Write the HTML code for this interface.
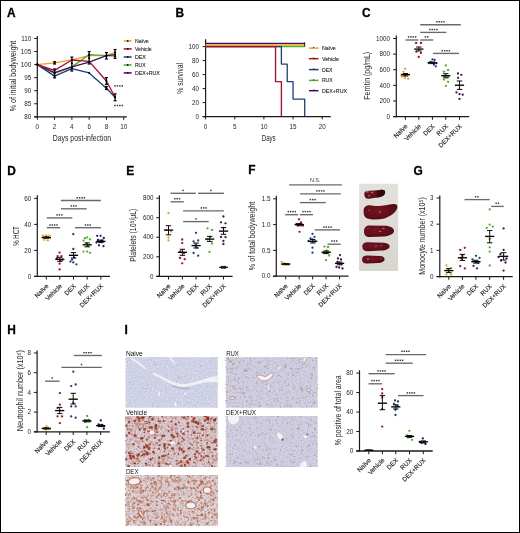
<!DOCTYPE html>
<html><head><meta charset="utf-8"><style>
html,body{margin:0;padding:0;background:#fff;}
body{width:520px;height:533px;overflow:hidden;}
.frame{position:absolute;left:0;top:0;width:518px;height:531px;border:1px solid #000;}
svg{position:absolute;left:0;top:0;will-change:transform;font-family:"Liberation Sans",sans-serif;}
</style></head><body>
<svg width="520" height="533" viewBox="0 0 520 533" font-family="Liberation Sans, sans-serif"><text x="7.00" y="17.20" font-size="11.9" fill="#000" text-anchor="start" font-weight="bold" stroke="#000" stroke-width="0.3">A</text>
<line x1="37.30" y1="36.00" x2="37.30" y2="117.40" stroke="#1a1a1a" stroke-width="1.2" />
<line x1="34.20" y1="116.90" x2="126.80" y2="116.90" stroke="#1a1a1a" stroke-width="1.3" />
<line x1="34.20" y1="116.80" x2="37.30" y2="116.80" stroke="#1a1a1a" stroke-width="1.0" />
<text x="31.20" y="119.00" font-size="6.3" fill="#262626" text-anchor="end" >80</text>
<line x1="34.20" y1="103.75" x2="37.30" y2="103.75" stroke="#1a1a1a" stroke-width="1.0" />
<text x="31.20" y="105.95" font-size="6.3" fill="#262626" text-anchor="end" >85</text>
<line x1="34.20" y1="90.70" x2="37.30" y2="90.70" stroke="#1a1a1a" stroke-width="1.0" />
<text x="31.20" y="92.90" font-size="6.3" fill="#262626" text-anchor="end" >90</text>
<line x1="34.20" y1="77.65" x2="37.30" y2="77.65" stroke="#1a1a1a" stroke-width="1.0" />
<text x="31.20" y="79.85" font-size="6.3" fill="#262626" text-anchor="end" >95</text>
<line x1="34.20" y1="64.60" x2="37.30" y2="64.60" stroke="#1a1a1a" stroke-width="1.0" />
<text x="31.20" y="66.80" font-size="6.3" fill="#262626" text-anchor="end" >100</text>
<line x1="34.20" y1="51.55" x2="37.30" y2="51.55" stroke="#1a1a1a" stroke-width="1.0" />
<text x="31.20" y="53.75" font-size="6.3" fill="#262626" text-anchor="end" >105</text>
<line x1="34.20" y1="38.50" x2="37.30" y2="38.50" stroke="#1a1a1a" stroke-width="1.0" />
<text x="31.20" y="40.70" font-size="6.3" fill="#262626" text-anchor="end" >110</text>
<line x1="37.30" y1="116.90" x2="37.30" y2="119.80" stroke="#1a1a1a" stroke-width="1.0" />
<text x="37.30" y="128.80" font-size="6.3" fill="#262626" text-anchor="middle" >0</text>
<line x1="54.58" y1="116.90" x2="54.58" y2="119.80" stroke="#1a1a1a" stroke-width="1.0" />
<text x="54.58" y="128.80" font-size="6.3" fill="#262626" text-anchor="middle" >2</text>
<line x1="71.86" y1="116.90" x2="71.86" y2="119.80" stroke="#1a1a1a" stroke-width="1.0" />
<text x="71.86" y="128.80" font-size="6.3" fill="#262626" text-anchor="middle" >4</text>
<line x1="89.14" y1="116.90" x2="89.14" y2="119.80" stroke="#1a1a1a" stroke-width="1.0" />
<text x="89.14" y="128.80" font-size="6.3" fill="#262626" text-anchor="middle" >6</text>
<line x1="106.42" y1="116.90" x2="106.42" y2="119.80" stroke="#1a1a1a" stroke-width="1.0" />
<text x="106.42" y="128.80" font-size="6.3" fill="#262626" text-anchor="middle" >8</text>
<line x1="123.70" y1="116.90" x2="123.70" y2="119.80" stroke="#1a1a1a" stroke-width="1.0" />
<text x="123.70" y="128.80" font-size="6.3" fill="#262626" text-anchor="middle" >10</text>
<text x="52.80" y="141.10" font-size="9.8" fill="#262626" text-anchor="start" textLength="58.3" lengthAdjust="spacingAndGlyphs" >Days post-infection</text>
<text x="0" y="0" font-size="9.6" fill="#262626" text-anchor="start" transform="translate(15.60,111.20) rotate(-90)" textLength="70.5" lengthAdjust="spacingAndGlyphs" >% of initial bodyweight</text>
<polyline points="37.30,64.60 54.58,62.90 71.86,59.80 89.14,55.60 106.42,55.70 115.06,52.30" fill="none" stroke="#eea02a" stroke-width="1.3" stroke-linejoin="round"/>
<polyline points="37.30,64.60 54.58,73.50 71.86,66.90 89.14,54.60 106.42,55.70 115.06,56.20" fill="none" stroke="#4fb324" stroke-width="1.3" stroke-linejoin="round"/>
<polyline points="37.30,64.60 54.58,72.70 71.86,66.90 89.14,62.10 106.42,55.70 115.06,54.60" fill="none" stroke="#42105e" stroke-width="1.3" stroke-linejoin="round"/>
<polyline points="37.30,64.60 54.58,76.10 71.86,68.60 89.14,72.90 106.42,88.30 115.06,97.30" fill="none" stroke="#1d3c82" stroke-width="1.3" stroke-linejoin="round"/>
<polyline points="37.30,64.60 54.58,70.40 71.86,60.00 89.14,61.40 106.42,81.00 115.06,97.30" fill="none" stroke="#b50a28" stroke-width="1.3" stroke-linejoin="round"/>
<line x1="54.58" y1="61.70" x2="54.58" y2="64.00" stroke="#000" stroke-width="1.25" />
<line x1="53.08" y1="61.70" x2="56.08" y2="61.70" stroke="#000" stroke-width="1.2" />
<line x1="53.08" y1="64.00" x2="56.08" y2="64.00" stroke="#000" stroke-width="1.2" />
<line x1="54.58" y1="69.00" x2="54.58" y2="77.90" stroke="#000" stroke-width="1.25" />
<line x1="53.08" y1="69.00" x2="56.08" y2="69.00" stroke="#000" stroke-width="1.2" />
<line x1="53.08" y1="77.90" x2="56.08" y2="77.90" stroke="#000" stroke-width="1.2" />
<line x1="71.86" y1="57.10" x2="71.86" y2="71.00" stroke="#000" stroke-width="1.25" />
<line x1="70.36" y1="57.10" x2="73.36" y2="57.10" stroke="#000" stroke-width="1.2" />
<line x1="70.36" y1="71.00" x2="73.36" y2="71.00" stroke="#000" stroke-width="1.2" />
<line x1="89.14" y1="51.60" x2="89.14" y2="64.00" stroke="#000" stroke-width="1.25" />
<line x1="87.64" y1="51.60" x2="90.64" y2="51.60" stroke="#000" stroke-width="1.2" />
<line x1="87.64" y1="64.00" x2="90.64" y2="64.00" stroke="#000" stroke-width="1.2" />
<line x1="106.42" y1="52.60" x2="106.42" y2="59.00" stroke="#000" stroke-width="1.25" />
<line x1="104.92" y1="52.60" x2="107.92" y2="52.60" stroke="#000" stroke-width="1.2" />
<line x1="104.92" y1="59.00" x2="107.92" y2="59.00" stroke="#000" stroke-width="1.2" />
<line x1="106.42" y1="77.60" x2="106.42" y2="84.40" stroke="#000" stroke-width="1.25" />
<line x1="104.92" y1="77.60" x2="107.92" y2="77.60" stroke="#000" stroke-width="1.2" />
<line x1="104.92" y1="84.40" x2="107.92" y2="84.40" stroke="#000" stroke-width="1.2" />
<line x1="106.42" y1="86.50" x2="106.42" y2="89.50" stroke="#000" stroke-width="1.25" />
<line x1="104.92" y1="86.50" x2="107.92" y2="86.50" stroke="#000" stroke-width="1.2" />
<line x1="104.92" y1="89.50" x2="107.92" y2="89.50" stroke="#000" stroke-width="1.2" />
<line x1="115.06" y1="49.50" x2="115.06" y2="58.30" stroke="#000" stroke-width="1.25" />
<line x1="113.56" y1="49.50" x2="116.56" y2="49.50" stroke="#000" stroke-width="1.2" />
<line x1="113.56" y1="58.30" x2="116.56" y2="58.30" stroke="#000" stroke-width="1.2" />
<line x1="115.06" y1="93.90" x2="115.06" y2="100.70" stroke="#000" stroke-width="1.25" />
<line x1="113.56" y1="93.90" x2="116.56" y2="93.90" stroke="#000" stroke-width="1.2" />
<line x1="113.56" y1="100.70" x2="116.56" y2="100.70" stroke="#000" stroke-width="1.2" />
<circle cx="37.30" cy="64.60" r="1.0" fill="#000"/>
<circle cx="54.58" cy="62.90" r="1.0" fill="#000"/>
<circle cx="71.86" cy="59.80" r="1.0" fill="#000"/>
<circle cx="89.14" cy="55.60" r="1.0" fill="#000"/>
<circle cx="106.42" cy="55.70" r="1.0" fill="#000"/>
<circle cx="115.06" cy="52.30" r="1.0" fill="#000"/>
<circle cx="37.30" cy="64.60" r="1.0" fill="#000"/>
<circle cx="54.58" cy="73.50" r="1.0" fill="#000"/>
<circle cx="71.86" cy="66.90" r="1.0" fill="#000"/>
<circle cx="89.14" cy="54.60" r="1.0" fill="#000"/>
<circle cx="106.42" cy="55.70" r="1.0" fill="#000"/>
<circle cx="115.06" cy="56.20" r="1.0" fill="#000"/>
<circle cx="37.30" cy="64.60" r="1.0" fill="#000"/>
<circle cx="54.58" cy="72.70" r="1.0" fill="#000"/>
<circle cx="71.86" cy="66.90" r="1.0" fill="#000"/>
<circle cx="89.14" cy="62.10" r="1.0" fill="#000"/>
<circle cx="106.42" cy="55.70" r="1.0" fill="#000"/>
<circle cx="115.06" cy="54.60" r="1.0" fill="#000"/>
<circle cx="37.30" cy="64.60" r="1.0" fill="#000"/>
<circle cx="54.58" cy="76.10" r="1.0" fill="#000"/>
<circle cx="71.86" cy="68.60" r="1.0" fill="#000"/>
<circle cx="89.14" cy="72.90" r="1.0" fill="#000"/>
<circle cx="106.42" cy="88.30" r="1.0" fill="#000"/>
<circle cx="115.06" cy="97.30" r="1.0" fill="#000"/>
<circle cx="37.30" cy="64.60" r="1.0" fill="#000"/>
<circle cx="54.58" cy="70.40" r="1.0" fill="#000"/>
<circle cx="71.86" cy="60.00" r="1.0" fill="#000"/>
<circle cx="89.14" cy="61.40" r="1.0" fill="#000"/>
<circle cx="106.42" cy="81.00" r="1.0" fill="#000"/>
<circle cx="115.06" cy="97.30" r="1.0" fill="#000"/>
<circle cx="71.86" cy="63.40" r="1.1" fill="#000"/>
<circle cx="89.14" cy="58.20" r="1.1" fill="#000"/>
<rect x="114.20" y="85.18" width="1.44" height="1.44" fill="#333"/>
<rect x="116.66" y="85.18" width="1.44" height="1.44" fill="#333"/>
<rect x="119.11" y="85.18" width="1.44" height="1.44" fill="#333"/>
<rect x="121.55" y="85.18" width="1.44" height="1.44" fill="#333"/>
<rect x="114.20" y="104.78" width="1.44" height="1.44" fill="#333"/>
<rect x="116.66" y="104.78" width="1.44" height="1.44" fill="#333"/>
<rect x="119.11" y="104.78" width="1.44" height="1.44" fill="#333"/>
<rect x="121.55" y="104.78" width="1.44" height="1.44" fill="#333"/>
<line x1="123.70" y1="40.90" x2="131.70" y2="40.90" stroke="#eea02a" stroke-width="1.5" />
<circle cx="127.70" cy="40.90" r="0.9" fill="#111"/>
<text x="134.90" y="42.70" font-size="5.0" fill="#2a2a2a" text-anchor="start" textLength="13.9" lengthAdjust="spacingAndGlyphs" stroke="#2a2a2a" stroke-width="0.12">Naïve</text>
<line x1="123.70" y1="48.90" x2="131.70" y2="48.90" stroke="#b50a28" stroke-width="1.5" />
<circle cx="127.70" cy="48.90" r="0.9" fill="#111"/>
<text x="134.90" y="50.70" font-size="5.0" fill="#2a2a2a" text-anchor="start" textLength="16.8" lengthAdjust="spacingAndGlyphs" stroke="#2a2a2a" stroke-width="0.12">Vehicle</text>
<line x1="123.70" y1="57.00" x2="131.70" y2="57.00" stroke="#1d3c82" stroke-width="1.5" />
<circle cx="127.70" cy="57.00" r="0.9" fill="#111"/>
<text x="134.90" y="58.80" font-size="5.0" fill="#2a2a2a" text-anchor="start" textLength="10.9" lengthAdjust="spacingAndGlyphs" stroke="#2a2a2a" stroke-width="0.12">DEX</text>
<line x1="123.70" y1="65.00" x2="131.70" y2="65.00" stroke="#4fb324" stroke-width="1.5" />
<circle cx="127.70" cy="65.00" r="0.9" fill="#111"/>
<text x="134.90" y="66.80" font-size="5.0" fill="#2a2a2a" text-anchor="start" textLength="10.6" lengthAdjust="spacingAndGlyphs" stroke="#2a2a2a" stroke-width="0.12">RUX</text>
<line x1="123.70" y1="72.90" x2="131.70" y2="72.90" stroke="#42105e" stroke-width="1.5" />
<circle cx="127.70" cy="72.90" r="0.9" fill="#111"/>
<text x="134.90" y="74.70" font-size="5.0" fill="#2a2a2a" text-anchor="start" textLength="25.0" lengthAdjust="spacingAndGlyphs" stroke="#2a2a2a" stroke-width="0.12">DEX+RUX</text>
<text x="175.60" y="17.30" font-size="11.9" fill="#000" text-anchor="start" font-weight="bold" stroke="#000" stroke-width="0.3">B</text>
<line x1="205.60" y1="39.20" x2="205.60" y2="117.10" stroke="#1a1a1a" stroke-width="1.2" />
<line x1="202.60" y1="116.60" x2="330.80" y2="116.60" stroke="#1a1a1a" stroke-width="1.3" />
<line x1="202.60" y1="116.60" x2="205.60" y2="116.60" stroke="#1a1a1a" stroke-width="1.0" />
<text x="199.00" y="118.80" font-size="6.3" fill="#262626" text-anchor="end" >0</text>
<line x1="202.60" y1="102.60" x2="205.60" y2="102.60" stroke="#1a1a1a" stroke-width="1.0" />
<text x="199.00" y="104.80" font-size="6.3" fill="#262626" text-anchor="end" >20</text>
<line x1="202.60" y1="88.60" x2="205.60" y2="88.60" stroke="#1a1a1a" stroke-width="1.0" />
<text x="199.00" y="90.80" font-size="6.3" fill="#262626" text-anchor="end" >40</text>
<line x1="202.60" y1="74.60" x2="205.60" y2="74.60" stroke="#1a1a1a" stroke-width="1.0" />
<text x="199.00" y="76.80" font-size="6.3" fill="#262626" text-anchor="end" >60</text>
<line x1="202.60" y1="60.60" x2="205.60" y2="60.60" stroke="#1a1a1a" stroke-width="1.0" />
<text x="199.00" y="62.80" font-size="6.3" fill="#262626" text-anchor="end" >80</text>
<line x1="202.60" y1="46.60" x2="205.60" y2="46.60" stroke="#1a1a1a" stroke-width="1.0" />
<text x="199.00" y="48.80" font-size="6.3" fill="#262626" text-anchor="end" >100</text>
<line x1="205.60" y1="116.60" x2="205.60" y2="119.40" stroke="#1a1a1a" stroke-width="1.0" />
<text x="205.60" y="128.60" font-size="6.3" fill="#262626" text-anchor="middle" >0</text>
<line x1="234.75" y1="116.60" x2="234.75" y2="119.40" stroke="#1a1a1a" stroke-width="1.0" />
<text x="234.75" y="128.60" font-size="6.3" fill="#262626" text-anchor="middle" >5</text>
<line x1="263.90" y1="116.60" x2="263.90" y2="119.40" stroke="#1a1a1a" stroke-width="1.0" />
<text x="263.90" y="128.60" font-size="6.3" fill="#262626" text-anchor="middle" >10</text>
<line x1="293.05" y1="116.60" x2="293.05" y2="119.40" stroke="#1a1a1a" stroke-width="1.0" />
<text x="293.05" y="128.60" font-size="6.3" fill="#262626" text-anchor="middle" >15</text>
<line x1="322.20" y1="116.60" x2="322.20" y2="119.40" stroke="#1a1a1a" stroke-width="1.0" />
<text x="322.20" y="128.60" font-size="6.3" fill="#262626" text-anchor="middle" >20</text>
<text x="268.70" y="140.50" font-size="9.6" fill="#262626" text-anchor="middle" textLength="14" lengthAdjust="spacingAndGlyphs" >Days</text>
<text x="0" y="0" font-size="9.4" fill="#262626" text-anchor="middle" transform="translate(183.40,78.30) rotate(-90)" textLength="30.8" lengthAdjust="spacingAndGlyphs" >% survival</text>
<polyline points="205.60,46.50 304.71,46.50" fill="none" stroke="#4fb324" stroke-width="1.3" stroke-linejoin="round"/>
<polyline points="205.60,46.50 281.39,46.50 281.39,64.10 287.22,64.10 287.22,81.60 293.05,81.60 293.05,99.10 304.71,99.10 304.71,116.60" fill="none" stroke="#1d3c82" stroke-width="1.3" stroke-linejoin="round"/>
<polyline points="205.60,46.50 275.56,46.50 275.56,81.60 281.39,81.60 281.39,116.60" fill="none" stroke="#b50a28" stroke-width="1.3" stroke-linejoin="round"/>
<polyline points="205.60,45.00 304.71,45.00" fill="none" stroke="#eea02a" stroke-width="1.5" stroke-linejoin="round"/>
<polyline points="205.60,43.40 304.71,43.40" fill="none" stroke="#42105e" stroke-width="1.3" stroke-linejoin="round"/>
<line x1="304.71" y1="42.40" x2="304.71" y2="46.60" stroke="#111" stroke-width="1.0" />
<line x1="309.00" y1="48.10" x2="318.50" y2="48.10" stroke="#eea02a" stroke-width="1.5" />
<line x1="313.70" y1="46.80" x2="313.70" y2="48.10" stroke="#111" stroke-width="0.8" />
<text x="321.90" y="50.00" font-size="5.2" fill="#2a2a2a" text-anchor="start" textLength="13.9" lengthAdjust="spacingAndGlyphs" stroke="#2a2a2a" stroke-width="0.12">Naïve</text>
<line x1="309.00" y1="58.70" x2="318.50" y2="58.70" stroke="#b50a28" stroke-width="1.5" />
<line x1="313.70" y1="57.40" x2="313.70" y2="58.70" stroke="#111" stroke-width="0.8" />
<text x="321.90" y="60.60" font-size="5.2" fill="#2a2a2a" text-anchor="start" textLength="17.1" lengthAdjust="spacingAndGlyphs" stroke="#2a2a2a" stroke-width="0.12">Vehicle</text>
<line x1="309.00" y1="69.60" x2="318.50" y2="69.60" stroke="#1d3c82" stroke-width="1.5" />
<line x1="313.70" y1="68.30" x2="313.70" y2="69.60" stroke="#111" stroke-width="0.8" />
<text x="321.90" y="71.50" font-size="5.2" fill="#2a2a2a" text-anchor="start" textLength="10.7" lengthAdjust="spacingAndGlyphs" stroke="#2a2a2a" stroke-width="0.12">DEX</text>
<line x1="309.00" y1="80.40" x2="318.50" y2="80.40" stroke="#4fb324" stroke-width="1.5" />
<line x1="313.70" y1="79.10" x2="313.70" y2="80.40" stroke="#111" stroke-width="0.8" />
<text x="321.90" y="82.30" font-size="5.2" fill="#2a2a2a" text-anchor="start" textLength="10.6" lengthAdjust="spacingAndGlyphs" stroke="#2a2a2a" stroke-width="0.12">RUX</text>
<line x1="309.00" y1="90.70" x2="318.50" y2="90.70" stroke="#42105e" stroke-width="1.5" />
<line x1="313.70" y1="89.40" x2="313.70" y2="90.70" stroke="#111" stroke-width="0.8" />
<text x="321.90" y="92.60" font-size="5.2" fill="#2a2a2a" text-anchor="start" textLength="25.1" lengthAdjust="spacingAndGlyphs" stroke="#2a2a2a" stroke-width="0.12">DEX+RUX</text>
<text x="362.00" y="17.40" font-size="11.9" fill="#000" text-anchor="start" font-weight="bold" stroke="#000" stroke-width="0.3">C</text>
<line x1="396.30" y1="35.60" x2="396.30" y2="117.20" stroke="#1a1a1a" stroke-width="1.2" />
<line x1="393.10" y1="116.60" x2="469.20" y2="116.60" stroke="#1a1a1a" stroke-width="1.3" />
<line x1="393.10" y1="116.60" x2="396.30" y2="116.60" stroke="#1a1a1a" stroke-width="1.0" />
<text x="390.00" y="118.80" font-size="6.3" fill="#262626" text-anchor="end" >0</text>
<line x1="393.10" y1="100.98" x2="396.30" y2="100.98" stroke="#1a1a1a" stroke-width="1.0" />
<text x="390.00" y="103.18" font-size="6.3" fill="#262626" text-anchor="end" >200</text>
<line x1="393.10" y1="85.36" x2="396.30" y2="85.36" stroke="#1a1a1a" stroke-width="1.0" />
<text x="390.00" y="87.56" font-size="6.3" fill="#262626" text-anchor="end" >400</text>
<line x1="393.10" y1="69.74" x2="396.30" y2="69.74" stroke="#1a1a1a" stroke-width="1.0" />
<text x="390.00" y="71.94" font-size="6.3" fill="#262626" text-anchor="end" >600</text>
<line x1="393.10" y1="54.12" x2="396.30" y2="54.12" stroke="#1a1a1a" stroke-width="1.0" />
<text x="390.00" y="56.32" font-size="6.3" fill="#262626" text-anchor="end" >800</text>
<line x1="393.10" y1="38.50" x2="396.30" y2="38.50" stroke="#1a1a1a" stroke-width="1.0" />
<text x="390.00" y="40.70" font-size="6.3" fill="#262626" text-anchor="end" >1000</text>
<line x1="405.40" y1="116.60" x2="405.40" y2="119.80" stroke="#1a1a1a" stroke-width="1.0" />
<text x="0" y="0" font-size="6.3" fill="#262626" text-anchor="end" transform="translate(408.00,126.80) rotate(-45)" stroke="#262626" stroke-width="0.15">Naïve</text>
<line x1="418.80" y1="116.60" x2="418.80" y2="119.80" stroke="#1a1a1a" stroke-width="1.0" />
<text x="0" y="0" font-size="6.3" fill="#262626" text-anchor="end" transform="translate(421.40,126.80) rotate(-45)" stroke="#262626" stroke-width="0.15">Vehicle</text>
<line x1="432.40" y1="116.60" x2="432.40" y2="119.80" stroke="#1a1a1a" stroke-width="1.0" />
<text x="0" y="0" font-size="6.3" fill="#262626" text-anchor="end" transform="translate(435.00,126.80) rotate(-45)" stroke="#262626" stroke-width="0.15">DEX</text>
<line x1="445.80" y1="116.60" x2="445.80" y2="119.80" stroke="#1a1a1a" stroke-width="1.0" />
<text x="0" y="0" font-size="6.3" fill="#262626" text-anchor="end" transform="translate(448.40,126.80) rotate(-45)" stroke="#262626" stroke-width="0.15">RUX</text>
<line x1="459.50" y1="116.60" x2="459.50" y2="119.80" stroke="#1a1a1a" stroke-width="1.0" />
<text x="0" y="0" font-size="6.3" fill="#262626" text-anchor="end" transform="translate(462.10,126.80) rotate(-45)" stroke="#262626" stroke-width="0.15">DEX+RUX</text>
<text x="0" y="0" font-size="9.6" fill="#262626" text-anchor="middle" transform="translate(370.40,75.80) rotate(-90)" textLength="48.0" lengthAdjust="spacingAndGlyphs" >Ferritin (pg/mL)</text>
<circle cx="405.20" cy="68.80" r="1.15" fill="#eea02a"/>
<circle cx="403.40" cy="71.70" r="1.15" fill="#eea02a"/>
<circle cx="401.70" cy="76.50" r="1.15" fill="#eea02a"/>
<circle cx="404.90" cy="77.90" r="1.15" fill="#eea02a"/>
<circle cx="408.20" cy="78.70" r="1.15" fill="#eea02a"/>
<circle cx="407.00" cy="74.20" r="1.15" fill="#eea02a"/>
<circle cx="403.60" cy="74.50" r="1.15" fill="#eea02a"/>
<circle cx="405.50" cy="75.60" r="1.15" fill="#eea02a"/>
<circle cx="416.10" cy="43.00" r="1.15" fill="#b50a28"/>
<circle cx="421.00" cy="43.00" r="1.15" fill="#b50a28"/>
<circle cx="416.30" cy="51.70" r="1.15" fill="#b50a28"/>
<circle cx="421.00" cy="52.90" r="1.15" fill="#b50a28"/>
<circle cx="418.70" cy="56.90" r="1.15" fill="#b50a28"/>
<circle cx="432.50" cy="59.40" r="1.15" fill="#1d3c82"/>
<circle cx="434.60" cy="60.00" r="1.15" fill="#1d3c82"/>
<circle cx="428.80" cy="63.00" r="1.15" fill="#1d3c82"/>
<circle cx="434.00" cy="64.50" r="1.15" fill="#1d3c82"/>
<circle cx="435.80" cy="66.30" r="1.15" fill="#1d3c82"/>
<circle cx="430.50" cy="62.00" r="1.15" fill="#1d3c82"/>
<circle cx="436.50" cy="63.20" r="1.15" fill="#1d3c82"/>
<circle cx="445.90" cy="65.50" r="1.15" fill="#4fb324"/>
<circle cx="448.10" cy="70.00" r="1.15" fill="#4fb324"/>
<circle cx="443.80" cy="71.70" r="1.15" fill="#4fb324"/>
<circle cx="448.10" cy="76.90" r="1.15" fill="#4fb324"/>
<circle cx="443.80" cy="79.60" r="1.15" fill="#4fb324"/>
<circle cx="448.10" cy="81.80" r="1.15" fill="#4fb324"/>
<circle cx="445.90" cy="85.80" r="1.15" fill="#4fb324"/>
<circle cx="444.00" cy="76.00" r="1.15" fill="#4fb324"/>
<circle cx="458.00" cy="73.50" r="1.15" fill="#42105e"/>
<circle cx="461.30" cy="74.80" r="1.15" fill="#42105e"/>
<circle cx="458.10" cy="77.80" r="1.15" fill="#42105e"/>
<circle cx="456.50" cy="92.40" r="1.15" fill="#42105e"/>
<circle cx="459.50" cy="94.10" r="1.15" fill="#42105e"/>
<circle cx="462.70" cy="94.70" r="1.15" fill="#42105e"/>
<circle cx="459.50" cy="98.90" r="1.15" fill="#42105e"/>
<line x1="400.80" y1="74.70" x2="410.00" y2="74.70" stroke="#000" stroke-width="1.35" />
<line x1="405.40" y1="73.50" x2="405.40" y2="76.00" stroke="#111" stroke-width="1.0" />
<line x1="402.70" y1="73.50" x2="408.10" y2="73.50" stroke="#111" stroke-width="1.05" />
<line x1="402.70" y1="76.00" x2="408.10" y2="76.00" stroke="#111" stroke-width="1.05" />
<line x1="414.20" y1="49.10" x2="423.40" y2="49.10" stroke="#000" stroke-width="1.35" />
<line x1="418.80" y1="47.00" x2="418.80" y2="51.00" stroke="#111" stroke-width="1.0" />
<line x1="416.10" y1="47.00" x2="421.50" y2="47.00" stroke="#111" stroke-width="1.05" />
<line x1="416.10" y1="51.00" x2="421.50" y2="51.00" stroke="#111" stroke-width="1.05" />
<line x1="427.80" y1="62.80" x2="437.00" y2="62.80" stroke="#000" stroke-width="1.35" />
<line x1="432.40" y1="62.00" x2="432.40" y2="63.60" stroke="#111" stroke-width="1.0" />
<line x1="429.70" y1="62.00" x2="435.10" y2="62.00" stroke="#111" stroke-width="1.05" />
<line x1="429.70" y1="63.60" x2="435.10" y2="63.60" stroke="#111" stroke-width="1.05" />
<line x1="441.20" y1="75.70" x2="450.40" y2="75.70" stroke="#000" stroke-width="1.35" />
<line x1="445.80" y1="73.70" x2="445.80" y2="77.80" stroke="#111" stroke-width="1.0" />
<line x1="443.10" y1="73.70" x2="448.50" y2="73.70" stroke="#111" stroke-width="1.05" />
<line x1="443.10" y1="77.80" x2="448.50" y2="77.80" stroke="#111" stroke-width="1.05" />
<line x1="454.90" y1="85.20" x2="464.10" y2="85.20" stroke="#000" stroke-width="1.35" />
<line x1="459.50" y1="81.00" x2="459.50" y2="89.40" stroke="#111" stroke-width="1.0" />
<line x1="456.80" y1="81.00" x2="462.20" y2="81.00" stroke="#111" stroke-width="1.05" />
<line x1="456.80" y1="89.40" x2="462.20" y2="89.40" stroke="#111" stroke-width="1.05" />
<line x1="420.20" y1="24.70" x2="460.80" y2="24.70" stroke="#6a6a6a" stroke-width="1.35" />
<rect x="436.15" y="21.08" width="1.44" height="1.44" fill="#333"/>
<rect x="438.50" y="21.08" width="1.44" height="1.44" fill="#333"/>
<rect x="440.85" y="21.08" width="1.44" height="1.44" fill="#333"/>
<rect x="443.20" y="21.08" width="1.44" height="1.44" fill="#333"/>
<line x1="420.20" y1="32.40" x2="446.40" y2="32.40" stroke="#6a6a6a" stroke-width="1.35" />
<rect x="429.15" y="28.78" width="1.44" height="1.44" fill="#333"/>
<rect x="431.50" y="28.78" width="1.44" height="1.44" fill="#333"/>
<rect x="433.85" y="28.78" width="1.44" height="1.44" fill="#333"/>
<rect x="436.20" y="28.78" width="1.44" height="1.44" fill="#333"/>
<line x1="405.40" y1="40.00" x2="418.40" y2="40.00" stroke="#6a6a6a" stroke-width="1.35" />
<rect x="407.86" y="36.18" width="1.44" height="1.44" fill="#333"/>
<rect x="410.21" y="36.18" width="1.44" height="1.44" fill="#333"/>
<rect x="412.56" y="36.18" width="1.44" height="1.44" fill="#333"/>
<rect x="414.91" y="36.18" width="1.44" height="1.44" fill="#333"/>
<line x1="420.20" y1="40.00" x2="433.20" y2="40.00" stroke="#6a6a6a" stroke-width="1.35" />
<rect x="424.70" y="36.18" width="1.44" height="1.44" fill="#333"/>
<rect x="427.06" y="36.18" width="1.44" height="1.44" fill="#333"/>
<line x1="433.00" y1="53.40" x2="459.00" y2="53.40" stroke="#6a6a6a" stroke-width="1.35" />
<rect x="441.56" y="49.98" width="1.44" height="1.44" fill="#333"/>
<rect x="443.91" y="49.98" width="1.44" height="1.44" fill="#333"/>
<rect x="446.25" y="49.98" width="1.44" height="1.44" fill="#333"/>
<rect x="448.61" y="49.98" width="1.44" height="1.44" fill="#333"/>
<text x="7.20" y="174.50" font-size="11.9" fill="#000" text-anchor="start" font-weight="bold" stroke="#000" stroke-width="0.3">D</text>
<line x1="37.30" y1="195.20" x2="37.30" y2="277.00" stroke="#1a1a1a" stroke-width="1.2" />
<line x1="34.10" y1="276.40" x2="109.90" y2="276.40" stroke="#1a1a1a" stroke-width="1.3" />
<line x1="34.10" y1="276.40" x2="37.30" y2="276.40" stroke="#1a1a1a" stroke-width="1.0" />
<text x="31.20" y="278.60" font-size="6.3" fill="#262626" text-anchor="end" >0</text>
<line x1="34.10" y1="250.40" x2="37.30" y2="250.40" stroke="#1a1a1a" stroke-width="1.0" />
<text x="31.20" y="252.60" font-size="6.3" fill="#262626" text-anchor="end" >20</text>
<line x1="34.10" y1="224.40" x2="37.30" y2="224.40" stroke="#1a1a1a" stroke-width="1.0" />
<text x="31.20" y="226.60" font-size="6.3" fill="#262626" text-anchor="end" >40</text>
<line x1="34.10" y1="198.40" x2="37.30" y2="198.40" stroke="#1a1a1a" stroke-width="1.0" />
<text x="31.20" y="200.60" font-size="6.3" fill="#262626" text-anchor="end" >60</text>
<line x1="46.30" y1="276.40" x2="46.30" y2="279.60" stroke="#1a1a1a" stroke-width="1.0" />
<text x="0" y="0" font-size="6.3" fill="#262626" text-anchor="end" transform="translate(48.90,286.60) rotate(-45)" stroke="#262626" stroke-width="0.15">Naïve</text>
<line x1="59.80" y1="276.40" x2="59.80" y2="279.60" stroke="#1a1a1a" stroke-width="1.0" />
<text x="0" y="0" font-size="6.3" fill="#262626" text-anchor="end" transform="translate(62.40,286.60) rotate(-45)" stroke="#262626" stroke-width="0.15">Vehicle</text>
<line x1="73.50" y1="276.40" x2="73.50" y2="279.60" stroke="#1a1a1a" stroke-width="1.0" />
<text x="0" y="0" font-size="6.3" fill="#262626" text-anchor="end" transform="translate(76.10,286.60) rotate(-45)" stroke="#262626" stroke-width="0.15">DEX</text>
<line x1="87.20" y1="276.40" x2="87.20" y2="279.60" stroke="#1a1a1a" stroke-width="1.0" />
<text x="0" y="0" font-size="6.3" fill="#262626" text-anchor="end" transform="translate(89.80,286.60) rotate(-45)" stroke="#262626" stroke-width="0.15">RUX</text>
<line x1="100.90" y1="276.40" x2="100.90" y2="279.60" stroke="#1a1a1a" stroke-width="1.0" />
<text x="0" y="0" font-size="6.3" fill="#262626" text-anchor="end" transform="translate(103.50,286.60) rotate(-45)" stroke="#262626" stroke-width="0.15">DEX+RUX</text>
<text x="0" y="0" font-size="9.6" fill="#262626" text-anchor="middle" transform="translate(18.50,236.00) rotate(-90)" textLength="19.5" lengthAdjust="spacingAndGlyphs" >% HCT</text>
<circle cx="43.00" cy="235.60" r="1.15" fill="#eea02a"/>
<circle cx="46.30" cy="235.30" r="1.15" fill="#eea02a"/>
<circle cx="49.60" cy="235.60" r="1.15" fill="#eea02a"/>
<circle cx="44.20" cy="239.80" r="1.15" fill="#eea02a"/>
<circle cx="47.80" cy="240.40" r="1.15" fill="#eea02a"/>
<circle cx="46.30" cy="237.50" r="1.15" fill="#eea02a"/>
<circle cx="42.80" cy="237.80" r="1.15" fill="#eea02a"/>
<circle cx="49.80" cy="238.00" r="1.15" fill="#eea02a"/>
<circle cx="59.60" cy="252.60" r="1.15" fill="#b50a28"/>
<circle cx="57.60" cy="256.10" r="1.15" fill="#b50a28"/>
<circle cx="61.50" cy="256.10" r="1.15" fill="#b50a28"/>
<circle cx="56.90" cy="258.20" r="1.15" fill="#b50a28"/>
<circle cx="62.40" cy="259.80" r="1.15" fill="#b50a28"/>
<circle cx="59.60" cy="263.70" r="1.15" fill="#b50a28"/>
<circle cx="59.60" cy="269.40" r="1.15" fill="#b50a28"/>
<circle cx="60.30" cy="261.00" r="1.15" fill="#b50a28"/>
<circle cx="73.30" cy="234.20" r="1.15" fill="#1d3c82"/>
<circle cx="73.30" cy="249.00" r="1.15" fill="#1d3c82"/>
<circle cx="72.00" cy="259.70" r="1.15" fill="#1d3c82"/>
<circle cx="70.40" cy="261.60" r="1.15" fill="#1d3c82"/>
<circle cx="73.30" cy="262.40" r="1.15" fill="#1d3c82"/>
<circle cx="76.40" cy="264.30" r="1.15" fill="#1d3c82"/>
<circle cx="74.20" cy="257.50" r="1.15" fill="#1d3c82"/>
<circle cx="85.00" cy="238.20" r="1.15" fill="#4fb324"/>
<circle cx="87.20" cy="237.40" r="1.15" fill="#4fb324"/>
<circle cx="90.00" cy="239.30" r="1.15" fill="#4fb324"/>
<circle cx="83.50" cy="240.60" r="1.15" fill="#4fb324"/>
<circle cx="86.60" cy="243.20" r="1.15" fill="#4fb324"/>
<circle cx="83.50" cy="251.60" r="1.15" fill="#4fb324"/>
<circle cx="87.20" cy="251.60" r="1.15" fill="#4fb324"/>
<circle cx="90.00" cy="252.80" r="1.15" fill="#4fb324"/>
<circle cx="88.40" cy="246.00" r="1.15" fill="#4fb324"/>
<circle cx="97.20" cy="235.80" r="1.15" fill="#42105e"/>
<circle cx="100.60" cy="235.80" r="1.15" fill="#42105e"/>
<circle cx="103.80" cy="238.00" r="1.15" fill="#42105e"/>
<circle cx="96.50" cy="242.50" r="1.15" fill="#42105e"/>
<circle cx="99.00" cy="245.30" r="1.15" fill="#42105e"/>
<circle cx="103.50" cy="246.20" r="1.15" fill="#42105e"/>
<circle cx="102.00" cy="240.40" r="1.15" fill="#42105e"/>
<circle cx="98.00" cy="240.00" r="1.15" fill="#42105e"/>
<line x1="41.70" y1="237.50" x2="50.90" y2="237.50" stroke="#000" stroke-width="1.35" />
<line x1="46.30" y1="236.80" x2="46.30" y2="238.20" stroke="#111" stroke-width="1.0" />
<line x1="43.60" y1="236.80" x2="49.00" y2="236.80" stroke="#111" stroke-width="1.05" />
<line x1="43.60" y1="238.20" x2="49.00" y2="238.20" stroke="#111" stroke-width="1.05" />
<line x1="55.20" y1="259.30" x2="64.40" y2="259.30" stroke="#000" stroke-width="1.35" />
<line x1="59.80" y1="257.30" x2="59.80" y2="261.30" stroke="#111" stroke-width="1.0" />
<line x1="57.10" y1="257.30" x2="62.50" y2="257.30" stroke="#111" stroke-width="1.05" />
<line x1="57.10" y1="261.30" x2="62.50" y2="261.30" stroke="#111" stroke-width="1.05" />
<line x1="68.90" y1="255.30" x2="78.10" y2="255.30" stroke="#000" stroke-width="1.35" />
<line x1="73.50" y1="252.60" x2="73.50" y2="258.00" stroke="#111" stroke-width="1.0" />
<line x1="70.80" y1="252.60" x2="76.20" y2="252.60" stroke="#111" stroke-width="1.05" />
<line x1="70.80" y1="258.00" x2="76.20" y2="258.00" stroke="#111" stroke-width="1.05" />
<line x1="82.60" y1="244.80" x2="91.80" y2="244.80" stroke="#000" stroke-width="1.35" />
<line x1="87.20" y1="242.90" x2="87.20" y2="246.80" stroke="#111" stroke-width="1.0" />
<line x1="84.50" y1="242.90" x2="89.90" y2="242.90" stroke="#111" stroke-width="1.05" />
<line x1="84.50" y1="246.80" x2="89.90" y2="246.80" stroke="#111" stroke-width="1.05" />
<line x1="96.30" y1="241.40" x2="105.50" y2="241.40" stroke="#000" stroke-width="1.35" />
<line x1="100.90" y1="240.20" x2="100.90" y2="242.60" stroke="#111" stroke-width="1.0" />
<line x1="98.20" y1="240.20" x2="103.60" y2="240.20" stroke="#111" stroke-width="1.05" />
<line x1="98.20" y1="242.60" x2="103.60" y2="242.60" stroke="#111" stroke-width="1.05" />
<line x1="60.90" y1="200.50" x2="100.90" y2="200.50" stroke="#6a6a6a" stroke-width="1.35" />
<rect x="76.55" y="197.08" width="1.44" height="1.44" fill="#333"/>
<rect x="78.90" y="197.08" width="1.44" height="1.44" fill="#333"/>
<rect x="81.25" y="197.08" width="1.44" height="1.44" fill="#333"/>
<rect x="83.60" y="197.08" width="1.44" height="1.44" fill="#333"/>
<line x1="60.90" y1="208.80" x2="86.70" y2="208.80" stroke="#6a6a6a" stroke-width="1.35" />
<rect x="70.63" y="205.18" width="1.44" height="1.44" fill="#333"/>
<rect x="72.98" y="205.18" width="1.44" height="1.44" fill="#333"/>
<rect x="75.33" y="205.18" width="1.44" height="1.44" fill="#333"/>
<line x1="46.70" y1="217.90" x2="72.30" y2="217.90" stroke="#6a6a6a" stroke-width="1.35" />
<rect x="56.43" y="214.18" width="1.44" height="1.44" fill="#333"/>
<rect x="58.78" y="214.18" width="1.44" height="1.44" fill="#333"/>
<rect x="61.13" y="214.18" width="1.44" height="1.44" fill="#333"/>
<line x1="46.70" y1="227.70" x2="60.20" y2="227.70" stroke="#6a6a6a" stroke-width="1.35" />
<rect x="49.26" y="224.28" width="1.44" height="1.44" fill="#333"/>
<rect x="51.61" y="224.28" width="1.44" height="1.44" fill="#333"/>
<rect x="53.96" y="224.28" width="1.44" height="1.44" fill="#333"/>
<rect x="56.31" y="224.28" width="1.44" height="1.44" fill="#333"/>
<line x1="75.00" y1="227.70" x2="100.90" y2="227.70" stroke="#6a6a6a" stroke-width="1.35" />
<rect x="84.73" y="224.28" width="1.44" height="1.44" fill="#333"/>
<rect x="87.08" y="224.28" width="1.44" height="1.44" fill="#333"/>
<rect x="89.43" y="224.28" width="1.44" height="1.44" fill="#333"/>
<text x="126.30" y="174.50" font-size="11.9" fill="#000" text-anchor="start" font-weight="bold" stroke="#000" stroke-width="0.3">E</text>
<line x1="159.40" y1="195.20" x2="159.40" y2="276.90" stroke="#1a1a1a" stroke-width="1.2" />
<line x1="156.20" y1="276.30" x2="232.60" y2="276.30" stroke="#1a1a1a" stroke-width="1.3" />
<line x1="156.20" y1="276.30" x2="159.40" y2="276.30" stroke="#1a1a1a" stroke-width="1.0" />
<text x="153.60" y="278.50" font-size="6.3" fill="#262626" text-anchor="end" >0</text>
<line x1="156.20" y1="256.78" x2="159.40" y2="256.78" stroke="#1a1a1a" stroke-width="1.0" />
<text x="153.60" y="258.98" font-size="6.3" fill="#262626" text-anchor="end" >200</text>
<line x1="156.20" y1="237.26" x2="159.40" y2="237.26" stroke="#1a1a1a" stroke-width="1.0" />
<text x="153.60" y="239.46" font-size="6.3" fill="#262626" text-anchor="end" >400</text>
<line x1="156.20" y1="217.74" x2="159.40" y2="217.74" stroke="#1a1a1a" stroke-width="1.0" />
<text x="153.60" y="219.94" font-size="6.3" fill="#262626" text-anchor="end" >600</text>
<line x1="156.20" y1="198.22" x2="159.40" y2="198.22" stroke="#1a1a1a" stroke-width="1.0" />
<text x="153.60" y="200.42" font-size="6.3" fill="#262626" text-anchor="end" >800</text>
<line x1="168.50" y1="276.30" x2="168.50" y2="279.50" stroke="#1a1a1a" stroke-width="1.0" />
<text x="0" y="0" font-size="6.3" fill="#262626" text-anchor="end" transform="translate(171.10,286.50) rotate(-45)" stroke="#262626" stroke-width="0.15">Naïve</text>
<line x1="182.40" y1="276.30" x2="182.40" y2="279.50" stroke="#1a1a1a" stroke-width="1.0" />
<text x="0" y="0" font-size="6.3" fill="#262626" text-anchor="end" transform="translate(185.00,286.50) rotate(-45)" stroke="#262626" stroke-width="0.15">Vehicle</text>
<line x1="196.10" y1="276.30" x2="196.10" y2="279.50" stroke="#1a1a1a" stroke-width="1.0" />
<text x="0" y="0" font-size="6.3" fill="#262626" text-anchor="end" transform="translate(198.70,286.50) rotate(-45)" stroke="#262626" stroke-width="0.15">DEX</text>
<line x1="209.70" y1="276.30" x2="209.70" y2="279.50" stroke="#1a1a1a" stroke-width="1.0" />
<text x="0" y="0" font-size="6.3" fill="#262626" text-anchor="end" transform="translate(212.30,286.50) rotate(-45)" stroke="#262626" stroke-width="0.15">RUX</text>
<line x1="223.50" y1="276.30" x2="223.50" y2="279.50" stroke="#1a1a1a" stroke-width="1.0" />
<text x="0" y="0" font-size="6.3" fill="#262626" text-anchor="end" transform="translate(226.10,286.50) rotate(-45)" stroke="#262626" stroke-width="0.15">DEX+RUX</text>
<text x="0" y="0" font-size="9.6" fill="#262626" text-anchor="middle" transform="translate(136.30,235.20) rotate(-90)" textLength="53.2" lengthAdjust="spacingAndGlyphs" >Platelets (10⁵/μL)</text>
<circle cx="168.50" cy="213.00" r="1.15" fill="#eea02a"/>
<circle cx="166.40" cy="230.00" r="1.15" fill="#eea02a"/>
<circle cx="171.00" cy="231.50" r="1.15" fill="#eea02a"/>
<circle cx="168.50" cy="237.50" r="1.15" fill="#eea02a"/>
<circle cx="168.50" cy="240.50" r="1.15" fill="#eea02a"/>
<circle cx="182.20" cy="239.50" r="1.15" fill="#b50a28"/>
<circle cx="182.20" cy="243.10" r="1.15" fill="#b50a28"/>
<circle cx="180.40" cy="251.50" r="1.15" fill="#b50a28"/>
<circle cx="184.00" cy="253.00" r="1.15" fill="#b50a28"/>
<circle cx="180.00" cy="258.00" r="1.15" fill="#b50a28"/>
<circle cx="184.70" cy="259.20" r="1.15" fill="#b50a28"/>
<circle cx="182.20" cy="263.30" r="1.15" fill="#b50a28"/>
<circle cx="196.00" cy="232.80" r="1.15" fill="#1d3c82"/>
<circle cx="193.60" cy="241.50" r="1.15" fill="#1d3c82"/>
<circle cx="198.20" cy="240.50" r="1.15" fill="#1d3c82"/>
<circle cx="195.20" cy="245.50" r="1.15" fill="#1d3c82"/>
<circle cx="193.60" cy="253.00" r="1.15" fill="#1d3c82"/>
<circle cx="198.20" cy="255.70" r="1.15" fill="#1d3c82"/>
<circle cx="196.60" cy="247.60" r="1.15" fill="#1d3c82"/>
<circle cx="207.50" cy="228.30" r="1.15" fill="#4fb324"/>
<circle cx="212.00" cy="230.00" r="1.15" fill="#4fb324"/>
<circle cx="207.50" cy="239.50" r="1.15" fill="#4fb324"/>
<circle cx="212.00" cy="243.50" r="1.15" fill="#4fb324"/>
<circle cx="209.50" cy="251.90" r="1.15" fill="#4fb324"/>
<circle cx="210.20" cy="237.00" r="1.15" fill="#4fb324"/>
<circle cx="223.40" cy="216.50" r="1.15" fill="#42105e"/>
<circle cx="221.00" cy="222.30" r="1.15" fill="#42105e"/>
<circle cx="225.50" cy="223.30" r="1.15" fill="#42105e"/>
<circle cx="223.40" cy="227.80" r="1.15" fill="#42105e"/>
<circle cx="221.00" cy="237.00" r="1.15" fill="#42105e"/>
<circle cx="225.50" cy="237.20" r="1.15" fill="#42105e"/>
<circle cx="223.40" cy="240.90" r="1.15" fill="#42105e"/>
<circle cx="223.40" cy="244.00" r="1.15" fill="#42105e"/>
<line x1="163.90" y1="230.10" x2="173.10" y2="230.10" stroke="#000" stroke-width="1.35" />
<line x1="168.50" y1="225.70" x2="168.50" y2="234.80" stroke="#111" stroke-width="1.0" />
<line x1="165.80" y1="225.70" x2="171.20" y2="225.70" stroke="#111" stroke-width="1.05" />
<line x1="165.80" y1="234.80" x2="171.20" y2="234.80" stroke="#111" stroke-width="1.05" />
<line x1="177.80" y1="252.30" x2="187.00" y2="252.30" stroke="#000" stroke-width="1.35" />
<line x1="182.40" y1="249.30" x2="182.40" y2="255.30" stroke="#111" stroke-width="1.0" />
<line x1="179.70" y1="249.30" x2="185.10" y2="249.30" stroke="#111" stroke-width="1.05" />
<line x1="179.70" y1="255.30" x2="185.10" y2="255.30" stroke="#111" stroke-width="1.05" />
<line x1="191.50" y1="245.60" x2="200.70" y2="245.60" stroke="#000" stroke-width="1.35" />
<line x1="196.10" y1="243.10" x2="196.10" y2="248.00" stroke="#111" stroke-width="1.0" />
<line x1="193.40" y1="243.10" x2="198.80" y2="243.10" stroke="#111" stroke-width="1.05" />
<line x1="193.40" y1="248.00" x2="198.80" y2="248.00" stroke="#111" stroke-width="1.05" />
<line x1="205.10" y1="239.10" x2="214.30" y2="239.10" stroke="#000" stroke-width="1.35" />
<line x1="209.70" y1="236.40" x2="209.70" y2="241.50" stroke="#111" stroke-width="1.0" />
<line x1="207.00" y1="236.40" x2="212.40" y2="236.40" stroke="#111" stroke-width="1.05" />
<line x1="207.00" y1="241.50" x2="212.40" y2="241.50" stroke="#111" stroke-width="1.05" />
<line x1="218.90" y1="231.10" x2="228.10" y2="231.10" stroke="#000" stroke-width="1.35" />
<line x1="223.50" y1="227.60" x2="223.50" y2="234.30" stroke="#111" stroke-width="1.0" />
<line x1="220.80" y1="227.60" x2="226.20" y2="227.60" stroke="#111" stroke-width="1.05" />
<line x1="220.80" y1="234.30" x2="226.20" y2="234.30" stroke="#111" stroke-width="1.05" />
<line x1="170.50" y1="193.30" x2="195.90" y2="193.30" stroke="#6a6a6a" stroke-width="1.35" />
<rect x="182.38" y="189.68" width="1.44" height="1.44" fill="#333"/>
<line x1="198.10" y1="193.30" x2="223.90" y2="193.30" stroke="#6a6a6a" stroke-width="1.35" />
<rect x="210.18" y="189.68" width="1.44" height="1.44" fill="#333"/>
<line x1="170.50" y1="201.80" x2="183.80" y2="201.80" stroke="#6a6a6a" stroke-width="1.35" />
<rect x="174.13" y="197.98" width="1.44" height="1.44" fill="#333"/>
<rect x="176.48" y="197.98" width="1.44" height="1.44" fill="#333"/>
<rect x="178.83" y="197.98" width="1.44" height="1.44" fill="#333"/>
<line x1="183.10" y1="210.80" x2="223.90" y2="210.80" stroke="#6a6a6a" stroke-width="1.35" />
<rect x="200.63" y="207.18" width="1.44" height="1.44" fill="#333"/>
<rect x="202.98" y="207.18" width="1.44" height="1.44" fill="#333"/>
<rect x="205.33" y="207.18" width="1.44" height="1.44" fill="#333"/>
<line x1="183.10" y1="221.60" x2="208.70" y2="221.60" stroke="#6a6a6a" stroke-width="1.35" />
<rect x="195.38" y="218.18" width="1.44" height="1.44" fill="#333"/>
<line x1="219.10" y1="267.30" x2="228.00" y2="267.30" stroke="#111" stroke-width="1.2" />
<line x1="220.80" y1="266.40" x2="226.20" y2="266.40" stroke="#111" stroke-width="0.9" />
<line x1="220.80" y1="268.20" x2="226.20" y2="268.20" stroke="#111" stroke-width="0.9" />
<circle cx="221.80" cy="267.30" r="1.0" fill="#111"/>
<circle cx="224.80" cy="267.30" r="1.0" fill="#111"/>
<text x="248.30" y="174.30" font-size="11.9" fill="#000" text-anchor="start" font-weight="bold" stroke="#000" stroke-width="0.3">F</text>
<line x1="276.30" y1="195.80" x2="276.30" y2="276.80" stroke="#1a1a1a" stroke-width="1.2" />
<line x1="273.10" y1="276.20" x2="348.50" y2="276.20" stroke="#1a1a1a" stroke-width="1.3" />
<line x1="273.10" y1="276.20" x2="276.30" y2="276.20" stroke="#1a1a1a" stroke-width="1.0" />
<text x="270.40" y="278.40" font-size="6.3" fill="#262626" text-anchor="end" >0.0</text>
<line x1="273.10" y1="250.40" x2="276.30" y2="250.40" stroke="#1a1a1a" stroke-width="1.0" />
<text x="270.40" y="252.60" font-size="6.3" fill="#262626" text-anchor="end" >0.5</text>
<line x1="273.10" y1="224.60" x2="276.30" y2="224.60" stroke="#1a1a1a" stroke-width="1.0" />
<text x="270.40" y="226.80" font-size="6.3" fill="#262626" text-anchor="end" >1.0</text>
<line x1="273.10" y1="198.80" x2="276.30" y2="198.80" stroke="#1a1a1a" stroke-width="1.0" />
<text x="270.40" y="201.00" font-size="6.3" fill="#262626" text-anchor="end" >1.5</text>
<line x1="285.70" y1="276.20" x2="285.70" y2="279.40" stroke="#1a1a1a" stroke-width="1.0" />
<text x="0" y="0" font-size="6.3" fill="#262626" text-anchor="end" transform="translate(288.30,286.40) rotate(-45)" stroke="#262626" stroke-width="0.15">Naïve</text>
<line x1="299.20" y1="276.20" x2="299.20" y2="279.40" stroke="#1a1a1a" stroke-width="1.0" />
<text x="0" y="0" font-size="6.3" fill="#262626" text-anchor="end" transform="translate(301.80,286.40) rotate(-45)" stroke="#262626" stroke-width="0.15">Vehicle</text>
<line x1="312.70" y1="276.20" x2="312.70" y2="279.40" stroke="#1a1a1a" stroke-width="1.0" />
<text x="0" y="0" font-size="6.3" fill="#262626" text-anchor="end" transform="translate(315.30,286.40) rotate(-45)" stroke="#262626" stroke-width="0.15">DEX</text>
<line x1="326.10" y1="276.20" x2="326.10" y2="279.40" stroke="#1a1a1a" stroke-width="1.0" />
<text x="0" y="0" font-size="6.3" fill="#262626" text-anchor="end" transform="translate(328.70,286.40) rotate(-45)" stroke="#262626" stroke-width="0.15">RUX</text>
<line x1="339.60" y1="276.20" x2="339.60" y2="279.40" stroke="#1a1a1a" stroke-width="1.0" />
<text x="0" y="0" font-size="6.3" fill="#262626" text-anchor="end" transform="translate(342.20,286.40) rotate(-45)" stroke="#262626" stroke-width="0.15">DEX+RUX</text>
<text x="0" y="0" font-size="9.6" fill="#262626" text-anchor="middle" transform="translate(255.30,236.00) rotate(-90)" textLength="68.3" lengthAdjust="spacingAndGlyphs" >% of total bodyweight</text>
<circle cx="281.70" cy="262.00" r="1.15" fill="#eea02a"/>
<circle cx="283.00" cy="264.00" r="1.15" fill="#eea02a"/>
<circle cx="286.00" cy="264.20" r="1.15" fill="#eea02a"/>
<circle cx="288.50" cy="264.50" r="1.15" fill="#eea02a"/>
<circle cx="284.50" cy="263.50" r="1.15" fill="#eea02a"/>
<circle cx="289.00" cy="263.80" r="1.15" fill="#eea02a"/>
<circle cx="299.00" cy="219.30" r="1.15" fill="#b50a28"/>
<circle cx="299.50" cy="231.80" r="1.15" fill="#b50a28"/>
<circle cx="296.50" cy="224.00" r="1.15" fill="#b50a28"/>
<circle cx="301.50" cy="224.00" r="1.15" fill="#b50a28"/>
<circle cx="303.00" cy="225.50" r="1.15" fill="#b50a28"/>
<circle cx="298.00" cy="225.20" r="1.15" fill="#b50a28"/>
<circle cx="301.00" cy="222.50" r="1.15" fill="#b50a28"/>
<circle cx="312.50" cy="233.80" r="1.15" fill="#1d3c82"/>
<circle cx="314.50" cy="236.80" r="1.15" fill="#1d3c82"/>
<circle cx="310.50" cy="238.50" r="1.15" fill="#1d3c82"/>
<circle cx="312.50" cy="239.50" r="1.15" fill="#1d3c82"/>
<circle cx="315.00" cy="241.50" r="1.15" fill="#1d3c82"/>
<circle cx="308.50" cy="241.00" r="1.15" fill="#1d3c82"/>
<circle cx="312.50" cy="247.70" r="1.15" fill="#1d3c82"/>
<circle cx="312.50" cy="252.70" r="1.15" fill="#1d3c82"/>
<circle cx="324.50" cy="246.60" r="1.15" fill="#4fb324"/>
<circle cx="328.00" cy="247.00" r="1.15" fill="#4fb324"/>
<circle cx="326.50" cy="250.50" r="1.15" fill="#4fb324"/>
<circle cx="324.00" cy="252.50" r="1.15" fill="#4fb324"/>
<circle cx="328.50" cy="252.00" r="1.15" fill="#4fb324"/>
<circle cx="329.20" cy="255.50" r="1.15" fill="#4fb324"/>
<circle cx="326.00" cy="260.20" r="1.15" fill="#4fb324"/>
<circle cx="323.50" cy="253.00" r="1.15" fill="#4fb324"/>
<circle cx="340.00" cy="255.10" r="1.15" fill="#42105e"/>
<circle cx="338.00" cy="258.50" r="1.15" fill="#42105e"/>
<circle cx="341.00" cy="259.50" r="1.15" fill="#42105e"/>
<circle cx="337.50" cy="262.00" r="1.15" fill="#42105e"/>
<circle cx="341.50" cy="264.00" r="1.15" fill="#42105e"/>
<circle cx="336.50" cy="266.90" r="1.15" fill="#42105e"/>
<circle cx="339.20" cy="267.50" r="1.15" fill="#42105e"/>
<circle cx="342.50" cy="268.50" r="1.15" fill="#42105e"/>
<line x1="281.10" y1="264.10" x2="290.30" y2="264.10" stroke="#000" stroke-width="1.35" />
<line x1="285.70" y1="263.50" x2="285.70" y2="264.70" stroke="#111" stroke-width="1.0" />
<line x1="283.00" y1="263.50" x2="288.40" y2="263.50" stroke="#111" stroke-width="1.05" />
<line x1="283.00" y1="264.70" x2="288.40" y2="264.70" stroke="#111" stroke-width="1.05" />
<line x1="294.60" y1="224.70" x2="303.80" y2="224.70" stroke="#000" stroke-width="1.35" />
<line x1="299.20" y1="223.60" x2="299.20" y2="225.80" stroke="#111" stroke-width="1.0" />
<line x1="296.50" y1="223.60" x2="301.90" y2="223.60" stroke="#111" stroke-width="1.05" />
<line x1="296.50" y1="225.80" x2="301.90" y2="225.80" stroke="#111" stroke-width="1.05" />
<line x1="308.10" y1="241.30" x2="317.30" y2="241.30" stroke="#000" stroke-width="1.35" />
<line x1="312.70" y1="239.50" x2="312.70" y2="243.00" stroke="#111" stroke-width="1.0" />
<line x1="310.00" y1="239.50" x2="315.40" y2="239.50" stroke="#111" stroke-width="1.05" />
<line x1="310.00" y1="243.00" x2="315.40" y2="243.00" stroke="#111" stroke-width="1.05" />
<line x1="321.50" y1="252.30" x2="330.70" y2="252.30" stroke="#000" stroke-width="1.35" />
<line x1="326.10" y1="251.00" x2="326.10" y2="253.60" stroke="#111" stroke-width="1.0" />
<line x1="323.40" y1="251.00" x2="328.80" y2="251.00" stroke="#111" stroke-width="1.05" />
<line x1="323.40" y1="253.60" x2="328.80" y2="253.60" stroke="#111" stroke-width="1.05" />
<line x1="335.00" y1="263.40" x2="344.20" y2="263.40" stroke="#000" stroke-width="1.35" />
<line x1="339.60" y1="262.00" x2="339.60" y2="264.80" stroke="#111" stroke-width="1.0" />
<line x1="336.90" y1="262.00" x2="342.30" y2="262.00" stroke="#111" stroke-width="1.05" />
<line x1="336.90" y1="264.80" x2="342.30" y2="264.80" stroke="#111" stroke-width="1.05" />
<line x1="289.20" y1="184.90" x2="341.90" y2="184.90" stroke="#6a6a6a" stroke-width="1.35" />
<line x1="299.90" y1="193.80" x2="340.80" y2="193.80" stroke="#6a6a6a" stroke-width="1.35" />
<rect x="316.15" y="190.18" width="1.44" height="1.44" fill="#333"/>
<rect x="318.50" y="190.18" width="1.44" height="1.44" fill="#333"/>
<rect x="320.85" y="190.18" width="1.44" height="1.44" fill="#333"/>
<rect x="323.20" y="190.18" width="1.44" height="1.44" fill="#333"/>
<line x1="299.90" y1="202.60" x2="325.80" y2="202.60" stroke="#6a6a6a" stroke-width="1.35" />
<rect x="309.63" y="198.88" width="1.44" height="1.44" fill="#333"/>
<rect x="311.98" y="198.88" width="1.44" height="1.44" fill="#333"/>
<rect x="314.33" y="198.88" width="1.44" height="1.44" fill="#333"/>
<line x1="285.10" y1="214.70" x2="298.20" y2="214.70" stroke="#6a6a6a" stroke-width="1.35" />
<rect x="287.56" y="210.88" width="1.44" height="1.44" fill="#333"/>
<rect x="289.91" y="210.88" width="1.44" height="1.44" fill="#333"/>
<rect x="292.25" y="210.88" width="1.44" height="1.44" fill="#333"/>
<rect x="294.61" y="210.88" width="1.44" height="1.44" fill="#333"/>
<line x1="299.90" y1="214.70" x2="313.00" y2="214.70" stroke="#6a6a6a" stroke-width="1.35" />
<rect x="302.25" y="210.88" width="1.44" height="1.44" fill="#333"/>
<rect x="304.61" y="210.88" width="1.44" height="1.44" fill="#333"/>
<rect x="306.95" y="210.88" width="1.44" height="1.44" fill="#333"/>
<rect x="309.31" y="210.88" width="1.44" height="1.44" fill="#333"/>
<line x1="314.70" y1="229.90" x2="340.00" y2="229.90" stroke="#6a6a6a" stroke-width="1.35" />
<rect x="323.25" y="226.38" width="1.44" height="1.44" fill="#333"/>
<rect x="325.61" y="226.38" width="1.44" height="1.44" fill="#333"/>
<rect x="327.95" y="226.38" width="1.44" height="1.44" fill="#333"/>
<rect x="330.31" y="226.38" width="1.44" height="1.44" fill="#333"/>
<line x1="327.50" y1="244.20" x2="340.70" y2="244.20" stroke="#6a6a6a" stroke-width="1.35" />
<rect x="331.23" y="240.28" width="1.44" height="1.44" fill="#333"/>
<rect x="333.58" y="240.28" width="1.44" height="1.44" fill="#333"/>
<rect x="335.93" y="240.28" width="1.44" height="1.44" fill="#333"/>
<text x="315.20" y="182.40" font-size="6.0" fill="#333" text-anchor="middle" textLength="10.5" lengthAdjust="spacingAndGlyphs" >N.S.</text>
<text x="413.60" y="174.60" font-size="11.9" fill="#000" text-anchor="start" font-weight="bold" stroke="#000" stroke-width="0.3">G</text>
<line x1="439.80" y1="195.60" x2="439.80" y2="277.20" stroke="#1a1a1a" stroke-width="1.2" />
<line x1="436.60" y1="276.60" x2="512.70" y2="276.60" stroke="#1a1a1a" stroke-width="1.3" />
<line x1="436.60" y1="276.60" x2="439.80" y2="276.60" stroke="#1a1a1a" stroke-width="1.0" />
<text x="433.40" y="278.80" font-size="6.3" fill="#262626" text-anchor="end" >0</text>
<line x1="436.60" y1="250.40" x2="439.80" y2="250.40" stroke="#1a1a1a" stroke-width="1.0" />
<text x="433.40" y="252.60" font-size="6.3" fill="#262626" text-anchor="end" >1</text>
<line x1="436.60" y1="224.20" x2="439.80" y2="224.20" stroke="#1a1a1a" stroke-width="1.0" />
<text x="433.40" y="226.40" font-size="6.3" fill="#262626" text-anchor="end" >2</text>
<line x1="436.60" y1="198.00" x2="439.80" y2="198.00" stroke="#1a1a1a" stroke-width="1.0" />
<text x="433.40" y="200.20" font-size="6.3" fill="#262626" text-anchor="end" >3</text>
<line x1="448.80" y1="276.60" x2="448.80" y2="279.80" stroke="#1a1a1a" stroke-width="1.0" />
<text x="0" y="0" font-size="6.3" fill="#262626" text-anchor="end" transform="translate(451.40,286.80) rotate(-45)" stroke="#262626" stroke-width="0.15">Naïve</text>
<line x1="462.40" y1="276.60" x2="462.40" y2="279.80" stroke="#1a1a1a" stroke-width="1.0" />
<text x="0" y="0" font-size="6.3" fill="#262626" text-anchor="end" transform="translate(465.00,286.80) rotate(-45)" stroke="#262626" stroke-width="0.15">Vehicle</text>
<line x1="475.90" y1="276.60" x2="475.90" y2="279.80" stroke="#1a1a1a" stroke-width="1.0" />
<text x="0" y="0" font-size="6.3" fill="#262626" text-anchor="end" transform="translate(478.50,286.80) rotate(-45)" stroke="#262626" stroke-width="0.15">DEX</text>
<line x1="489.70" y1="276.60" x2="489.70" y2="279.80" stroke="#1a1a1a" stroke-width="1.0" />
<text x="0" y="0" font-size="6.3" fill="#262626" text-anchor="end" transform="translate(492.30,286.80) rotate(-45)" stroke="#262626" stroke-width="0.15">RUX</text>
<line x1="503.60" y1="276.60" x2="503.60" y2="279.80" stroke="#1a1a1a" stroke-width="1.0" />
<text x="0" y="0" font-size="6.3" fill="#262626" text-anchor="end" transform="translate(506.20,286.80) rotate(-45)" stroke="#262626" stroke-width="0.15">DEX+RUX</text>
<text x="0" y="0" font-size="9.6" fill="#262626" text-anchor="middle" transform="translate(425.20,236.00) rotate(-90)" textLength="77.5" lengthAdjust="spacingAndGlyphs" >Monocyte number (x10⁵)</text>
<circle cx="446.50" cy="265.50" r="1.15" fill="#eea02a"/>
<circle cx="451.00" cy="267.90" r="1.15" fill="#eea02a"/>
<circle cx="446.30" cy="274.30" r="1.15" fill="#eea02a"/>
<circle cx="451.20" cy="274.50" r="1.15" fill="#eea02a"/>
<circle cx="448.80" cy="271.00" r="1.15" fill="#eea02a"/>
<circle cx="447.50" cy="269.00" r="1.15" fill="#eea02a"/>
<circle cx="460.20" cy="249.90" r="1.15" fill="#b50a28"/>
<circle cx="464.80" cy="247.80" r="1.15" fill="#b50a28"/>
<circle cx="462.40" cy="256.00" r="1.15" fill="#b50a28"/>
<circle cx="460.20" cy="266.20" r="1.15" fill="#b50a28"/>
<circle cx="464.80" cy="268.40" r="1.15" fill="#b50a28"/>
<circle cx="461.50" cy="258.50" r="1.15" fill="#b50a28"/>
<circle cx="476.00" cy="255.80" r="1.15" fill="#1d3c82"/>
<circle cx="479.50" cy="257.80" r="1.15" fill="#1d3c82"/>
<circle cx="472.50" cy="259.50" r="1.15" fill="#1d3c82"/>
<circle cx="476.00" cy="262.00" r="1.15" fill="#1d3c82"/>
<circle cx="478.50" cy="263.00" r="1.15" fill="#1d3c82"/>
<circle cx="473.50" cy="265.90" r="1.15" fill="#1d3c82"/>
<circle cx="477.00" cy="268.40" r="1.15" fill="#1d3c82"/>
<circle cx="489.70" cy="209.40" r="1.15" fill="#4fb324"/>
<circle cx="489.70" cy="224.60" r="1.15" fill="#4fb324"/>
<circle cx="492.80" cy="226.60" r="1.15" fill="#4fb324"/>
<circle cx="486.70" cy="227.90" r="1.15" fill="#4fb324"/>
<circle cx="489.70" cy="238.90" r="1.15" fill="#4fb324"/>
<circle cx="489.70" cy="247.30" r="1.15" fill="#4fb324"/>
<circle cx="489.70" cy="251.60" r="1.15" fill="#4fb324"/>
<circle cx="489.70" cy="265.50" r="1.15" fill="#4fb324"/>
<circle cx="503.60" cy="228.40" r="1.15" fill="#42105e"/>
<circle cx="503.60" cy="249.90" r="1.15" fill="#42105e"/>
<circle cx="500.50" cy="254.00" r="1.15" fill="#42105e"/>
<circle cx="506.50" cy="258.50" r="1.15" fill="#42105e"/>
<circle cx="505.50" cy="262.50" r="1.15" fill="#42105e"/>
<circle cx="501.00" cy="260.50" r="1.15" fill="#42105e"/>
<circle cx="503.60" cy="270.60" r="1.15" fill="#42105e"/>
<circle cx="498.50" cy="257.00" r="1.15" fill="#42105e"/>
<line x1="444.20" y1="270.60" x2="453.40" y2="270.60" stroke="#000" stroke-width="1.35" />
<line x1="448.80" y1="268.60" x2="448.80" y2="272.60" stroke="#111" stroke-width="1.0" />
<line x1="446.10" y1="268.60" x2="451.50" y2="268.60" stroke="#111" stroke-width="1.05" />
<line x1="446.10" y1="272.60" x2="451.50" y2="272.60" stroke="#111" stroke-width="1.05" />
<line x1="457.80" y1="257.80" x2="467.00" y2="257.80" stroke="#000" stroke-width="1.35" />
<line x1="462.40" y1="254.40" x2="462.40" y2="260.50" stroke="#111" stroke-width="1.0" />
<line x1="459.70" y1="254.40" x2="465.10" y2="254.40" stroke="#111" stroke-width="1.05" />
<line x1="459.70" y1="260.50" x2="465.10" y2="260.50" stroke="#111" stroke-width="1.05" />
<line x1="471.30" y1="261.70" x2="480.50" y2="261.70" stroke="#000" stroke-width="1.35" />
<line x1="475.90" y1="260.30" x2="475.90" y2="263.10" stroke="#111" stroke-width="1.0" />
<line x1="473.20" y1="260.30" x2="478.60" y2="260.30" stroke="#111" stroke-width="1.05" />
<line x1="473.20" y1="263.10" x2="478.60" y2="263.10" stroke="#111" stroke-width="1.05" />
<line x1="485.10" y1="236.40" x2="494.30" y2="236.40" stroke="#000" stroke-width="1.35" />
<line x1="489.70" y1="230.50" x2="489.70" y2="242.80" stroke="#111" stroke-width="1.0" />
<line x1="487.00" y1="230.50" x2="492.40" y2="230.50" stroke="#111" stroke-width="1.05" />
<line x1="487.00" y1="242.80" x2="492.40" y2="242.80" stroke="#111" stroke-width="1.05" />
<line x1="499.00" y1="256.30" x2="508.20" y2="256.30" stroke="#000" stroke-width="1.35" />
<line x1="503.60" y1="252.70" x2="503.60" y2="260.00" stroke="#111" stroke-width="1.0" />
<line x1="500.90" y1="252.70" x2="506.30" y2="252.70" stroke="#111" stroke-width="1.05" />
<line x1="500.90" y1="260.00" x2="506.30" y2="260.00" stroke="#111" stroke-width="1.05" />
<line x1="464.50" y1="199.60" x2="489.70" y2="199.60" stroke="#6a6a6a" stroke-width="1.35" />
<rect x="474.90" y="195.98" width="1.44" height="1.44" fill="#333"/>
<rect x="477.25" y="195.98" width="1.44" height="1.44" fill="#333"/>
<line x1="491.10" y1="206.40" x2="503.70" y2="206.40" stroke="#6a6a6a" stroke-width="1.35" />
<rect x="495.40" y="202.48" width="1.44" height="1.44" fill="#333"/>
<rect x="497.75" y="202.48" width="1.44" height="1.44" fill="#333"/>
<text x="7.20" y="334.20" font-size="11.9" fill="#000" text-anchor="start" font-weight="bold" stroke="#000" stroke-width="0.3">H</text>
<line x1="37.10" y1="350.60" x2="37.10" y2="432.40" stroke="#1a1a1a" stroke-width="1.2" />
<line x1="33.90" y1="431.80" x2="109.90" y2="431.80" stroke="#1a1a1a" stroke-width="1.3" />
<line x1="33.90" y1="431.80" x2="37.10" y2="431.80" stroke="#1a1a1a" stroke-width="1.0" />
<text x="31.00" y="434.00" font-size="6.3" fill="#262626" text-anchor="end" >0</text>
<line x1="33.90" y1="412.10" x2="37.10" y2="412.10" stroke="#1a1a1a" stroke-width="1.0" />
<text x="31.00" y="414.30" font-size="6.3" fill="#262626" text-anchor="end" >2</text>
<line x1="33.90" y1="392.40" x2="37.10" y2="392.40" stroke="#1a1a1a" stroke-width="1.0" />
<text x="31.00" y="394.60" font-size="6.3" fill="#262626" text-anchor="end" >4</text>
<line x1="33.90" y1="372.70" x2="37.10" y2="372.70" stroke="#1a1a1a" stroke-width="1.0" />
<text x="31.00" y="374.90" font-size="6.3" fill="#262626" text-anchor="end" >6</text>
<line x1="33.90" y1="353.00" x2="37.10" y2="353.00" stroke="#1a1a1a" stroke-width="1.0" />
<text x="31.00" y="355.20" font-size="6.3" fill="#262626" text-anchor="end" >8</text>
<line x1="46.20" y1="431.80" x2="46.20" y2="435.00" stroke="#1a1a1a" stroke-width="1.0" />
<text x="0" y="0" font-size="6.3" fill="#262626" text-anchor="end" transform="translate(48.80,442.00) rotate(-45)" stroke="#262626" stroke-width="0.15">Naïve</text>
<line x1="59.70" y1="431.80" x2="59.70" y2="435.00" stroke="#1a1a1a" stroke-width="1.0" />
<text x="0" y="0" font-size="6.3" fill="#262626" text-anchor="end" transform="translate(62.30,442.00) rotate(-45)" stroke="#262626" stroke-width="0.15">Vehicle</text>
<line x1="73.20" y1="431.80" x2="73.20" y2="435.00" stroke="#1a1a1a" stroke-width="1.0" />
<text x="0" y="0" font-size="6.3" fill="#262626" text-anchor="end" transform="translate(75.80,442.00) rotate(-45)" stroke="#262626" stroke-width="0.15">DEX</text>
<line x1="86.90" y1="431.80" x2="86.90" y2="435.00" stroke="#1a1a1a" stroke-width="1.0" />
<text x="0" y="0" font-size="6.3" fill="#262626" text-anchor="end" transform="translate(89.50,442.00) rotate(-45)" stroke="#262626" stroke-width="0.15">RUX</text>
<line x1="100.70" y1="431.80" x2="100.70" y2="435.00" stroke="#1a1a1a" stroke-width="1.0" />
<text x="0" y="0" font-size="6.3" fill="#262626" text-anchor="end" transform="translate(103.30,442.00) rotate(-45)" stroke="#262626" stroke-width="0.15">DEX+RUX</text>
<text x="0" y="0" font-size="9.6" fill="#262626" text-anchor="middle" transform="translate(22.50,390.60) rotate(-90)" textLength="81.1" lengthAdjust="spacingAndGlyphs" >Neutrophil number (x10⁶)</text>
<circle cx="46.50" cy="426.10" r="1.15" fill="#eea02a"/>
<circle cx="44.50" cy="428.50" r="1.15" fill="#eea02a"/>
<circle cx="48.50" cy="428.80" r="1.15" fill="#eea02a"/>
<circle cx="46.00" cy="429.50" r="1.15" fill="#eea02a"/>
<circle cx="50.00" cy="429.00" r="1.15" fill="#eea02a"/>
<circle cx="59.90" cy="393.10" r="1.15" fill="#b50a28"/>
<circle cx="59.90" cy="404.70" r="1.15" fill="#b50a28"/>
<circle cx="57.50" cy="416.30" r="1.15" fill="#b50a28"/>
<circle cx="62.00" cy="416.30" r="1.15" fill="#b50a28"/>
<circle cx="59.90" cy="423.10" r="1.15" fill="#b50a28"/>
<circle cx="57.60" cy="408.00" r="1.15" fill="#b50a28"/>
<circle cx="73.30" cy="371.70" r="1.15" fill="#1d3c82"/>
<circle cx="71.20" cy="386.10" r="1.15" fill="#1d3c82"/>
<circle cx="75.70" cy="384.50" r="1.15" fill="#1d3c82"/>
<circle cx="71.20" cy="406.40" r="1.15" fill="#1d3c82"/>
<circle cx="75.70" cy="406.40" r="1.15" fill="#1d3c82"/>
<circle cx="73.30" cy="403.00" r="1.15" fill="#1d3c82"/>
<circle cx="71.20" cy="416.40" r="1.15" fill="#1d3c82"/>
<circle cx="75.70" cy="417.70" r="1.15" fill="#1d3c82"/>
<circle cx="87.20" cy="415.90" r="1.15" fill="#4fb324"/>
<circle cx="87.20" cy="427.20" r="1.15" fill="#4fb324"/>
<circle cx="84.50" cy="420.50" r="1.15" fill="#4fb324"/>
<circle cx="90.00" cy="421.50" r="1.15" fill="#4fb324"/>
<circle cx="86.00" cy="421.00" r="1.15" fill="#4fb324"/>
<circle cx="89.00" cy="420.00" r="1.15" fill="#4fb324"/>
<circle cx="85.00" cy="422.00" r="1.15" fill="#4fb324"/>
<circle cx="100.80" cy="420.40" r="1.15" fill="#42105e"/>
<circle cx="103.80" cy="428.80" r="1.15" fill="#42105e"/>
<circle cx="98.50" cy="424.50" r="1.15" fill="#42105e"/>
<circle cx="102.00" cy="425.00" r="1.15" fill="#42105e"/>
<circle cx="104.00" cy="426.50" r="1.15" fill="#42105e"/>
<circle cx="99.50" cy="426.00" r="1.15" fill="#42105e"/>
<line x1="41.60" y1="428.40" x2="50.80" y2="428.40" stroke="#000" stroke-width="1.35" />
<line x1="46.20" y1="427.80" x2="46.20" y2="429.00" stroke="#111" stroke-width="1.0" />
<line x1="43.50" y1="427.80" x2="48.90" y2="427.80" stroke="#111" stroke-width="1.05" />
<line x1="43.50" y1="429.00" x2="48.90" y2="429.00" stroke="#111" stroke-width="1.05" />
<line x1="55.10" y1="410.60" x2="64.30" y2="410.60" stroke="#000" stroke-width="1.35" />
<line x1="59.70" y1="407.40" x2="59.70" y2="413.60" stroke="#111" stroke-width="1.0" />
<line x1="57.00" y1="407.40" x2="62.40" y2="407.40" stroke="#111" stroke-width="1.05" />
<line x1="57.00" y1="413.60" x2="62.40" y2="413.60" stroke="#111" stroke-width="1.05" />
<line x1="68.60" y1="399.20" x2="77.80" y2="399.20" stroke="#000" stroke-width="1.35" />
<line x1="73.20" y1="393.30" x2="73.20" y2="404.00" stroke="#111" stroke-width="1.0" />
<line x1="70.50" y1="393.30" x2="75.90" y2="393.30" stroke="#111" stroke-width="1.05" />
<line x1="70.50" y1="404.00" x2="75.90" y2="404.00" stroke="#111" stroke-width="1.05" />
<line x1="82.30" y1="420.90" x2="91.50" y2="420.90" stroke="#000" stroke-width="1.35" />
<line x1="86.90" y1="420.00" x2="86.90" y2="421.80" stroke="#111" stroke-width="1.0" />
<line x1="84.20" y1="420.00" x2="89.60" y2="420.00" stroke="#111" stroke-width="1.05" />
<line x1="84.20" y1="421.80" x2="89.60" y2="421.80" stroke="#111" stroke-width="1.05" />
<line x1="96.10" y1="425.70" x2="105.30" y2="425.70" stroke="#000" stroke-width="1.35" />
<line x1="100.70" y1="424.80" x2="100.70" y2="426.60" stroke="#111" stroke-width="1.0" />
<line x1="98.00" y1="424.80" x2="103.40" y2="424.80" stroke="#111" stroke-width="1.05" />
<line x1="98.00" y1="426.60" x2="103.40" y2="426.60" stroke="#111" stroke-width="1.05" />
<line x1="73.80" y1="355.50" x2="101.90" y2="355.50" stroke="#6a6a6a" stroke-width="1.35" />
<rect x="83.25" y="351.98" width="1.44" height="1.44" fill="#333"/>
<rect x="85.60" y="351.98" width="1.44" height="1.44" fill="#333"/>
<rect x="87.95" y="351.98" width="1.44" height="1.44" fill="#333"/>
<rect x="90.30" y="351.98" width="1.44" height="1.44" fill="#333"/>
<line x1="61.40" y1="367.30" x2="101.90" y2="367.30" stroke="#6a6a6a" stroke-width="1.35" />
<rect x="80.78" y="363.78" width="1.44" height="1.44" fill="#333"/>
<line x1="45.10" y1="381.20" x2="59.60" y2="381.20" stroke="#6a6a6a" stroke-width="1.35" />
<rect x="51.48" y="377.28" width="1.44" height="1.44" fill="#333"/>
<line x1="359.50" y1="370.20" x2="359.50" y2="451.60" stroke="#1a1a1a" stroke-width="1.2" />
<line x1="356.30" y1="451.00" x2="432.70" y2="451.00" stroke="#1a1a1a" stroke-width="1.3" />
<line x1="356.30" y1="451.00" x2="359.50" y2="451.00" stroke="#1a1a1a" stroke-width="1.0" />
<text x="353.30" y="453.20" font-size="6.4" fill="#262626" text-anchor="end" >0</text>
<line x1="356.30" y1="431.52" x2="359.50" y2="431.52" stroke="#1a1a1a" stroke-width="1.0" />
<text x="353.30" y="433.72" font-size="6.4" fill="#262626" text-anchor="end" >20</text>
<line x1="356.30" y1="412.04" x2="359.50" y2="412.04" stroke="#1a1a1a" stroke-width="1.0" />
<text x="353.30" y="414.24" font-size="6.4" fill="#262626" text-anchor="end" >40</text>
<line x1="356.30" y1="392.56" x2="359.50" y2="392.56" stroke="#1a1a1a" stroke-width="1.0" />
<text x="353.30" y="394.76" font-size="6.4" fill="#262626" text-anchor="end" >60</text>
<line x1="356.30" y1="373.08" x2="359.50" y2="373.08" stroke="#1a1a1a" stroke-width="1.0" />
<text x="353.30" y="375.28" font-size="6.4" fill="#262626" text-anchor="end" >80</text>
<line x1="368.80" y1="451.00" x2="368.80" y2="454.20" stroke="#1a1a1a" stroke-width="1.0" />
<text x="0" y="0" font-size="6.3" fill="#262626" text-anchor="end" transform="translate(371.40,460.80) rotate(-45)" stroke="#262626" stroke-width="0.15">Naïve</text>
<line x1="382.40" y1="451.00" x2="382.40" y2="454.20" stroke="#1a1a1a" stroke-width="1.0" />
<text x="0" y="0" font-size="6.3" fill="#262626" text-anchor="end" transform="translate(385.00,460.80) rotate(-45)" stroke="#262626" stroke-width="0.15">Vehicle</text>
<line x1="395.80" y1="451.00" x2="395.80" y2="454.20" stroke="#1a1a1a" stroke-width="1.0" />
<text x="0" y="0" font-size="6.3" fill="#262626" text-anchor="end" transform="translate(398.40,460.80) rotate(-45)" stroke="#262626" stroke-width="0.15">DEX</text>
<line x1="409.50" y1="451.00" x2="409.50" y2="454.20" stroke="#1a1a1a" stroke-width="1.0" />
<text x="0" y="0" font-size="6.3" fill="#262626" text-anchor="end" transform="translate(412.10,460.80) rotate(-45)" stroke="#262626" stroke-width="0.15">RUX</text>
<line x1="423.30" y1="451.00" x2="423.30" y2="454.20" stroke="#1a1a1a" stroke-width="1.0" />
<text x="0" y="0" font-size="6.3" fill="#262626" text-anchor="end" transform="translate(425.90,460.80) rotate(-45)" stroke="#262626" stroke-width="0.15">DEX+RUX</text>
<text x="0" y="0" font-size="9.6" fill="#262626" text-anchor="middle" transform="translate(341.20,410.30) rotate(-90)" textLength="70.0" lengthAdjust="spacingAndGlyphs" >% positive of total area</text>
<circle cx="368.00" cy="450.20" r="1.15" fill="#eea02a"/>
<circle cx="370.00" cy="450.30" r="1.15" fill="#eea02a"/>
<circle cx="367.00" cy="450.50" r="1.15" fill="#eea02a"/>
<circle cx="382.20" cy="389.10" r="1.15" fill="#b50a28"/>
<circle cx="382.20" cy="393.40" r="1.15" fill="#b50a28"/>
<circle cx="382.20" cy="409.20" r="1.15" fill="#b50a28"/>
<circle cx="382.20" cy="426.60" r="1.15" fill="#b50a28"/>
<circle cx="382.20" cy="397.50" r="1.15" fill="#b50a28"/>
<circle cx="395.00" cy="400.40" r="1.15" fill="#1d3c82"/>
<circle cx="398.00" cy="401.50" r="1.15" fill="#1d3c82"/>
<circle cx="394.00" cy="404.00" r="1.15" fill="#1d3c82"/>
<circle cx="397.50" cy="406.00" r="1.15" fill="#1d3c82"/>
<circle cx="395.50" cy="409.80" r="1.15" fill="#1d3c82"/>
<circle cx="395.50" cy="415.00" r="1.15" fill="#1d3c82"/>
<circle cx="409.30" cy="430.80" r="1.15" fill="#4fb324"/>
<circle cx="412.00" cy="439.80" r="1.15" fill="#4fb324"/>
<circle cx="407.00" cy="435.50" r="1.15" fill="#4fb324"/>
<circle cx="410.50" cy="436.80" r="1.15" fill="#4fb324"/>
<circle cx="408.00" cy="437.50" r="1.15" fill="#4fb324"/>
<circle cx="422.80" cy="438.40" r="1.15" fill="#42105e"/>
<circle cx="425.50" cy="444.00" r="1.15" fill="#42105e"/>
<circle cx="420.00" cy="442.00" r="1.15" fill="#42105e"/>
<circle cx="424.00" cy="442.50" r="1.15" fill="#42105e"/>
<circle cx="421.50" cy="443.00" r="1.15" fill="#42105e"/>
<line x1="364.20" y1="450.30" x2="373.40" y2="450.30" stroke="#000" stroke-width="1.35" />
<line x1="368.80" y1="450.00" x2="368.80" y2="450.60" stroke="#111" stroke-width="1.0" />
<line x1="366.10" y1="450.00" x2="371.50" y2="450.00" stroke="#111" stroke-width="1.05" />
<line x1="366.10" y1="450.60" x2="371.50" y2="450.60" stroke="#111" stroke-width="1.05" />
<line x1="377.80" y1="403.20" x2="387.00" y2="403.20" stroke="#000" stroke-width="1.35" />
<line x1="382.40" y1="395.60" x2="382.40" y2="409.70" stroke="#111" stroke-width="1.0" />
<line x1="379.70" y1="395.60" x2="385.10" y2="395.60" stroke="#111" stroke-width="1.05" />
<line x1="379.70" y1="409.70" x2="385.10" y2="409.70" stroke="#111" stroke-width="1.05" />
<line x1="391.20" y1="406.90" x2="400.40" y2="406.90" stroke="#000" stroke-width="1.35" />
<line x1="395.80" y1="404.80" x2="395.80" y2="409.00" stroke="#111" stroke-width="1.0" />
<line x1="393.10" y1="404.80" x2="398.50" y2="404.80" stroke="#111" stroke-width="1.05" />
<line x1="393.10" y1="409.00" x2="398.50" y2="409.00" stroke="#111" stroke-width="1.05" />
<line x1="404.90" y1="436.40" x2="414.10" y2="436.40" stroke="#000" stroke-width="1.35" />
<line x1="409.50" y1="435.50" x2="409.50" y2="437.30" stroke="#111" stroke-width="1.0" />
<line x1="406.80" y1="435.50" x2="412.20" y2="435.50" stroke="#111" stroke-width="1.05" />
<line x1="406.80" y1="437.30" x2="412.20" y2="437.30" stroke="#111" stroke-width="1.05" />
<line x1="418.70" y1="441.80" x2="427.90" y2="441.80" stroke="#000" stroke-width="1.35" />
<line x1="423.30" y1="440.90" x2="423.30" y2="442.70" stroke="#111" stroke-width="1.0" />
<line x1="420.60" y1="440.90" x2="426.00" y2="440.90" stroke="#111" stroke-width="1.05" />
<line x1="420.60" y1="442.70" x2="426.00" y2="442.70" stroke="#111" stroke-width="1.05" />
<line x1="385.60" y1="354.60" x2="426.20" y2="354.60" stroke="#6a6a6a" stroke-width="1.35" />
<rect x="401.25" y="350.58" width="1.44" height="1.44" fill="#333"/>
<rect x="403.61" y="350.58" width="1.44" height="1.44" fill="#333"/>
<rect x="405.95" y="350.58" width="1.44" height="1.44" fill="#333"/>
<rect x="408.31" y="350.58" width="1.44" height="1.44" fill="#333"/>
<line x1="385.60" y1="363.20" x2="412.70" y2="363.20" stroke="#6a6a6a" stroke-width="1.35" />
<rect x="394.86" y="359.58" width="1.44" height="1.44" fill="#333"/>
<rect x="397.21" y="359.58" width="1.44" height="1.44" fill="#333"/>
<rect x="399.56" y="359.58" width="1.44" height="1.44" fill="#333"/>
<rect x="401.91" y="359.58" width="1.44" height="1.44" fill="#333"/>
<line x1="368.50" y1="373.70" x2="394.60" y2="373.70" stroke="#6a6a6a" stroke-width="1.35" />
<rect x="377.36" y="370.18" width="1.44" height="1.44" fill="#333"/>
<rect x="379.71" y="370.18" width="1.44" height="1.44" fill="#333"/>
<rect x="382.06" y="370.18" width="1.44" height="1.44" fill="#333"/>
<rect x="384.41" y="370.18" width="1.44" height="1.44" fill="#333"/>
<line x1="368.50" y1="383.80" x2="382.20" y2="383.80" stroke="#6a6a6a" stroke-width="1.35" />
<rect x="371.15" y="379.88" width="1.44" height="1.44" fill="#333"/>
<rect x="373.50" y="379.88" width="1.44" height="1.44" fill="#333"/>
<rect x="375.85" y="379.88" width="1.44" height="1.44" fill="#333"/>
<rect x="378.20" y="379.88" width="1.44" height="1.44" fill="#333"/>
<line x1="398.00" y1="395.60" x2="423.50" y2="395.60" stroke="#6a6a6a" stroke-width="1.35" />
<rect x="406.65" y="392.18" width="1.44" height="1.44" fill="#333"/>
<rect x="409.00" y="392.18" width="1.44" height="1.44" fill="#333"/>
<rect x="411.35" y="392.18" width="1.44" height="1.44" fill="#333"/>
<rect x="413.70" y="392.18" width="1.44" height="1.44" fill="#333"/>
<text x="124.60" y="333.80" font-size="11.9" fill="#000" text-anchor="start" font-weight="bold" stroke="#000" stroke-width="0.3">I</text>
<text x="125.90" y="355.60" font-size="6.7" fill="#111" text-anchor="start" textLength="16.9" lengthAdjust="spacingAndGlyphs" >Naive</text>
<text x="125.90" y="414.60" font-size="6.7" fill="#111" text-anchor="start" textLength="21.2" lengthAdjust="spacingAndGlyphs" >Vehicle</text>
<text x="125.90" y="473.70" font-size="6.7" fill="#111" text-anchor="start" textLength="12.7" lengthAdjust="spacingAndGlyphs" >DEX</text>
<text x="226.20" y="355.60" font-size="6.7" fill="#111" text-anchor="start" textLength="12.7" lengthAdjust="spacingAndGlyphs" >RUX</text>
<text x="225.90" y="414.70" font-size="6.7" fill="#111" text-anchor="start" textLength="30.2" lengthAdjust="spacingAndGlyphs" >DEX+RUX</text>
<rect x="125.6" y="357.1" width="92.1" height="50.6" fill="#ced1e5"/>
<rect x="125.6" y="357.1" width="92.1" height="50.6" fill="#000" filter="url(#f_naive_0)"/>
<rect x="125.6" y="357.1" width="92.1" height="50.6" fill="#000" filter="url(#f_naive_1)"/>
<clipPath id="c_naive"><rect x="125.6" y="357.1" width="92.1" height="50.6"/></clipPath>
<g clip-path="url(#c_naive)"><g filter="url(#bb)"><circle cx="155.4" cy="364.7" r="0.61" fill="#b07060" fill-opacity="0.6"/><circle cx="132.3" cy="384.2" r="0.49" fill="#b07060" fill-opacity="0.6"/><circle cx="130.9" cy="382.8" r="0.40" fill="#b07060" fill-opacity="0.6"/><circle cx="165.5" cy="360.6" r="0.41" fill="#b07060" fill-opacity="0.6"/><circle cx="164.7" cy="398.9" r="0.42" fill="#b07060" fill-opacity="0.6"/><circle cx="146.2" cy="388.8" r="0.77" fill="#b07060" fill-opacity="0.6"/><circle cx="178.8" cy="377.2" r="0.79" fill="#b07060" fill-opacity="0.6"/><circle cx="129.9" cy="400.5" r="0.46" fill="#b07060" fill-opacity="0.6"/><circle cx="138.9" cy="363.1" r="0.47" fill="#b07060" fill-opacity="0.6"/><circle cx="200.8" cy="366.2" r="0.58" fill="#b07060" fill-opacity="0.6"/></g></g>
<rect x="125.6" y="416.0" width="92.1" height="51.0" fill="#d8ced8"/>
<rect x="125.6" y="416.0" width="92.1" height="51.0" fill="#000" filter="url(#f_veh_0)"/>
<rect x="125.6" y="416.0" width="92.1" height="51.0" fill="#000" filter="url(#f_veh_1)"/>
<clipPath id="c_veh"><rect x="125.6" y="416.0" width="92.1" height="51.0"/></clipPath>
<g clip-path="url(#c_veh)"><g filter="url(#bb)"><circle cx="184.4" cy="435.0" r="0.96" fill="#c07458" fill-opacity="0.5"/><circle cx="131.4" cy="419.0" r="0.68" fill="#c07458" fill-opacity="0.5"/><circle cx="188.3" cy="437.8" r="0.76" fill="#c07458" fill-opacity="0.5"/><circle cx="179.5" cy="439.1" r="0.75" fill="#c07458" fill-opacity="0.5"/><circle cx="198.8" cy="451.6" r="0.71" fill="#c07458" fill-opacity="0.5"/><circle cx="178.5" cy="442.8" r="1.34" fill="#c07458" fill-opacity="0.5"/><circle cx="192.8" cy="430.7" r="1.47" fill="#c07458" fill-opacity="0.5"/><circle cx="136.5" cy="437.3" r="1.19" fill="#c07458" fill-opacity="0.5"/><circle cx="139.6" cy="440.9" r="0.61" fill="#c07458" fill-opacity="0.5"/><circle cx="187.1" cy="455.0" r="0.99" fill="#c07458" fill-opacity="0.5"/><circle cx="206.2" cy="432.0" r="1.12" fill="#c07458" fill-opacity="0.5"/><circle cx="180.3" cy="445.6" r="0.88" fill="#c07458" fill-opacity="0.5"/><circle cx="203.0" cy="464.2" r="0.89" fill="#c07458" fill-opacity="0.5"/><circle cx="186.8" cy="419.1" r="1.13" fill="#c07458" fill-opacity="0.5"/><circle cx="185.2" cy="466.6" r="1.27" fill="#c07458" fill-opacity="0.5"/><circle cx="151.8" cy="435.7" r="1.09" fill="#c07458" fill-opacity="0.5"/><circle cx="127.7" cy="439.5" r="0.66" fill="#c07458" fill-opacity="0.5"/><circle cx="136.4" cy="419.0" r="1.21" fill="#c07458" fill-opacity="0.5"/><circle cx="137.5" cy="428.6" r="0.82" fill="#c07458" fill-opacity="0.5"/><circle cx="205.9" cy="420.1" r="0.87" fill="#c07458" fill-opacity="0.5"/><circle cx="176.2" cy="461.1" r="1.27" fill="#c07458" fill-opacity="0.5"/><circle cx="205.2" cy="430.2" r="0.84" fill="#c07458" fill-opacity="0.5"/><circle cx="158.6" cy="461.1" r="1.44" fill="#c07458" fill-opacity="0.5"/><circle cx="139.5" cy="425.0" r="0.70" fill="#c07458" fill-opacity="0.5"/><circle cx="147.1" cy="440.7" r="1.01" fill="#c07458" fill-opacity="0.5"/><circle cx="149.8" cy="416.2" r="0.84" fill="#c07458" fill-opacity="0.5"/><circle cx="159.6" cy="444.9" r="1.44" fill="#c07458" fill-opacity="0.5"/><circle cx="189.2" cy="442.3" r="1.04" fill="#c07458" fill-opacity="0.5"/><circle cx="187.9" cy="418.8" r="1.37" fill="#c07458" fill-opacity="0.5"/><circle cx="197.4" cy="460.6" r="1.24" fill="#c07458" fill-opacity="0.5"/><circle cx="161.7" cy="436.3" r="0.63" fill="#c07458" fill-opacity="0.5"/><circle cx="184.0" cy="419.2" r="0.62" fill="#c07458" fill-opacity="0.5"/><circle cx="144.8" cy="424.3" r="0.78" fill="#c07458" fill-opacity="0.5"/><circle cx="130.4" cy="416.0" r="0.65" fill="#c07458" fill-opacity="0.5"/><circle cx="134.9" cy="434.5" r="0.60" fill="#c07458" fill-opacity="0.5"/><circle cx="206.1" cy="447.3" r="0.65" fill="#c07458" fill-opacity="0.5"/><circle cx="148.8" cy="433.7" r="0.80" fill="#c07458" fill-opacity="0.5"/><circle cx="136.9" cy="459.3" r="1.49" fill="#c07458" fill-opacity="0.5"/><circle cx="168.5" cy="440.7" r="0.62" fill="#c07458" fill-opacity="0.5"/><circle cx="135.0" cy="433.5" r="0.72" fill="#c07458" fill-opacity="0.5"/><circle cx="201.9" cy="424.2" r="0.60" fill="#c07458" fill-opacity="0.5"/><circle cx="213.2" cy="442.9" r="0.65" fill="#c07458" fill-opacity="0.5"/><circle cx="175.6" cy="417.4" r="0.95" fill="#c07458" fill-opacity="0.5"/><circle cx="215.7" cy="460.0" r="1.12" fill="#c07458" fill-opacity="0.5"/><circle cx="149.6" cy="434.7" r="0.66" fill="#c07458" fill-opacity="0.5"/><circle cx="196.7" cy="443.2" r="1.22" fill="#c07458" fill-opacity="0.5"/><circle cx="156.0" cy="427.4" r="1.26" fill="#c07458" fill-opacity="0.5"/><circle cx="216.3" cy="459.5" r="1.25" fill="#c07458" fill-opacity="0.5"/><circle cx="201.0" cy="453.7" r="0.70" fill="#c07458" fill-opacity="0.5"/><circle cx="173.3" cy="434.1" r="0.60" fill="#c07458" fill-opacity="0.5"/><circle cx="128.2" cy="430.3" r="0.72" fill="#c07458" fill-opacity="0.5"/><circle cx="189.4" cy="464.8" r="0.87" fill="#c07458" fill-opacity="0.5"/><circle cx="211.9" cy="466.4" r="1.44" fill="#c07458" fill-opacity="0.5"/><circle cx="159.2" cy="427.2" r="0.70" fill="#c07458" fill-opacity="0.5"/><circle cx="143.7" cy="426.4" r="1.04" fill="#c07458" fill-opacity="0.5"/><circle cx="208.5" cy="458.9" r="0.90" fill="#c07458" fill-opacity="0.5"/><circle cx="185.7" cy="456.8" r="0.62" fill="#c07458" fill-opacity="0.5"/><circle cx="186.4" cy="462.4" r="1.22" fill="#c07458" fill-opacity="0.5"/><circle cx="194.7" cy="440.4" r="0.67" fill="#c07458" fill-opacity="0.5"/><circle cx="198.3" cy="433.0" r="1.24" fill="#c07458" fill-opacity="0.5"/><circle cx="215.1" cy="436.2" r="0.83" fill="#c07458" fill-opacity="0.5"/><circle cx="212.8" cy="453.0" r="0.66" fill="#c07458" fill-opacity="0.5"/><circle cx="137.3" cy="423.7" r="1.37" fill="#c07458" fill-opacity="0.5"/><circle cx="199.9" cy="423.5" r="1.28" fill="#c07458" fill-opacity="0.5"/><circle cx="215.9" cy="449.5" r="0.79" fill="#c07458" fill-opacity="0.5"/><circle cx="176.1" cy="422.7" r="0.60" fill="#c07458" fill-opacity="0.5"/><circle cx="215.0" cy="449.1" r="0.94" fill="#c07458" fill-opacity="0.5"/><circle cx="211.6" cy="438.1" r="1.33" fill="#c07458" fill-opacity="0.5"/><circle cx="201.7" cy="426.8" r="0.71" fill="#c07458" fill-opacity="0.5"/><circle cx="152.6" cy="428.3" r="1.00" fill="#c07458" fill-opacity="0.5"/><circle cx="149.5" cy="437.4" r="0.64" fill="#c07458" fill-opacity="0.5"/><circle cx="209.4" cy="434.0" r="0.88" fill="#c07458" fill-opacity="0.5"/><circle cx="179.3" cy="462.1" r="0.85" fill="#c07458" fill-opacity="0.5"/><circle cx="210.1" cy="441.6" r="0.95" fill="#c07458" fill-opacity="0.5"/><circle cx="173.8" cy="417.0" r="0.86" fill="#c07458" fill-opacity="0.5"/><circle cx="142.5" cy="416.2" r="1.24" fill="#c07458" fill-opacity="0.5"/><circle cx="141.5" cy="440.1" r="1.16" fill="#c07458" fill-opacity="0.5"/><circle cx="176.9" cy="432.6" r="0.94" fill="#c07458" fill-opacity="0.5"/><circle cx="176.8" cy="456.0" r="0.63" fill="#c07458" fill-opacity="0.5"/><circle cx="177.2" cy="428.7" r="0.73" fill="#c07458" fill-opacity="0.5"/><circle cx="196.7" cy="441.9" r="0.98" fill="#c07458" fill-opacity="0.5"/><circle cx="195.6" cy="462.5" r="0.87" fill="#c07458" fill-opacity="0.5"/><circle cx="182.0" cy="441.8" r="0.93" fill="#c07458" fill-opacity="0.5"/><circle cx="189.4" cy="439.1" r="0.95" fill="#c07458" fill-opacity="0.5"/><circle cx="169.6" cy="464.0" r="1.13" fill="#c07458" fill-opacity="0.5"/><circle cx="206.3" cy="464.1" r="0.72" fill="#c07458" fill-opacity="0.5"/><circle cx="177.1" cy="464.1" r="1.29" fill="#c07458" fill-opacity="0.5"/><circle cx="138.2" cy="422.2" r="0.86" fill="#c07458" fill-opacity="0.5"/><circle cx="132.3" cy="428.3" r="0.62" fill="#c07458" fill-opacity="0.5"/><circle cx="187.3" cy="456.0" r="1.36" fill="#c07458" fill-opacity="0.5"/><circle cx="139.8" cy="452.5" r="1.08" fill="#c07458" fill-opacity="0.5"/><circle cx="138.8" cy="461.0" r="1.46" fill="#c07458" fill-opacity="0.5"/><circle cx="145.8" cy="464.6" r="0.83" fill="#c07458" fill-opacity="0.5"/><circle cx="170.5" cy="466.5" r="1.28" fill="#c07458" fill-opacity="0.5"/><circle cx="140.5" cy="438.0" r="0.93" fill="#c07458" fill-opacity="0.5"/><circle cx="156.8" cy="426.0" r="0.76" fill="#c07458" fill-opacity="0.5"/><circle cx="192.1" cy="417.0" r="0.97" fill="#c07458" fill-opacity="0.5"/><circle cx="166.2" cy="416.9" r="0.77" fill="#c07458" fill-opacity="0.5"/><circle cx="183.1" cy="442.1" r="0.61" fill="#c07458" fill-opacity="0.5"/><circle cx="216.3" cy="456.2" r="1.46" fill="#c07458" fill-opacity="0.5"/><circle cx="135.3" cy="429.5" r="0.61" fill="#c07458" fill-opacity="0.5"/><circle cx="197.3" cy="429.8" r="0.64" fill="#c07458" fill-opacity="0.5"/><circle cx="164.5" cy="462.5" r="1.27" fill="#c07458" fill-opacity="0.5"/><circle cx="149.4" cy="423.6" r="1.39" fill="#c07458" fill-opacity="0.5"/><circle cx="178.2" cy="451.7" r="0.62" fill="#c07458" fill-opacity="0.5"/><circle cx="130.9" cy="451.1" r="0.85" fill="#c07458" fill-opacity="0.5"/><circle cx="132.3" cy="463.9" r="1.05" fill="#c07458" fill-opacity="0.5"/><circle cx="199.4" cy="420.3" r="1.31" fill="#c07458" fill-opacity="0.5"/><circle cx="131.7" cy="460.0" r="0.88" fill="#c07458" fill-opacity="0.5"/><circle cx="156.8" cy="444.2" r="1.40" fill="#c07458" fill-opacity="0.5"/><circle cx="150.3" cy="422.6" r="0.94" fill="#c07458" fill-opacity="0.5"/><circle cx="147.6" cy="421.6" r="0.66" fill="#c07458" fill-opacity="0.5"/><circle cx="130.2" cy="426.3" r="0.76" fill="#c07458" fill-opacity="0.5"/><circle cx="153.7" cy="454.7" r="0.74" fill="#c07458" fill-opacity="0.5"/><circle cx="171.7" cy="425.1" r="0.78" fill="#c07458" fill-opacity="0.5"/><circle cx="127.3" cy="428.8" r="0.60" fill="#c07458" fill-opacity="0.5"/><circle cx="193.1" cy="444.1" r="0.67" fill="#c07458" fill-opacity="0.5"/><circle cx="169.3" cy="463.7" r="0.63" fill="#c07458" fill-opacity="0.5"/><circle cx="201.0" cy="438.0" r="0.91" fill="#c07458" fill-opacity="0.5"/><circle cx="202.5" cy="436.0" r="0.92" fill="#c07458" fill-opacity="0.5"/><circle cx="188.9" cy="466.1" r="0.78" fill="#c07458" fill-opacity="0.5"/><circle cx="202.3" cy="452.0" r="1.06" fill="#c07458" fill-opacity="0.5"/><circle cx="162.9" cy="433.7" r="0.61" fill="#c07458" fill-opacity="0.5"/><circle cx="137.6" cy="419.6" r="1.17" fill="#c07458" fill-opacity="0.5"/><circle cx="149.1" cy="424.3" r="0.62" fill="#c07458" fill-opacity="0.5"/><circle cx="203.1" cy="460.4" r="1.09" fill="#c07458" fill-opacity="0.5"/><circle cx="151.6" cy="428.4" r="0.74" fill="#c07458" fill-opacity="0.5"/><circle cx="167.9" cy="424.0" r="0.87" fill="#c07458" fill-opacity="0.5"/><circle cx="149.8" cy="465.1" r="1.46" fill="#c07458" fill-opacity="0.5"/><circle cx="176.0" cy="428.5" r="1.45" fill="#c07458" fill-opacity="0.5"/><circle cx="154.1" cy="434.2" r="0.60" fill="#c07458" fill-opacity="0.5"/><circle cx="160.7" cy="440.2" r="0.92" fill="#c07458" fill-opacity="0.5"/><circle cx="144.1" cy="441.7" r="0.60" fill="#c07458" fill-opacity="0.5"/><circle cx="149.9" cy="420.6" r="0.83" fill="#c07458" fill-opacity="0.5"/><circle cx="129.4" cy="417.1" r="0.75" fill="#c07458" fill-opacity="0.5"/><circle cx="147.0" cy="445.9" r="0.95" fill="#c07458" fill-opacity="0.5"/><circle cx="194.7" cy="449.5" r="1.15" fill="#c07458" fill-opacity="0.5"/><circle cx="206.6" cy="435.9" r="0.77" fill="#c07458" fill-opacity="0.5"/><circle cx="216.3" cy="423.6" r="1.15" fill="#c07458" fill-opacity="0.5"/><circle cx="184.8" cy="418.2" r="1.29" fill="#c07458" fill-opacity="0.5"/><circle cx="207.7" cy="448.0" r="1.17" fill="#c07458" fill-opacity="0.5"/><circle cx="200.4" cy="423.1" r="0.94" fill="#c07458" fill-opacity="0.5"/><circle cx="172.1" cy="458.6" r="1.25" fill="#c07458" fill-opacity="0.5"/><circle cx="201.7" cy="445.8" r="1.36" fill="#c07458" fill-opacity="0.5"/><circle cx="188.5" cy="451.4" r="0.70" fill="#c07458" fill-opacity="0.5"/><circle cx="128.5" cy="422.8" r="0.79" fill="#c07458" fill-opacity="0.5"/><circle cx="135.3" cy="458.6" r="0.98" fill="#c07458" fill-opacity="0.5"/><circle cx="183.4" cy="447.9" r="1.11" fill="#c07458" fill-opacity="0.5"/><circle cx="170.7" cy="416.2" r="1.24" fill="#c07458" fill-opacity="0.5"/><circle cx="194.5" cy="441.7" r="0.95" fill="#c07458" fill-opacity="0.5"/><circle cx="186.3" cy="419.4" r="1.17" fill="#c07458" fill-opacity="0.5"/><circle cx="148.8" cy="419.8" r="0.72" fill="#c07458" fill-opacity="0.5"/><circle cx="192.8" cy="426.5" r="1.17" fill="#c07458" fill-opacity="0.5"/><circle cx="215.5" cy="441.2" r="0.81" fill="#c07458" fill-opacity="0.5"/><circle cx="169.7" cy="450.9" r="1.20" fill="#c07458" fill-opacity="0.5"/><circle cx="182.4" cy="448.8" r="0.62" fill="#c07458" fill-opacity="0.5"/><circle cx="139.2" cy="429.0" r="1.18" fill="#c07458" fill-opacity="0.5"/><circle cx="153.6" cy="445.0" r="0.60" fill="#c07458" fill-opacity="0.5"/><circle cx="131.2" cy="429.7" r="1.10" fill="#c07458" fill-opacity="0.5"/><circle cx="189.4" cy="450.5" r="0.74" fill="#c07458" fill-opacity="0.5"/><circle cx="173.2" cy="439.7" r="0.89" fill="#c07458" fill-opacity="0.5"/><circle cx="136.5" cy="461.6" r="0.68" fill="#c07458" fill-opacity="0.5"/><circle cx="215.7" cy="463.7" r="0.60" fill="#c07458" fill-opacity="0.5"/><circle cx="167.9" cy="457.8" r="1.46" fill="#c07458" fill-opacity="0.5"/><circle cx="167.0" cy="429.7" r="0.69" fill="#c07458" fill-opacity="0.5"/><circle cx="212.7" cy="426.7" r="1.00" fill="#c07458" fill-opacity="0.5"/><circle cx="138.7" cy="442.7" r="1.44" fill="#c07458" fill-opacity="0.5"/><circle cx="137.8" cy="457.8" r="0.93" fill="#c07458" fill-opacity="0.5"/><circle cx="207.3" cy="451.9" r="0.70" fill="#c07458" fill-opacity="0.5"/><circle cx="208.3" cy="440.8" r="0.60" fill="#c07458" fill-opacity="0.5"/><circle cx="125.9" cy="441.1" r="0.87" fill="#c07458" fill-opacity="0.5"/><circle cx="153.4" cy="423.2" r="0.78" fill="#c07458" fill-opacity="0.5"/><circle cx="154.7" cy="458.9" r="0.60" fill="#c07458" fill-opacity="0.5"/><circle cx="194.7" cy="458.8" r="0.64" fill="#c07458" fill-opacity="0.5"/><circle cx="210.9" cy="452.4" r="1.37" fill="#c07458" fill-opacity="0.5"/><circle cx="152.3" cy="435.0" r="0.82" fill="#c07458" fill-opacity="0.5"/><circle cx="217.6" cy="446.0" r="0.79" fill="#c07458" fill-opacity="0.5"/><circle cx="165.0" cy="430.0" r="0.61" fill="#c07458" fill-opacity="0.5"/><circle cx="135.0" cy="458.6" r="0.74" fill="#c07458" fill-opacity="0.5"/><circle cx="211.8" cy="428.7" r="0.72" fill="#c07458" fill-opacity="0.5"/><circle cx="172.7" cy="425.7" r="0.81" fill="#c07458" fill-opacity="0.5"/><circle cx="213.7" cy="461.1" r="1.26" fill="#c07458" fill-opacity="0.5"/><circle cx="183.7" cy="462.6" r="1.42" fill="#c07458" fill-opacity="0.5"/><circle cx="176.2" cy="452.7" r="0.61" fill="#c07458" fill-opacity="0.5"/><circle cx="193.0" cy="439.0" r="1.19" fill="#c07458" fill-opacity="0.5"/><circle cx="185.0" cy="430.6" r="0.61" fill="#c07458" fill-opacity="0.5"/><circle cx="211.0" cy="422.5" r="0.89" fill="#c07458" fill-opacity="0.5"/><circle cx="157.3" cy="431.2" r="1.17" fill="#c07458" fill-opacity="0.5"/><circle cx="215.5" cy="429.3" r="1.08" fill="#c07458" fill-opacity="0.5"/><circle cx="153.3" cy="444.4" r="0.82" fill="#c07458" fill-opacity="0.5"/><circle cx="141.0" cy="424.2" r="0.69" fill="#c07458" fill-opacity="0.5"/><circle cx="209.0" cy="441.4" r="0.69" fill="#c07458" fill-opacity="0.5"/><circle cx="209.1" cy="466.8" r="0.87" fill="#c07458" fill-opacity="0.5"/><circle cx="138.5" cy="425.8" r="0.62" fill="#c07458" fill-opacity="0.5"/><circle cx="157.1" cy="420.6" r="0.71" fill="#c07458" fill-opacity="0.5"/><circle cx="149.4" cy="445.1" r="1.35" fill="#c07458" fill-opacity="0.5"/><circle cx="194.6" cy="437.1" r="0.84" fill="#c07458" fill-opacity="0.5"/><circle cx="173.9" cy="435.2" r="0.78" fill="#c07458" fill-opacity="0.5"/><circle cx="131.3" cy="430.2" r="1.46" fill="#c07458" fill-opacity="0.5"/><circle cx="137.2" cy="441.7" r="1.05" fill="#c07458" fill-opacity="0.5"/><circle cx="205.1" cy="427.0" r="0.73" fill="#c07458" fill-opacity="0.5"/><circle cx="148.5" cy="436.4" r="0.87" fill="#c07458" fill-opacity="0.5"/><circle cx="213.5" cy="459.3" r="1.33" fill="#c07458" fill-opacity="0.5"/><circle cx="127.6" cy="417.6" r="1.14" fill="#c07458" fill-opacity="0.5"/><circle cx="208.1" cy="440.1" r="1.00" fill="#c07458" fill-opacity="0.5"/><circle cx="125.6" cy="436.0" r="1.40" fill="#c07458" fill-opacity="0.5"/><circle cx="201.6" cy="459.6" r="1.46" fill="#c07458" fill-opacity="0.5"/><circle cx="148.5" cy="421.6" r="0.65" fill="#c07458" fill-opacity="0.5"/><circle cx="173.7" cy="450.8" r="1.42" fill="#c07458" fill-opacity="0.5"/><circle cx="192.1" cy="449.0" r="1.20" fill="#c07458" fill-opacity="0.5"/><circle cx="167.7" cy="444.1" r="0.61" fill="#c07458" fill-opacity="0.5"/><circle cx="197.6" cy="427.9" r="1.39" fill="#c07458" fill-opacity="0.5"/><circle cx="185.1" cy="431.5" r="0.64" fill="#c07458" fill-opacity="0.5"/><circle cx="148.8" cy="448.5" r="1.13" fill="#c07458" fill-opacity="0.5"/><circle cx="135.9" cy="419.6" r="0.94" fill="#c07458" fill-opacity="0.5"/><circle cx="179.3" cy="435.8" r="0.70" fill="#c07458" fill-opacity="0.5"/><circle cx="181.0" cy="416.5" r="0.75" fill="#c07458" fill-opacity="0.5"/><circle cx="168.0" cy="464.9" r="1.07" fill="#c07458" fill-opacity="0.5"/><circle cx="207.0" cy="440.2" r="0.70" fill="#c07458" fill-opacity="0.5"/><circle cx="148.4" cy="465.0" r="1.13" fill="#c07458" fill-opacity="0.5"/><circle cx="153.9" cy="417.1" r="0.92" fill="#c07458" fill-opacity="0.5"/><circle cx="187.7" cy="437.4" r="0.72" fill="#c07458" fill-opacity="0.5"/><circle cx="187.1" cy="463.2" r="0.70" fill="#c07458" fill-opacity="0.5"/><circle cx="128.7" cy="433.2" r="0.85" fill="#c07458" fill-opacity="0.5"/><circle cx="188.5" cy="426.1" r="1.24" fill="#c07458" fill-opacity="0.5"/><circle cx="193.7" cy="441.7" r="0.68" fill="#c07458" fill-opacity="0.5"/><circle cx="214.9" cy="431.9" r="1.27" fill="#c07458" fill-opacity="0.5"/><circle cx="146.9" cy="427.3" r="1.20" fill="#c07458" fill-opacity="0.5"/><circle cx="152.8" cy="464.5" r="0.91" fill="#c07458" fill-opacity="0.5"/><circle cx="142.9" cy="427.4" r="0.84" fill="#c07458" fill-opacity="0.5"/><circle cx="186.9" cy="464.4" r="0.65" fill="#c07458" fill-opacity="0.5"/><circle cx="161.8" cy="426.9" r="1.47" fill="#c07458" fill-opacity="0.5"/><circle cx="138.7" cy="418.6" r="0.61" fill="#c07458" fill-opacity="0.5"/><circle cx="161.8" cy="461.8" r="1.35" fill="#c07458" fill-opacity="0.5"/><circle cx="193.1" cy="466.9" r="1.41" fill="#c07458" fill-opacity="0.5"/><circle cx="155.9" cy="425.5" r="1.41" fill="#c07458" fill-opacity="0.5"/><circle cx="194.3" cy="417.6" r="1.09" fill="#c07458" fill-opacity="0.5"/><circle cx="160.5" cy="435.1" r="0.77" fill="#c07458" fill-opacity="0.5"/><circle cx="141.2" cy="416.1" r="0.73" fill="#c07458" fill-opacity="0.5"/><circle cx="158.0" cy="464.7" r="0.64" fill="#c07458" fill-opacity="0.5"/><circle cx="214.4" cy="426.6" r="0.79" fill="#c07458" fill-opacity="0.5"/><circle cx="201.3" cy="457.9" r="0.86" fill="#c07458" fill-opacity="0.5"/><circle cx="130.1" cy="440.1" r="0.80" fill="#c07458" fill-opacity="0.5"/><circle cx="210.3" cy="425.8" r="0.80" fill="#c07458" fill-opacity="0.5"/><circle cx="208.2" cy="417.5" r="0.84" fill="#c07458" fill-opacity="0.5"/><circle cx="200.4" cy="455.1" r="0.61" fill="#c07458" fill-opacity="0.5"/><circle cx="128.8" cy="419.2" r="1.39" fill="#c07458" fill-opacity="0.5"/><circle cx="149.3" cy="454.1" r="1.37" fill="#c07458" fill-opacity="0.5"/><circle cx="156.8" cy="429.9" r="1.44" fill="#c07458" fill-opacity="0.5"/><circle cx="182.4" cy="429.4" r="1.15" fill="#c07458" fill-opacity="0.5"/><circle cx="154.7" cy="430.1" r="0.60" fill="#c07458" fill-opacity="0.5"/><circle cx="195.2" cy="462.7" r="1.05" fill="#c07458" fill-opacity="0.5"/><circle cx="212.5" cy="417.2" r="0.70" fill="#c07458" fill-opacity="0.5"/><circle cx="169.4" cy="464.8" r="1.44" fill="#c07458" fill-opacity="0.5"/><circle cx="161.2" cy="428.8" r="0.85" fill="#c07458" fill-opacity="0.5"/><circle cx="171.0" cy="463.3" r="0.67" fill="#c07458" fill-opacity="0.5"/><circle cx="199.5" cy="453.7" r="1.27" fill="#c07458" fill-opacity="0.5"/><circle cx="196.8" cy="447.0" r="0.77" fill="#c07458" fill-opacity="0.5"/><circle cx="155.0" cy="434.5" r="1.22" fill="#c07458" fill-opacity="0.5"/><circle cx="132.9" cy="426.1" r="1.19" fill="#c07458" fill-opacity="0.5"/><circle cx="148.4" cy="419.3" r="0.61" fill="#c07458" fill-opacity="0.5"/><circle cx="176.5" cy="432.6" r="1.47" fill="#c07458" fill-opacity="0.5"/><circle cx="207.0" cy="466.4" r="0.72" fill="#c07458" fill-opacity="0.5"/><circle cx="133.3" cy="420.9" r="0.92" fill="#c07458" fill-opacity="0.5"/><circle cx="191.0" cy="438.8" r="0.70" fill="#c07458" fill-opacity="0.5"/><circle cx="164.0" cy="447.6" r="1.10" fill="#c07458" fill-opacity="0.5"/><circle cx="194.5" cy="459.2" r="1.09" fill="#c07458" fill-opacity="0.5"/><circle cx="136.8" cy="458.9" r="0.74" fill="#c07458" fill-opacity="0.5"/><circle cx="177.8" cy="435.0" r="1.17" fill="#c07458" fill-opacity="0.5"/><circle cx="143.9" cy="428.6" r="0.71" fill="#c07458" fill-opacity="0.5"/><circle cx="139.7" cy="461.1" r="1.00" fill="#c07458" fill-opacity="0.5"/><circle cx="155.7" cy="436.2" r="1.49" fill="#c07458" fill-opacity="0.5"/><circle cx="172.3" cy="427.8" r="1.25" fill="#c07458" fill-opacity="0.5"/><circle cx="185.8" cy="466.5" r="0.63" fill="#c07458" fill-opacity="0.5"/><circle cx="169.3" cy="457.8" r="1.29" fill="#c07458" fill-opacity="0.5"/><circle cx="209.8" cy="418.1" r="0.74" fill="#c07458" fill-opacity="0.5"/><circle cx="136.6" cy="425.7" r="1.46" fill="#c07458" fill-opacity="0.5"/><circle cx="179.3" cy="463.4" r="0.80" fill="#c07458" fill-opacity="0.5"/><circle cx="205.4" cy="438.9" r="0.72" fill="#c07458" fill-opacity="0.5"/><circle cx="197.2" cy="464.2" r="0.63" fill="#c07458" fill-opacity="0.5"/><circle cx="180.5" cy="447.6" r="0.69" fill="#c07458" fill-opacity="0.5"/><circle cx="159.6" cy="423.2" r="0.68" fill="#c07458" fill-opacity="0.5"/><circle cx="149.1" cy="446.6" r="1.07" fill="#c07458" fill-opacity="0.5"/><circle cx="144.3" cy="416.6" r="0.77" fill="#c07458" fill-opacity="0.5"/><circle cx="188.1" cy="425.4" r="0.76" fill="#c07458" fill-opacity="0.5"/><circle cx="144.3" cy="456.6" r="0.97" fill="#c07458" fill-opacity="0.5"/><circle cx="131.4" cy="421.2" r="0.82" fill="#c07458" fill-opacity="0.5"/><circle cx="176.3" cy="448.6" r="0.62" fill="#c07458" fill-opacity="0.5"/><circle cx="140.7" cy="451.5" r="0.84" fill="#c07458" fill-opacity="0.5"/><circle cx="151.7" cy="431.7" r="1.44" fill="#c07458" fill-opacity="0.5"/><circle cx="154.4" cy="444.9" r="0.79" fill="#c07458" fill-opacity="0.5"/><circle cx="164.0" cy="460.1" r="1.50" fill="#c07458" fill-opacity="0.5"/><circle cx="159.1" cy="426.1" r="1.16" fill="#c07458" fill-opacity="0.5"/><circle cx="144.4" cy="416.3" r="1.37" fill="#c07458" fill-opacity="0.5"/><circle cx="164.6" cy="457.8" r="0.83" fill="#c07458" fill-opacity="0.5"/><circle cx="206.9" cy="439.5" r="0.66" fill="#c07458" fill-opacity="0.5"/><circle cx="127.0" cy="444.1" r="1.06" fill="#c07458" fill-opacity="0.5"/><circle cx="209.4" cy="420.5" r="1.04" fill="#c07458" fill-opacity="0.5"/><circle cx="159.8" cy="441.7" r="0.65" fill="#c07458" fill-opacity="0.5"/><circle cx="151.7" cy="442.6" r="1.40" fill="#c07458" fill-opacity="0.5"/><circle cx="135.6" cy="441.0" r="1.25" fill="#c07458" fill-opacity="0.5"/><circle cx="214.6" cy="426.1" r="0.64" fill="#c07458" fill-opacity="0.5"/><circle cx="212.5" cy="465.8" r="0.90" fill="#c07458" fill-opacity="0.5"/><circle cx="130.5" cy="463.2" r="0.82" fill="#c07458" fill-opacity="0.5"/><circle cx="208.9" cy="447.6" r="1.27" fill="#c07458" fill-opacity="0.5"/><circle cx="140.4" cy="456.1" r="0.69" fill="#c07458" fill-opacity="0.5"/><circle cx="162.9" cy="459.2" r="1.28" fill="#c07458" fill-opacity="0.5"/><circle cx="142.5" cy="427.1" r="0.83" fill="#c07458" fill-opacity="0.5"/><circle cx="173.3" cy="435.6" r="0.64" fill="#c07458" fill-opacity="0.5"/><circle cx="148.4" cy="453.0" r="1.36" fill="#c07458" fill-opacity="0.5"/><circle cx="129.4" cy="444.7" r="1.19" fill="#c07458" fill-opacity="0.5"/><circle cx="129.1" cy="458.7" r="0.64" fill="#c07458" fill-opacity="0.5"/><circle cx="180.8" cy="444.1" r="1.05" fill="#c07458" fill-opacity="0.5"/><circle cx="153.8" cy="437.4" r="1.00" fill="#c07458" fill-opacity="0.5"/><circle cx="164.8" cy="449.6" r="0.87" fill="#c07458" fill-opacity="0.5"/><circle cx="166.0" cy="417.2" r="1.04" fill="#c07458" fill-opacity="0.5"/><circle cx="170.7" cy="428.0" r="1.20" fill="#c07458" fill-opacity="0.5"/><circle cx="197.4" cy="439.4" r="0.67" fill="#c07458" fill-opacity="0.5"/><circle cx="169.2" cy="421.5" r="0.64" fill="#c07458" fill-opacity="0.5"/><circle cx="165.3" cy="420.7" r="0.86" fill="#c07458" fill-opacity="0.5"/><circle cx="172.6" cy="418.1" r="1.06" fill="#c07458" fill-opacity="0.5"/><circle cx="133.2" cy="453.4" r="1.22" fill="#c07458" fill-opacity="0.5"/><circle cx="172.7" cy="418.8" r="0.92" fill="#c07458" fill-opacity="0.5"/><circle cx="160.4" cy="464.5" r="0.65" fill="#c07458" fill-opacity="0.5"/><circle cx="204.5" cy="466.8" r="1.16" fill="#c07458" fill-opacity="0.5"/><circle cx="200.7" cy="425.9" r="1.48" fill="#c07458" fill-opacity="0.5"/><circle cx="170.9" cy="464.8" r="1.39" fill="#c07458" fill-opacity="0.5"/><circle cx="140.8" cy="456.2" r="1.41" fill="#c07458" fill-opacity="0.5"/><circle cx="131.6" cy="433.9" r="1.19" fill="#c07458" fill-opacity="0.5"/><circle cx="140.2" cy="461.7" r="0.73" fill="#c07458" fill-opacity="0.5"/><circle cx="200.7" cy="423.3" r="0.92" fill="#c07458" fill-opacity="0.5"/><circle cx="210.3" cy="426.6" r="0.72" fill="#c07458" fill-opacity="0.5"/><circle cx="172.2" cy="432.3" r="0.61" fill="#c07458" fill-opacity="0.5"/><circle cx="142.4" cy="424.2" r="1.42" fill="#c07458" fill-opacity="0.5"/><circle cx="188.2" cy="461.7" r="0.66" fill="#c07458" fill-opacity="0.5"/><circle cx="197.9" cy="421.9" r="0.95" fill="#c07458" fill-opacity="0.5"/><circle cx="184.2" cy="434.3" r="1.33" fill="#c07458" fill-opacity="0.5"/><circle cx="176.7" cy="445.6" r="1.35" fill="#c07458" fill-opacity="0.5"/><circle cx="135.2" cy="466.6" r="1.05" fill="#c07458" fill-opacity="0.5"/><circle cx="161.9" cy="456.7" r="0.72" fill="#c07458" fill-opacity="0.5"/><circle cx="216.8" cy="445.4" r="0.82" fill="#9a361c" fill-opacity="0.85"/><circle cx="196.0" cy="438.6" r="0.67" fill="#9a361c" fill-opacity="0.85"/><circle cx="194.1" cy="418.5" r="1.34" fill="#9a361c" fill-opacity="0.85"/><circle cx="149.0" cy="448.6" r="1.58" fill="#9a361c" fill-opacity="0.85"/><circle cx="179.6" cy="449.8" r="0.77" fill="#9a361c" fill-opacity="0.85"/><circle cx="125.8" cy="417.7" r="0.66" fill="#9a361c" fill-opacity="0.85"/><circle cx="182.3" cy="438.0" r="0.97" fill="#9a361c" fill-opacity="0.85"/><circle cx="208.1" cy="422.7" r="0.71" fill="#9a361c" fill-opacity="0.85"/><circle cx="185.8" cy="417.1" r="0.60" fill="#9a361c" fill-opacity="0.85"/><circle cx="158.3" cy="421.4" r="0.81" fill="#9a361c" fill-opacity="0.85"/><circle cx="146.3" cy="445.8" r="1.05" fill="#9a361c" fill-opacity="0.85"/><circle cx="144.4" cy="447.8" r="0.93" fill="#9a361c" fill-opacity="0.85"/><circle cx="138.0" cy="463.8" r="0.72" fill="#9a361c" fill-opacity="0.85"/><circle cx="139.4" cy="420.9" r="1.11" fill="#9a361c" fill-opacity="0.85"/><circle cx="205.8" cy="455.9" r="0.85" fill="#9a361c" fill-opacity="0.85"/><circle cx="149.9" cy="416.6" r="1.12" fill="#9a361c" fill-opacity="0.85"/><circle cx="177.4" cy="433.9" r="1.12" fill="#9a361c" fill-opacity="0.85"/><circle cx="166.5" cy="463.8" r="1.23" fill="#9a361c" fill-opacity="0.85"/><circle cx="148.5" cy="462.1" r="0.61" fill="#9a361c" fill-opacity="0.85"/><circle cx="174.6" cy="436.7" r="0.72" fill="#9a361c" fill-opacity="0.85"/><circle cx="131.0" cy="455.7" r="0.60" fill="#9a361c" fill-opacity="0.85"/><circle cx="176.3" cy="464.0" r="0.65" fill="#9a361c" fill-opacity="0.85"/><circle cx="144.0" cy="447.0" r="0.96" fill="#9a361c" fill-opacity="0.85"/><circle cx="184.7" cy="457.5" r="0.67" fill="#9a361c" fill-opacity="0.85"/><circle cx="154.1" cy="431.3" r="0.61" fill="#9a361c" fill-opacity="0.85"/><circle cx="207.5" cy="455.9" r="1.21" fill="#9a361c" fill-opacity="0.85"/><circle cx="126.2" cy="459.1" r="1.24" fill="#9a361c" fill-opacity="0.85"/><circle cx="168.5" cy="453.8" r="0.90" fill="#9a361c" fill-opacity="0.85"/><circle cx="146.4" cy="421.4" r="0.71" fill="#9a361c" fill-opacity="0.85"/><circle cx="129.2" cy="433.1" r="1.25" fill="#9a361c" fill-opacity="0.85"/><circle cx="189.6" cy="459.1" r="1.20" fill="#9a361c" fill-opacity="0.85"/><circle cx="150.1" cy="444.2" r="0.89" fill="#9a361c" fill-opacity="0.85"/><circle cx="198.2" cy="442.7" r="0.74" fill="#9a361c" fill-opacity="0.85"/><circle cx="184.7" cy="465.2" r="0.70" fill="#9a361c" fill-opacity="0.85"/><circle cx="206.7" cy="416.8" r="0.73" fill="#9a361c" fill-opacity="0.85"/><circle cx="147.3" cy="453.9" r="1.52" fill="#9a361c" fill-opacity="0.85"/><circle cx="194.3" cy="432.7" r="1.43" fill="#9a361c" fill-opacity="0.85"/><circle cx="155.9" cy="428.2" r="1.46" fill="#9a361c" fill-opacity="0.85"/><circle cx="183.7" cy="451.3" r="1.14" fill="#9a361c" fill-opacity="0.85"/><circle cx="215.8" cy="439.9" r="1.37" fill="#9a361c" fill-opacity="0.85"/><circle cx="189.9" cy="459.7" r="0.89" fill="#9a361c" fill-opacity="0.85"/><circle cx="192.3" cy="445.1" r="0.77" fill="#9a361c" fill-opacity="0.85"/><circle cx="145.1" cy="447.8" r="0.62" fill="#9a361c" fill-opacity="0.85"/><circle cx="209.5" cy="423.4" r="0.60" fill="#9a361c" fill-opacity="0.85"/><circle cx="135.4" cy="463.4" r="0.80" fill="#9a361c" fill-opacity="0.85"/><circle cx="138.7" cy="417.5" r="0.61" fill="#9a361c" fill-opacity="0.85"/><circle cx="189.4" cy="448.3" r="1.18" fill="#9a361c" fill-opacity="0.85"/><circle cx="193.5" cy="419.4" r="1.05" fill="#9a361c" fill-opacity="0.85"/><circle cx="159.1" cy="457.7" r="1.34" fill="#9a361c" fill-opacity="0.85"/><circle cx="207.7" cy="419.4" r="1.41" fill="#9a361c" fill-opacity="0.85"/><circle cx="209.8" cy="464.2" r="0.64" fill="#9a361c" fill-opacity="0.85"/><circle cx="144.5" cy="421.7" r="0.61" fill="#9a361c" fill-opacity="0.85"/><circle cx="203.7" cy="457.4" r="1.11" fill="#9a361c" fill-opacity="0.85"/><circle cx="201.6" cy="448.2" r="0.75" fill="#9a361c" fill-opacity="0.85"/><circle cx="134.8" cy="421.0" r="1.26" fill="#9a361c" fill-opacity="0.85"/><circle cx="144.5" cy="432.3" r="0.88" fill="#9a361c" fill-opacity="0.85"/><circle cx="127.5" cy="429.1" r="0.75" fill="#9a361c" fill-opacity="0.85"/><circle cx="191.5" cy="434.8" r="0.78" fill="#9a361c" fill-opacity="0.85"/><circle cx="214.4" cy="441.7" r="1.39" fill="#9a361c" fill-opacity="0.85"/><circle cx="182.5" cy="417.6" r="0.87" fill="#9a361c" fill-opacity="0.85"/><circle cx="165.8" cy="455.4" r="0.80" fill="#9a361c" fill-opacity="0.85"/><circle cx="190.5" cy="443.4" r="0.70" fill="#9a361c" fill-opacity="0.85"/><circle cx="205.0" cy="420.6" r="1.34" fill="#9a361c" fill-opacity="0.85"/><circle cx="141.3" cy="416.1" r="0.69" fill="#9a361c" fill-opacity="0.85"/><circle cx="195.8" cy="465.9" r="0.60" fill="#9a361c" fill-opacity="0.85"/><circle cx="170.8" cy="441.1" r="1.31" fill="#9a361c" fill-opacity="0.85"/><circle cx="142.6" cy="441.2" r="0.80" fill="#9a361c" fill-opacity="0.85"/><circle cx="202.2" cy="429.3" r="1.52" fill="#9a361c" fill-opacity="0.85"/><circle cx="151.7" cy="427.0" r="1.19" fill="#9a361c" fill-opacity="0.85"/><circle cx="171.5" cy="421.6" r="1.11" fill="#9a361c" fill-opacity="0.85"/><circle cx="133.0" cy="456.2" r="1.18" fill="#9a361c" fill-opacity="0.85"/><circle cx="198.1" cy="448.0" r="0.81" fill="#9a361c" fill-opacity="0.85"/><circle cx="162.6" cy="436.1" r="1.44" fill="#9a361c" fill-opacity="0.85"/><circle cx="133.5" cy="461.3" r="0.60" fill="#9a361c" fill-opacity="0.85"/><circle cx="144.6" cy="429.4" r="1.46" fill="#9a361c" fill-opacity="0.85"/><circle cx="171.8" cy="435.3" r="1.43" fill="#9a361c" fill-opacity="0.85"/><circle cx="147.1" cy="439.5" r="0.99" fill="#9a361c" fill-opacity="0.85"/><circle cx="195.1" cy="454.4" r="1.12" fill="#9a361c" fill-opacity="0.85"/><circle cx="157.7" cy="432.7" r="0.66" fill="#9a361c" fill-opacity="0.85"/><circle cx="203.3" cy="449.8" r="1.24" fill="#9a361c" fill-opacity="0.85"/><circle cx="141.2" cy="438.4" r="1.28" fill="#9a361c" fill-opacity="0.85"/><circle cx="178.9" cy="422.4" r="0.91" fill="#9a361c" fill-opacity="0.85"/><circle cx="207.1" cy="428.1" r="0.68" fill="#9a361c" fill-opacity="0.85"/><circle cx="153.4" cy="451.9" r="1.37" fill="#9a361c" fill-opacity="0.85"/><circle cx="139.8" cy="424.0" r="0.72" fill="#9a361c" fill-opacity="0.85"/><circle cx="155.7" cy="442.6" r="0.66" fill="#9a361c" fill-opacity="0.85"/><circle cx="155.8" cy="425.7" r="1.56" fill="#9a361c" fill-opacity="0.85"/><circle cx="192.7" cy="421.2" r="1.54" fill="#9a361c" fill-opacity="0.85"/><circle cx="135.0" cy="435.6" r="1.58" fill="#9a361c" fill-opacity="0.85"/><circle cx="198.8" cy="453.4" r="0.89" fill="#9a361c" fill-opacity="0.85"/><circle cx="143.7" cy="448.5" r="0.63" fill="#9a361c" fill-opacity="0.85"/><circle cx="144.6" cy="435.8" r="0.61" fill="#9a361c" fill-opacity="0.85"/><circle cx="162.3" cy="456.3" r="1.18" fill="#9a361c" fill-opacity="0.85"/><circle cx="171.7" cy="448.3" r="0.92" fill="#9a361c" fill-opacity="0.85"/><circle cx="138.7" cy="446.8" r="0.86" fill="#9a361c" fill-opacity="0.85"/><circle cx="193.8" cy="462.3" r="0.88" fill="#9a361c" fill-opacity="0.85"/><circle cx="178.5" cy="454.2" r="0.87" fill="#9a361c" fill-opacity="0.85"/><circle cx="146.7" cy="452.8" r="1.43" fill="#9a361c" fill-opacity="0.85"/><circle cx="196.9" cy="451.7" r="1.39" fill="#9a361c" fill-opacity="0.85"/><circle cx="188.2" cy="448.7" r="0.91" fill="#9a361c" fill-opacity="0.85"/><circle cx="154.4" cy="448.0" r="0.63" fill="#9a361c" fill-opacity="0.85"/><circle cx="164.2" cy="455.9" r="1.20" fill="#9a361c" fill-opacity="0.85"/><circle cx="183.6" cy="428.8" r="0.88" fill="#9a361c" fill-opacity="0.85"/><circle cx="167.5" cy="447.7" r="0.86" fill="#9a361c" fill-opacity="0.85"/><circle cx="187.8" cy="463.4" r="0.68" fill="#9a361c" fill-opacity="0.85"/><circle cx="185.9" cy="455.7" r="0.84" fill="#9a361c" fill-opacity="0.85"/><circle cx="170.7" cy="465.7" r="0.61" fill="#9a361c" fill-opacity="0.85"/><circle cx="175.6" cy="424.2" r="1.29" fill="#9a361c" fill-opacity="0.85"/><circle cx="212.2" cy="442.5" r="0.63" fill="#9a361c" fill-opacity="0.85"/><circle cx="178.5" cy="443.6" r="1.21" fill="#9a361c" fill-opacity="0.85"/><circle cx="172.8" cy="448.6" r="1.35" fill="#9a361c" fill-opacity="0.85"/><circle cx="173.6" cy="436.9" r="1.52" fill="#9a361c" fill-opacity="0.85"/><circle cx="144.9" cy="450.9" r="0.85" fill="#9a361c" fill-opacity="0.85"/><circle cx="195.8" cy="422.2" r="1.58" fill="#9a361c" fill-opacity="0.85"/><circle cx="158.3" cy="418.9" r="0.74" fill="#9a361c" fill-opacity="0.85"/><circle cx="162.4" cy="416.7" r="0.87" fill="#9a361c" fill-opacity="0.85"/><circle cx="164.3" cy="451.6" r="0.81" fill="#9a361c" fill-opacity="0.85"/><circle cx="150.0" cy="427.4" r="1.24" fill="#9a361c" fill-opacity="0.85"/><circle cx="212.2" cy="442.9" r="0.70" fill="#9a361c" fill-opacity="0.85"/><circle cx="199.4" cy="436.0" r="0.70" fill="#9a361c" fill-opacity="0.85"/><circle cx="137.5" cy="455.6" r="1.33" fill="#9a361c" fill-opacity="0.85"/><circle cx="184.0" cy="439.9" r="1.02" fill="#9a361c" fill-opacity="0.85"/><circle cx="146.4" cy="465.2" r="0.81" fill="#9a361c" fill-opacity="0.85"/><circle cx="184.4" cy="457.8" r="1.34" fill="#9a361c" fill-opacity="0.85"/><circle cx="168.7" cy="431.0" r="1.01" fill="#9a361c" fill-opacity="0.85"/><circle cx="137.1" cy="458.5" r="0.81" fill="#9a361c" fill-opacity="0.85"/><circle cx="203.9" cy="429.6" r="0.83" fill="#9a361c" fill-opacity="0.85"/><circle cx="149.0" cy="437.7" r="0.68" fill="#9a361c" fill-opacity="0.85"/><circle cx="125.8" cy="452.8" r="0.75" fill="#9a361c" fill-opacity="0.85"/><circle cx="148.2" cy="431.4" r="0.93" fill="#9a361c" fill-opacity="0.85"/><circle cx="165.1" cy="448.5" r="1.14" fill="#9a361c" fill-opacity="0.85"/><circle cx="159.0" cy="463.4" r="1.39" fill="#9a361c" fill-opacity="0.85"/><circle cx="130.9" cy="458.2" r="1.46" fill="#9a361c" fill-opacity="0.85"/><circle cx="197.8" cy="423.2" r="1.36" fill="#9a361c" fill-opacity="0.85"/><circle cx="183.9" cy="416.8" r="0.60" fill="#9a361c" fill-opacity="0.85"/><circle cx="213.3" cy="449.5" r="0.73" fill="#9a361c" fill-opacity="0.85"/><circle cx="134.9" cy="423.3" r="0.71" fill="#9a361c" fill-opacity="0.85"/><circle cx="197.1" cy="433.7" r="0.66" fill="#9a361c" fill-opacity="0.85"/><circle cx="208.9" cy="456.4" r="0.67" fill="#9a361c" fill-opacity="0.85"/><circle cx="207.7" cy="447.0" r="1.29" fill="#9a361c" fill-opacity="0.85"/><circle cx="187.2" cy="461.6" r="1.30" fill="#9a361c" fill-opacity="0.85"/><circle cx="202.9" cy="426.1" r="1.18" fill="#9a361c" fill-opacity="0.85"/><circle cx="174.5" cy="453.8" r="0.89" fill="#9a361c" fill-opacity="0.85"/><circle cx="206.9" cy="444.3" r="0.74" fill="#9a361c" fill-opacity="0.85"/><circle cx="147.2" cy="423.1" r="0.95" fill="#9a361c" fill-opacity="0.85"/><circle cx="131.0" cy="439.8" r="0.65" fill="#9a361c" fill-opacity="0.85"/><circle cx="170.9" cy="441.4" r="1.00" fill="#9a361c" fill-opacity="0.85"/><circle cx="205.1" cy="416.3" r="1.37" fill="#9a361c" fill-opacity="0.85"/><circle cx="168.7" cy="444.7" r="1.14" fill="#9a361c" fill-opacity="0.85"/><circle cx="203.0" cy="435.1" r="0.87" fill="#9a361c" fill-opacity="0.85"/><circle cx="214.1" cy="419.8" r="1.11" fill="#9a361c" fill-opacity="0.85"/><circle cx="184.2" cy="417.5" r="1.08" fill="#9a361c" fill-opacity="0.85"/><circle cx="188.5" cy="463.5" r="0.79" fill="#9a361c" fill-opacity="0.85"/><circle cx="216.0" cy="442.0" r="0.94" fill="#9a361c" fill-opacity="0.85"/><circle cx="208.3" cy="417.7" r="1.21" fill="#9a361c" fill-opacity="0.85"/><circle cx="183.2" cy="433.3" r="1.40" fill="#9a361c" fill-opacity="0.85"/><circle cx="159.3" cy="440.2" r="0.98" fill="#9a361c" fill-opacity="0.85"/><circle cx="196.6" cy="426.7" r="0.89" fill="#9a361c" fill-opacity="0.85"/><circle cx="164.5" cy="444.3" r="1.35" fill="#9a361c" fill-opacity="0.85"/><circle cx="152.6" cy="458.2" r="0.86" fill="#9a361c" fill-opacity="0.85"/><circle cx="172.0" cy="429.9" r="0.96" fill="#9a361c" fill-opacity="0.85"/><circle cx="215.4" cy="449.4" r="1.30" fill="#9a361c" fill-opacity="0.85"/><circle cx="156.1" cy="432.2" r="0.76" fill="#9a361c" fill-opacity="0.85"/><circle cx="179.6" cy="448.4" r="1.29" fill="#9a361c" fill-opacity="0.85"/><circle cx="129.3" cy="452.9" r="1.43" fill="#9a361c" fill-opacity="0.85"/><circle cx="175.8" cy="418.5" r="0.76" fill="#9a361c" fill-opacity="0.85"/><circle cx="126.2" cy="425.7" r="1.48" fill="#9a361c" fill-opacity="0.85"/><circle cx="181.7" cy="449.6" r="1.30" fill="#9a361c" fill-opacity="0.85"/><circle cx="209.4" cy="447.2" r="1.08" fill="#9a361c" fill-opacity="0.85"/><circle cx="183.3" cy="451.5" r="1.06" fill="#9a361c" fill-opacity="0.85"/><circle cx="188.3" cy="426.8" r="1.14" fill="#9a361c" fill-opacity="0.85"/><circle cx="167.8" cy="454.9" r="0.63" fill="#9a361c" fill-opacity="0.85"/><circle cx="142.3" cy="417.9" r="1.28" fill="#9a361c" fill-opacity="0.85"/><circle cx="209.8" cy="449.4" r="0.82" fill="#9a361c" fill-opacity="0.85"/><circle cx="201.4" cy="456.1" r="1.02" fill="#9a361c" fill-opacity="0.85"/><circle cx="149.4" cy="431.4" r="0.87" fill="#9a361c" fill-opacity="0.85"/><circle cx="154.9" cy="438.0" r="1.11" fill="#9a361c" fill-opacity="0.85"/><circle cx="211.6" cy="418.8" r="1.03" fill="#9a361c" fill-opacity="0.85"/><circle cx="129.2" cy="422.1" r="1.33" fill="#9a361c" fill-opacity="0.85"/><circle cx="178.6" cy="462.9" r="0.90" fill="#9a361c" fill-opacity="0.85"/><circle cx="126.9" cy="435.7" r="1.06" fill="#9a361c" fill-opacity="0.85"/><circle cx="212.0" cy="466.0" r="0.93" fill="#9a361c" fill-opacity="0.85"/><circle cx="163.6" cy="421.2" r="1.12" fill="#9a361c" fill-opacity="0.85"/><circle cx="145.2" cy="423.7" r="0.60" fill="#9a361c" fill-opacity="0.85"/><circle cx="126.0" cy="450.9" r="0.64" fill="#9a361c" fill-opacity="0.85"/><circle cx="214.6" cy="420.5" r="1.41" fill="#9a361c" fill-opacity="0.85"/><circle cx="137.5" cy="416.9" r="1.21" fill="#9a361c" fill-opacity="0.85"/><circle cx="147.9" cy="453.4" r="0.68" fill="#9a361c" fill-opacity="0.85"/><circle cx="130.2" cy="455.5" r="1.20" fill="#9a361c" fill-opacity="0.85"/><circle cx="204.4" cy="453.2" r="0.62" fill="#9a361c" fill-opacity="0.85"/><circle cx="183.5" cy="452.2" r="0.91" fill="#9a361c" fill-opacity="0.85"/><circle cx="211.5" cy="429.0" r="1.55" fill="#9a361c" fill-opacity="0.85"/><circle cx="191.7" cy="416.6" r="0.60" fill="#9a361c" fill-opacity="0.85"/><circle cx="185.5" cy="457.7" r="0.62" fill="#9a361c" fill-opacity="0.85"/><circle cx="154.2" cy="453.2" r="0.67" fill="#9a361c" fill-opacity="0.85"/><circle cx="204.9" cy="440.8" r="0.61" fill="#9a361c" fill-opacity="0.85"/><circle cx="159.5" cy="445.3" r="0.89" fill="#9a361c" fill-opacity="0.85"/><circle cx="187.9" cy="423.4" r="1.31" fill="#9a361c" fill-opacity="0.85"/><circle cx="159.1" cy="448.9" r="1.10" fill="#9a361c" fill-opacity="0.85"/><circle cx="164.1" cy="435.7" r="1.30" fill="#9a361c" fill-opacity="0.85"/><circle cx="212.6" cy="456.0" r="1.03" fill="#9a361c" fill-opacity="0.85"/><circle cx="152.5" cy="419.1" r="1.56" fill="#9a361c" fill-opacity="0.85"/><circle cx="190.4" cy="458.2" r="0.79" fill="#9a361c" fill-opacity="0.85"/><circle cx="181.4" cy="465.8" r="1.36" fill="#9a361c" fill-opacity="0.85"/><circle cx="181.0" cy="431.7" r="0.88" fill="#9a361c" fill-opacity="0.85"/><circle cx="207.4" cy="435.2" r="1.17" fill="#9a361c" fill-opacity="0.85"/><circle cx="181.0" cy="461.7" r="1.33" fill="#9a361c" fill-opacity="0.85"/><circle cx="151.7" cy="416.1" r="0.73" fill="#9a361c" fill-opacity="0.85"/><circle cx="164.5" cy="445.9" r="1.34" fill="#9a361c" fill-opacity="0.85"/><circle cx="207.3" cy="418.2" r="1.36" fill="#9a361c" fill-opacity="0.85"/><circle cx="200.4" cy="460.2" r="1.03" fill="#9a361c" fill-opacity="0.85"/><circle cx="150.8" cy="459.4" r="1.32" fill="#9a361c" fill-opacity="0.85"/><circle cx="188.7" cy="462.6" r="0.80" fill="#9a361c" fill-opacity="0.85"/><circle cx="133.4" cy="444.2" r="1.31" fill="#9a361c" fill-opacity="0.85"/><circle cx="144.1" cy="454.3" r="1.50" fill="#9a361c" fill-opacity="0.85"/><circle cx="147.2" cy="447.0" r="1.16" fill="#9a361c" fill-opacity="0.85"/><circle cx="168.5" cy="426.5" r="0.73" fill="#9a361c" fill-opacity="0.85"/><circle cx="194.8" cy="456.4" r="0.91" fill="#9a361c" fill-opacity="0.85"/><circle cx="133.7" cy="457.1" r="1.28" fill="#9a361c" fill-opacity="0.85"/><circle cx="147.0" cy="445.6" r="1.45" fill="#9a361c" fill-opacity="0.85"/><circle cx="207.1" cy="442.6" r="0.93" fill="#9a361c" fill-opacity="0.85"/><circle cx="179.9" cy="425.6" r="0.68" fill="#9a361c" fill-opacity="0.85"/><circle cx="142.2" cy="451.8" r="0.82" fill="#9a361c" fill-opacity="0.85"/><circle cx="177.6" cy="436.5" r="0.97" fill="#9a361c" fill-opacity="0.85"/><circle cx="139.3" cy="418.3" r="1.60" fill="#9a361c" fill-opacity="0.85"/><circle cx="160.0" cy="421.4" r="1.10" fill="#9a361c" fill-opacity="0.85"/><circle cx="198.1" cy="424.0" r="1.06" fill="#9a361c" fill-opacity="0.85"/><circle cx="157.4" cy="442.5" r="0.60" fill="#9a361c" fill-opacity="0.85"/><circle cx="128.7" cy="466.5" r="1.41" fill="#9a361c" fill-opacity="0.85"/><circle cx="170.4" cy="444.9" r="0.73" fill="#9a361c" fill-opacity="0.85"/><circle cx="197.4" cy="437.7" r="1.05" fill="#701e0c" fill-opacity="0.85"/><circle cx="196.3" cy="457.8" r="1.07" fill="#701e0c" fill-opacity="0.85"/><circle cx="149.0" cy="417.9" r="0.55" fill="#701e0c" fill-opacity="0.85"/><circle cx="142.2" cy="420.3" r="0.51" fill="#701e0c" fill-opacity="0.85"/><circle cx="176.9" cy="460.4" r="0.69" fill="#701e0c" fill-opacity="0.85"/><circle cx="212.8" cy="462.4" r="0.51" fill="#701e0c" fill-opacity="0.85"/><circle cx="180.7" cy="436.3" r="0.52" fill="#701e0c" fill-opacity="0.85"/><circle cx="214.0" cy="429.1" r="0.75" fill="#701e0c" fill-opacity="0.85"/><circle cx="184.6" cy="464.8" r="0.83" fill="#701e0c" fill-opacity="0.85"/><circle cx="161.8" cy="438.9" r="0.54" fill="#701e0c" fill-opacity="0.85"/><circle cx="214.5" cy="466.6" r="0.56" fill="#701e0c" fill-opacity="0.85"/><circle cx="129.2" cy="429.0" r="0.63" fill="#701e0c" fill-opacity="0.85"/><circle cx="208.7" cy="462.1" r="0.96" fill="#701e0c" fill-opacity="0.85"/><circle cx="129.9" cy="456.1" r="0.86" fill="#701e0c" fill-opacity="0.85"/><circle cx="185.2" cy="466.3" r="0.51" fill="#701e0c" fill-opacity="0.85"/><circle cx="138.9" cy="454.5" r="1.05" fill="#701e0c" fill-opacity="0.85"/><circle cx="187.9" cy="431.2" r="0.77" fill="#701e0c" fill-opacity="0.85"/><circle cx="195.4" cy="421.4" r="0.61" fill="#701e0c" fill-opacity="0.85"/><circle cx="149.3" cy="422.3" r="0.70" fill="#701e0c" fill-opacity="0.85"/><circle cx="141.1" cy="428.2" r="0.53" fill="#701e0c" fill-opacity="0.85"/><circle cx="188.0" cy="416.6" r="0.86" fill="#701e0c" fill-opacity="0.85"/><circle cx="143.6" cy="417.8" r="1.04" fill="#701e0c" fill-opacity="0.85"/><circle cx="145.9" cy="463.6" r="0.98" fill="#701e0c" fill-opacity="0.85"/><circle cx="207.4" cy="423.1" r="0.68" fill="#701e0c" fill-opacity="0.85"/><circle cx="134.5" cy="463.4" r="0.96" fill="#701e0c" fill-opacity="0.85"/><circle cx="183.5" cy="439.1" r="0.62" fill="#701e0c" fill-opacity="0.85"/><circle cx="201.4" cy="440.4" r="0.80" fill="#701e0c" fill-opacity="0.85"/><circle cx="138.7" cy="427.3" r="0.51" fill="#701e0c" fill-opacity="0.85"/><circle cx="191.3" cy="444.2" r="0.53" fill="#701e0c" fill-opacity="0.85"/><circle cx="205.8" cy="429.6" r="0.66" fill="#701e0c" fill-opacity="0.85"/><circle cx="139.9" cy="429.8" r="0.96" fill="#701e0c" fill-opacity="0.85"/><circle cx="156.4" cy="424.6" r="0.71" fill="#701e0c" fill-opacity="0.85"/><circle cx="154.9" cy="462.1" r="0.52" fill="#701e0c" fill-opacity="0.85"/><circle cx="215.7" cy="418.9" r="1.01" fill="#701e0c" fill-opacity="0.85"/><circle cx="187.1" cy="426.8" r="0.70" fill="#701e0c" fill-opacity="0.85"/><circle cx="152.0" cy="429.1" r="0.55" fill="#701e0c" fill-opacity="0.85"/><circle cx="159.2" cy="466.5" r="1.10" fill="#701e0c" fill-opacity="0.85"/><circle cx="210.8" cy="421.0" r="0.59" fill="#701e0c" fill-opacity="0.85"/><circle cx="208.1" cy="418.9" r="0.87" fill="#701e0c" fill-opacity="0.85"/><circle cx="152.6" cy="465.9" r="0.50" fill="#701e0c" fill-opacity="0.85"/><circle cx="199.9" cy="433.4" r="0.53" fill="#701e0c" fill-opacity="0.85"/><circle cx="125.8" cy="458.4" r="0.73" fill="#701e0c" fill-opacity="0.85"/><circle cx="142.7" cy="438.2" r="1.02" fill="#701e0c" fill-opacity="0.85"/><circle cx="145.7" cy="445.1" r="0.53" fill="#701e0c" fill-opacity="0.85"/><circle cx="142.2" cy="455.3" r="0.86" fill="#701e0c" fill-opacity="0.85"/><circle cx="143.7" cy="420.0" r="0.52" fill="#701e0c" fill-opacity="0.85"/><circle cx="181.6" cy="441.3" r="0.59" fill="#701e0c" fill-opacity="0.85"/><circle cx="144.6" cy="447.2" r="0.86" fill="#701e0c" fill-opacity="0.85"/><circle cx="200.3" cy="445.7" r="0.55" fill="#701e0c" fill-opacity="0.85"/><circle cx="131.7" cy="453.4" r="0.66" fill="#701e0c" fill-opacity="0.85"/></g></g>
<rect x="125.6" y="475.0" width="92.1" height="50.8" fill="#dad4dc"/>
<rect x="125.6" y="475.0" width="92.1" height="50.8" fill="#000" filter="url(#f_dex_0)"/>
<rect x="125.6" y="475.0" width="92.1" height="50.8" fill="#000" filter="url(#f_dex_1)"/>
<rect x="125.6" y="475.0" width="92.1" height="50.8" fill="#000" filter="url(#f_dex_2)"/>
<clipPath id="c_dex"><rect x="125.6" y="475.0" width="92.1" height="50.8"/></clipPath>
<g clip-path="url(#c_dex)"><g filter="url(#bb)"><circle cx="192.1" cy="477.8" r="0.95" fill="#c47050" fill-opacity="0.55"/><circle cx="156.5" cy="517.8" r="1.00" fill="#c47050" fill-opacity="0.55"/><circle cx="171.0" cy="475.8" r="1.05" fill="#c47050" fill-opacity="0.55"/><circle cx="169.5" cy="519.3" r="0.50" fill="#c47050" fill-opacity="0.55"/><circle cx="142.7" cy="517.2" r="0.57" fill="#c47050" fill-opacity="0.55"/><circle cx="140.7" cy="493.9" r="0.74" fill="#c47050" fill-opacity="0.55"/><circle cx="126.0" cy="501.4" r="0.62" fill="#c47050" fill-opacity="0.55"/><circle cx="173.1" cy="481.1" r="0.85" fill="#c47050" fill-opacity="0.55"/><circle cx="200.8" cy="519.0" r="0.54" fill="#c47050" fill-opacity="0.55"/><circle cx="191.1" cy="494.4" r="0.89" fill="#c47050" fill-opacity="0.55"/><circle cx="131.2" cy="519.3" r="1.10" fill="#c47050" fill-opacity="0.55"/><circle cx="171.2" cy="501.1" r="0.69" fill="#c47050" fill-opacity="0.55"/><circle cx="175.1" cy="476.1" r="1.11" fill="#c47050" fill-opacity="0.55"/><circle cx="146.2" cy="484.3" r="0.42" fill="#c47050" fill-opacity="0.55"/><circle cx="148.7" cy="516.5" r="0.40" fill="#c47050" fill-opacity="0.55"/><circle cx="134.5" cy="510.5" r="0.46" fill="#c47050" fill-opacity="0.55"/><circle cx="127.2" cy="505.4" r="0.73" fill="#c47050" fill-opacity="0.55"/><circle cx="173.8" cy="510.7" r="0.42" fill="#c47050" fill-opacity="0.55"/><circle cx="205.7" cy="511.4" r="0.41" fill="#c47050" fill-opacity="0.55"/><circle cx="136.9" cy="500.1" r="0.67" fill="#c47050" fill-opacity="0.55"/><circle cx="151.4" cy="481.2" r="0.59" fill="#c47050" fill-opacity="0.55"/><circle cx="138.2" cy="505.1" r="1.00" fill="#c47050" fill-opacity="0.55"/><circle cx="139.2" cy="504.1" r="0.88" fill="#c47050" fill-opacity="0.55"/><circle cx="140.7" cy="517.0" r="1.08" fill="#c47050" fill-opacity="0.55"/><circle cx="161.4" cy="496.4" r="0.98" fill="#c47050" fill-opacity="0.55"/><circle cx="174.0" cy="495.1" r="1.08" fill="#c47050" fill-opacity="0.55"/><circle cx="197.2" cy="492.2" r="0.49" fill="#c47050" fill-opacity="0.55"/><circle cx="156.5" cy="497.1" r="1.13" fill="#c47050" fill-opacity="0.55"/><circle cx="199.7" cy="521.4" r="0.95" fill="#c47050" fill-opacity="0.55"/><circle cx="203.7" cy="477.7" r="0.68" fill="#c47050" fill-opacity="0.55"/><circle cx="213.8" cy="522.5" r="0.49" fill="#c47050" fill-opacity="0.55"/><circle cx="164.5" cy="507.1" r="0.57" fill="#c47050" fill-opacity="0.55"/><circle cx="174.5" cy="478.5" r="0.61" fill="#c47050" fill-opacity="0.55"/><circle cx="172.1" cy="476.1" r="0.44" fill="#c47050" fill-opacity="0.55"/><circle cx="214.9" cy="514.5" r="1.08" fill="#c47050" fill-opacity="0.55"/><circle cx="183.9" cy="516.1" r="1.02" fill="#c47050" fill-opacity="0.55"/><circle cx="207.1" cy="476.7" r="0.79" fill="#c47050" fill-opacity="0.55"/><circle cx="150.1" cy="509.5" r="0.51" fill="#c47050" fill-opacity="0.55"/><circle cx="175.5" cy="522.0" r="0.77" fill="#c47050" fill-opacity="0.55"/><circle cx="148.7" cy="501.4" r="0.61" fill="#c47050" fill-opacity="0.55"/><circle cx="213.2" cy="489.6" r="0.53" fill="#c47050" fill-opacity="0.55"/><circle cx="185.2" cy="481.1" r="0.74" fill="#c47050" fill-opacity="0.55"/><circle cx="213.7" cy="501.1" r="0.50" fill="#c47050" fill-opacity="0.55"/><circle cx="168.6" cy="502.1" r="0.44" fill="#c47050" fill-opacity="0.55"/><circle cx="137.0" cy="481.7" r="0.52" fill="#c47050" fill-opacity="0.55"/><circle cx="163.0" cy="489.6" r="0.49" fill="#c47050" fill-opacity="0.55"/><circle cx="133.7" cy="502.8" r="0.98" fill="#c47050" fill-opacity="0.55"/><circle cx="181.8" cy="504.0" r="0.79" fill="#c47050" fill-opacity="0.55"/><circle cx="144.1" cy="511.1" r="0.63" fill="#c47050" fill-opacity="0.55"/><circle cx="176.1" cy="506.1" r="0.64" fill="#c47050" fill-opacity="0.55"/><circle cx="154.2" cy="487.3" r="0.48" fill="#c47050" fill-opacity="0.55"/><circle cx="172.8" cy="494.5" r="0.74" fill="#c47050" fill-opacity="0.55"/><circle cx="126.7" cy="492.9" r="1.00" fill="#c47050" fill-opacity="0.55"/><circle cx="147.6" cy="503.3" r="0.66" fill="#c47050" fill-opacity="0.55"/><circle cx="151.8" cy="525.2" r="0.52" fill="#c47050" fill-opacity="0.55"/><circle cx="196.7" cy="483.1" r="0.41" fill="#c47050" fill-opacity="0.55"/><circle cx="205.8" cy="497.4" r="0.41" fill="#c47050" fill-opacity="0.55"/><circle cx="161.3" cy="497.3" r="0.87" fill="#c47050" fill-opacity="0.55"/><circle cx="135.7" cy="486.4" r="1.10" fill="#c47050" fill-opacity="0.55"/><circle cx="193.6" cy="482.8" r="0.55" fill="#c47050" fill-opacity="0.55"/><circle cx="158.1" cy="509.3" r="0.76" fill="#c47050" fill-opacity="0.55"/><circle cx="203.9" cy="516.7" r="0.68" fill="#c47050" fill-opacity="0.55"/><circle cx="193.6" cy="512.8" r="0.90" fill="#c47050" fill-opacity="0.55"/><circle cx="169.4" cy="514.9" r="0.85" fill="#c47050" fill-opacity="0.55"/><circle cx="209.8" cy="481.5" r="1.01" fill="#c47050" fill-opacity="0.55"/><circle cx="126.0" cy="513.9" r="0.74" fill="#c47050" fill-opacity="0.55"/><circle cx="171.5" cy="523.9" r="0.72" fill="#c47050" fill-opacity="0.55"/><circle cx="164.1" cy="514.8" r="1.01" fill="#c47050" fill-opacity="0.55"/><circle cx="181.5" cy="494.3" r="0.63" fill="#c47050" fill-opacity="0.55"/><circle cx="167.8" cy="511.7" r="0.52" fill="#c47050" fill-opacity="0.55"/><circle cx="161.6" cy="503.2" r="0.58" fill="#c47050" fill-opacity="0.55"/><circle cx="155.3" cy="515.0" r="0.99" fill="#c47050" fill-opacity="0.55"/><circle cx="171.6" cy="497.6" r="0.46" fill="#c47050" fill-opacity="0.55"/><circle cx="153.6" cy="482.4" r="0.73" fill="#c47050" fill-opacity="0.55"/><circle cx="179.2" cy="479.5" r="1.06" fill="#c47050" fill-opacity="0.55"/><circle cx="155.4" cy="517.8" r="0.98" fill="#c47050" fill-opacity="0.55"/><circle cx="213.9" cy="485.4" r="0.61" fill="#c47050" fill-opacity="0.55"/><circle cx="209.5" cy="475.5" r="0.41" fill="#c47050" fill-opacity="0.55"/><circle cx="177.6" cy="500.3" r="1.06" fill="#c47050" fill-opacity="0.55"/><circle cx="196.8" cy="502.4" r="1.15" fill="#c47050" fill-opacity="0.55"/><circle cx="173.3" cy="501.3" r="0.83" fill="#c47050" fill-opacity="0.55"/><circle cx="161.5" cy="493.2" r="0.74" fill="#c47050" fill-opacity="0.55"/><circle cx="157.9" cy="523.2" r="0.82" fill="#c47050" fill-opacity="0.55"/><circle cx="174.0" cy="480.0" r="0.57" fill="#c47050" fill-opacity="0.55"/><circle cx="162.5" cy="503.5" r="0.73" fill="#c47050" fill-opacity="0.55"/><circle cx="206.6" cy="524.0" r="0.65" fill="#c47050" fill-opacity="0.55"/><circle cx="166.1" cy="506.7" r="1.15" fill="#c47050" fill-opacity="0.55"/><circle cx="157.2" cy="501.9" r="0.95" fill="#c47050" fill-opacity="0.55"/><circle cx="141.3" cy="491.2" r="1.13" fill="#c47050" fill-opacity="0.55"/><circle cx="201.7" cy="501.0" r="0.43" fill="#c47050" fill-opacity="0.55"/><circle cx="208.0" cy="510.0" r="0.96" fill="#c47050" fill-opacity="0.55"/><circle cx="216.8" cy="520.1" r="0.60" fill="#c47050" fill-opacity="0.55"/><circle cx="140.0" cy="489.7" r="0.67" fill="#c47050" fill-opacity="0.55"/><circle cx="172.1" cy="484.6" r="0.46" fill="#c47050" fill-opacity="0.55"/><circle cx="183.6" cy="505.6" r="0.56" fill="#c47050" fill-opacity="0.55"/><circle cx="217.1" cy="507.3" r="0.41" fill="#c47050" fill-opacity="0.55"/><circle cx="163.5" cy="515.0" r="0.53" fill="#c47050" fill-opacity="0.55"/><circle cx="189.2" cy="475.2" r="0.53" fill="#c47050" fill-opacity="0.55"/><circle cx="203.2" cy="504.8" r="0.81" fill="#c47050" fill-opacity="0.55"/><circle cx="143.7" cy="500.3" r="0.71" fill="#c47050" fill-opacity="0.55"/><circle cx="150.1" cy="507.9" r="0.69" fill="#c47050" fill-opacity="0.55"/><circle cx="217.4" cy="504.2" r="0.60" fill="#c47050" fill-opacity="0.55"/><circle cx="136.8" cy="483.0" r="0.90" fill="#c47050" fill-opacity="0.55"/><circle cx="135.4" cy="480.1" r="0.45" fill="#c47050" fill-opacity="0.55"/><circle cx="173.7" cy="516.8" r="0.76" fill="#c47050" fill-opacity="0.55"/><circle cx="199.9" cy="478.2" r="0.40" fill="#c47050" fill-opacity="0.55"/><circle cx="196.6" cy="491.4" r="0.85" fill="#c47050" fill-opacity="0.55"/><circle cx="158.2" cy="483.6" r="0.50" fill="#c47050" fill-opacity="0.55"/><circle cx="134.8" cy="520.9" r="0.73" fill="#c47050" fill-opacity="0.55"/><circle cx="157.7" cy="497.9" r="0.58" fill="#c47050" fill-opacity="0.55"/><circle cx="130.6" cy="520.2" r="0.73" fill="#c47050" fill-opacity="0.55"/><circle cx="214.0" cy="497.3" r="0.77" fill="#c47050" fill-opacity="0.55"/><circle cx="148.6" cy="477.2" r="1.07" fill="#c47050" fill-opacity="0.55"/><circle cx="204.3" cy="491.0" r="1.04" fill="#c47050" fill-opacity="0.55"/><circle cx="200.7" cy="490.4" r="0.75" fill="#c47050" fill-opacity="0.55"/><circle cx="214.0" cy="500.2" r="1.09" fill="#c47050" fill-opacity="0.55"/><circle cx="148.0" cy="494.8" r="0.86" fill="#c47050" fill-opacity="0.55"/><circle cx="146.0" cy="490.7" r="1.01" fill="#c47050" fill-opacity="0.55"/><circle cx="170.2" cy="515.3" r="0.49" fill="#c47050" fill-opacity="0.55"/><circle cx="141.6" cy="493.2" r="0.46" fill="#c47050" fill-opacity="0.55"/><circle cx="215.1" cy="489.8" r="0.72" fill="#c47050" fill-opacity="0.55"/><circle cx="136.2" cy="502.1" r="0.58" fill="#c47050" fill-opacity="0.55"/><circle cx="162.7" cy="478.3" r="0.43" fill="#c47050" fill-opacity="0.55"/><circle cx="201.7" cy="492.8" r="0.49" fill="#c47050" fill-opacity="0.55"/><circle cx="143.2" cy="489.4" r="0.49" fill="#c47050" fill-opacity="0.55"/><circle cx="128.8" cy="508.7" r="0.55" fill="#c47050" fill-opacity="0.55"/><circle cx="140.0" cy="510.9" r="0.42" fill="#c47050" fill-opacity="0.55"/><circle cx="150.4" cy="517.4" r="0.43" fill="#c47050" fill-opacity="0.55"/><circle cx="166.4" cy="517.5" r="0.94" fill="#c47050" fill-opacity="0.55"/><circle cx="140.3" cy="492.9" r="0.86" fill="#c47050" fill-opacity="0.55"/><circle cx="160.3" cy="523.7" r="0.47" fill="#c47050" fill-opacity="0.55"/><circle cx="213.2" cy="500.6" r="0.48" fill="#c47050" fill-opacity="0.55"/><circle cx="167.3" cy="481.7" r="0.85" fill="#c47050" fill-opacity="0.55"/><circle cx="149.6" cy="520.7" r="0.74" fill="#c47050" fill-opacity="0.55"/><circle cx="159.5" cy="487.5" r="0.76" fill="#c47050" fill-opacity="0.55"/><circle cx="145.2" cy="519.3" r="0.43" fill="#c47050" fill-opacity="0.55"/><circle cx="172.8" cy="502.6" r="0.51" fill="#c47050" fill-opacity="0.55"/><circle cx="196.7" cy="494.5" r="0.80" fill="#c47050" fill-opacity="0.55"/><circle cx="177.9" cy="490.8" r="0.58" fill="#c47050" fill-opacity="0.55"/><circle cx="133.5" cy="484.0" r="0.99" fill="#c47050" fill-opacity="0.55"/><circle cx="155.2" cy="508.7" r="0.43" fill="#c47050" fill-opacity="0.55"/><circle cx="177.4" cy="493.4" r="0.67" fill="#c47050" fill-opacity="0.55"/><circle cx="152.9" cy="478.3" r="0.53" fill="#c47050" fill-opacity="0.55"/><circle cx="146.5" cy="481.4" r="0.86" fill="#c47050" fill-opacity="0.55"/><circle cx="151.6" cy="495.5" r="1.05" fill="#c47050" fill-opacity="0.55"/><circle cx="197.0" cy="519.8" r="1.00" fill="#c47050" fill-opacity="0.55"/><circle cx="137.8" cy="489.0" r="0.40" fill="#c47050" fill-opacity="0.55"/><circle cx="188.2" cy="508.7" r="0.56" fill="#c47050" fill-opacity="0.55"/><circle cx="163.6" cy="508.5" r="0.84" fill="#c47050" fill-opacity="0.55"/><circle cx="148.5" cy="518.0" r="0.56" fill="#c47050" fill-opacity="0.55"/><circle cx="183.5" cy="484.2" r="0.43" fill="#c47050" fill-opacity="0.55"/><circle cx="209.7" cy="512.3" r="0.85" fill="#c47050" fill-opacity="0.55"/><circle cx="129.3" cy="477.0" r="0.45" fill="#c47050" fill-opacity="0.55"/><circle cx="143.8" cy="490.4" r="0.58" fill="#c47050" fill-opacity="0.55"/><circle cx="129.2" cy="490.8" r="0.78" fill="#c47050" fill-opacity="0.55"/><circle cx="142.1" cy="517.6" r="0.72" fill="#c47050" fill-opacity="0.55"/><circle cx="191.6" cy="487.9" r="0.62" fill="#c47050" fill-opacity="0.55"/><circle cx="188.6" cy="492.7" r="0.40" fill="#c47050" fill-opacity="0.55"/><circle cx="202.4" cy="514.4" r="0.51" fill="#c47050" fill-opacity="0.55"/><circle cx="129.6" cy="518.4" r="0.76" fill="#c47050" fill-opacity="0.55"/><circle cx="130.0" cy="487.4" r="0.43" fill="#c47050" fill-opacity="0.55"/><circle cx="198.5" cy="485.7" r="1.06" fill="#c47050" fill-opacity="0.55"/><circle cx="194.6" cy="479.4" r="0.83" fill="#c47050" fill-opacity="0.55"/><circle cx="161.9" cy="513.0" r="0.97" fill="#c47050" fill-opacity="0.55"/><circle cx="151.5" cy="479.6" r="1.09" fill="#c47050" fill-opacity="0.55"/><circle cx="164.6" cy="522.3" r="0.83" fill="#c47050" fill-opacity="0.55"/><circle cx="193.6" cy="517.2" r="0.77" fill="#c47050" fill-opacity="0.55"/><circle cx="167.3" cy="477.8" r="0.84" fill="#c47050" fill-opacity="0.55"/><circle cx="165.1" cy="501.0" r="1.07" fill="#c47050" fill-opacity="0.55"/><circle cx="137.4" cy="513.7" r="0.41" fill="#c47050" fill-opacity="0.55"/><circle cx="190.3" cy="515.9" r="0.50" fill="#c47050" fill-opacity="0.55"/><circle cx="175.9" cy="524.2" r="0.78" fill="#c47050" fill-opacity="0.55"/><circle cx="175.7" cy="487.7" r="0.41" fill="#c47050" fill-opacity="0.55"/><circle cx="158.6" cy="495.9" r="0.47" fill="#c47050" fill-opacity="0.55"/><circle cx="154.2" cy="481.9" r="0.85" fill="#c47050" fill-opacity="0.55"/><circle cx="187.3" cy="487.1" r="0.49" fill="#c47050" fill-opacity="0.55"/><circle cx="173.1" cy="497.6" r="1.08" fill="#c47050" fill-opacity="0.55"/><circle cx="158.0" cy="490.2" r="1.02" fill="#c47050" fill-opacity="0.55"/><circle cx="138.7" cy="503.6" r="0.54" fill="#c47050" fill-opacity="0.55"/><circle cx="200.7" cy="502.9" r="0.90" fill="#c47050" fill-opacity="0.55"/><circle cx="141.2" cy="508.9" r="0.75" fill="#c47050" fill-opacity="0.55"/><circle cx="168.1" cy="513.9" r="0.97" fill="#c47050" fill-opacity="0.55"/><circle cx="136.1" cy="489.7" r="0.56" fill="#c47050" fill-opacity="0.55"/><circle cx="144.6" cy="478.1" r="0.51" fill="#c47050" fill-opacity="0.55"/><circle cx="143.8" cy="510.6" r="0.62" fill="#c47050" fill-opacity="0.55"/><circle cx="136.0" cy="491.5" r="0.64" fill="#c47050" fill-opacity="0.55"/><circle cx="159.0" cy="483.5" r="0.41" fill="#c47050" fill-opacity="0.55"/><circle cx="126.6" cy="525.4" r="0.89" fill="#c47050" fill-opacity="0.55"/><circle cx="133.3" cy="511.4" r="1.13" fill="#c47050" fill-opacity="0.55"/><circle cx="177.5" cy="480.5" r="0.66" fill="#c47050" fill-opacity="0.55"/><circle cx="165.6" cy="484.6" r="0.70" fill="#c47050" fill-opacity="0.55"/><circle cx="126.4" cy="521.7" r="0.79" fill="#c47050" fill-opacity="0.55"/><circle cx="183.4" cy="522.5" r="0.80" fill="#c47050" fill-opacity="0.55"/><circle cx="148.8" cy="487.5" r="0.44" fill="#c47050" fill-opacity="0.55"/><circle cx="128.1" cy="514.3" r="0.98" fill="#c47050" fill-opacity="0.55"/><circle cx="152.9" cy="484.4" r="0.78" fill="#c47050" fill-opacity="0.55"/><circle cx="203.5" cy="522.1" r="0.45" fill="#c47050" fill-opacity="0.55"/><circle cx="197.9" cy="517.2" r="0.88" fill="#c47050" fill-opacity="0.55"/><circle cx="155.7" cy="484.4" r="0.96" fill="#c47050" fill-opacity="0.55"/><circle cx="155.1" cy="493.7" r="0.71" fill="#c47050" fill-opacity="0.55"/><circle cx="159.6" cy="517.2" r="0.49" fill="#c47050" fill-opacity="0.55"/><circle cx="129.4" cy="503.8" r="0.77" fill="#c47050" fill-opacity="0.55"/><circle cx="201.1" cy="510.8" r="1.05" fill="#c47050" fill-opacity="0.55"/><circle cx="212.6" cy="500.1" r="0.66" fill="#c47050" fill-opacity="0.55"/><circle cx="140.1" cy="490.2" r="0.73" fill="#c47050" fill-opacity="0.55"/><circle cx="133.0" cy="509.9" r="0.45" fill="#c47050" fill-opacity="0.55"/><circle cx="166.4" cy="524.3" r="0.42" fill="#c47050" fill-opacity="0.55"/><circle cx="129.3" cy="497.3" r="0.46" fill="#c47050" fill-opacity="0.55"/><circle cx="192.2" cy="475.1" r="0.98" fill="#c47050" fill-opacity="0.55"/><circle cx="204.4" cy="515.0" r="0.61" fill="#c47050" fill-opacity="0.55"/><circle cx="151.7" cy="508.6" r="0.68" fill="#c47050" fill-opacity="0.55"/><circle cx="164.4" cy="492.2" r="0.62" fill="#c47050" fill-opacity="0.55"/><circle cx="186.9" cy="517.0" r="1.04" fill="#c47050" fill-opacity="0.55"/><circle cx="140.7" cy="490.0" r="0.62" fill="#c47050" fill-opacity="0.55"/><circle cx="177.5" cy="492.7" r="0.46" fill="#c47050" fill-opacity="0.55"/><circle cx="133.4" cy="491.4" r="0.63" fill="#c47050" fill-opacity="0.55"/><circle cx="215.1" cy="521.2" r="1.00" fill="#c47050" fill-opacity="0.55"/><circle cx="215.3" cy="523.9" r="0.77" fill="#c47050" fill-opacity="0.55"/><circle cx="200.3" cy="478.0" r="0.82" fill="#c47050" fill-opacity="0.55"/><circle cx="181.7" cy="490.1" r="0.72" fill="#c47050" fill-opacity="0.55"/><circle cx="213.4" cy="499.4" r="0.79" fill="#c47050" fill-opacity="0.55"/><circle cx="153.2" cy="492.4" r="1.02" fill="#c47050" fill-opacity="0.55"/><circle cx="128.2" cy="484.6" r="0.82" fill="#c47050" fill-opacity="0.55"/><circle cx="166.8" cy="479.3" r="0.80" fill="#c47050" fill-opacity="0.55"/><circle cx="159.9" cy="504.5" r="0.60" fill="#c47050" fill-opacity="0.55"/><circle cx="174.4" cy="503.7" r="0.59" fill="#c47050" fill-opacity="0.55"/><circle cx="136.1" cy="484.2" r="1.03" fill="#c47050" fill-opacity="0.55"/><circle cx="176.1" cy="480.7" r="1.00" fill="#c47050" fill-opacity="0.55"/><circle cx="148.9" cy="479.8" r="0.69" fill="#c47050" fill-opacity="0.55"/><circle cx="148.8" cy="499.9" r="0.71" fill="#c47050" fill-opacity="0.55"/><circle cx="146.5" cy="504.1" r="0.43" fill="#c47050" fill-opacity="0.55"/><circle cx="172.9" cy="504.9" r="0.42" fill="#c47050" fill-opacity="0.55"/><circle cx="163.2" cy="478.7" r="0.62" fill="#c47050" fill-opacity="0.55"/><circle cx="205.1" cy="503.0" r="0.85" fill="#c47050" fill-opacity="0.55"/><circle cx="195.3" cy="480.8" r="1.14" fill="#c47050" fill-opacity="0.55"/><circle cx="192.1" cy="480.2" r="0.97" fill="#c47050" fill-opacity="0.55"/><circle cx="161.7" cy="483.7" r="1.11" fill="#c47050" fill-opacity="0.55"/><circle cx="177.5" cy="514.4" r="0.44" fill="#c47050" fill-opacity="0.55"/><circle cx="197.1" cy="477.9" r="0.49" fill="#c47050" fill-opacity="0.55"/><circle cx="159.9" cy="475.8" r="0.74" fill="#c47050" fill-opacity="0.55"/><circle cx="145.2" cy="490.2" r="0.85" fill="#c47050" fill-opacity="0.55"/><circle cx="164.8" cy="520.1" r="0.77" fill="#c47050" fill-opacity="0.55"/><circle cx="205.9" cy="503.6" r="1.06" fill="#c47050" fill-opacity="0.55"/><circle cx="205.8" cy="483.5" r="0.88" fill="#c47050" fill-opacity="0.55"/><circle cx="157.0" cy="513.8" r="0.82" fill="#c47050" fill-opacity="0.55"/><circle cx="201.6" cy="481.2" r="0.57" fill="#c47050" fill-opacity="0.55"/><circle cx="193.5" cy="523.2" r="0.86" fill="#c47050" fill-opacity="0.55"/><circle cx="129.6" cy="505.7" r="0.42" fill="#c47050" fill-opacity="0.55"/><circle cx="176.1" cy="515.8" r="0.43" fill="#c47050" fill-opacity="0.55"/><circle cx="210.8" cy="509.3" r="0.50" fill="#c47050" fill-opacity="0.55"/><circle cx="143.4" cy="497.7" r="0.98" fill="#c47050" fill-opacity="0.55"/><circle cx="179.1" cy="480.8" r="0.40" fill="#c47050" fill-opacity="0.55"/><circle cx="135.8" cy="515.7" r="0.46" fill="#c47050" fill-opacity="0.55"/><circle cx="176.6" cy="489.7" r="0.83" fill="#c47050" fill-opacity="0.55"/><circle cx="160.7" cy="482.3" r="1.01" fill="#c47050" fill-opacity="0.55"/><circle cx="175.2" cy="510.0" r="0.94" fill="#c47050" fill-opacity="0.55"/><circle cx="213.0" cy="475.7" r="0.55" fill="#c47050" fill-opacity="0.55"/><circle cx="139.5" cy="500.5" r="1.01" fill="#c47050" fill-opacity="0.55"/><circle cx="199.3" cy="476.8" r="0.46" fill="#c47050" fill-opacity="0.55"/><circle cx="201.0" cy="509.5" r="0.58" fill="#c47050" fill-opacity="0.55"/><circle cx="169.4" cy="483.0" r="0.98" fill="#c47050" fill-opacity="0.55"/><circle cx="161.8" cy="519.3" r="0.76" fill="#c47050" fill-opacity="0.55"/><circle cx="132.6" cy="491.7" r="0.48" fill="#c47050" fill-opacity="0.55"/><circle cx="207.9" cy="504.9" r="0.41" fill="#c47050" fill-opacity="0.55"/><circle cx="141.2" cy="493.3" r="0.64" fill="#c47050" fill-opacity="0.55"/><circle cx="178.7" cy="494.7" r="0.56" fill="#c47050" fill-opacity="0.55"/><circle cx="126.2" cy="504.4" r="0.54" fill="#c47050" fill-opacity="0.55"/><circle cx="127.5" cy="498.3" r="1.13" fill="#c47050" fill-opacity="0.55"/><circle cx="129.8" cy="482.4" r="0.81" fill="#c47050" fill-opacity="0.55"/><circle cx="150.7" cy="488.9" r="0.67" fill="#c47050" fill-opacity="0.55"/><circle cx="149.7" cy="503.9" r="0.69" fill="#c47050" fill-opacity="0.55"/><circle cx="213.7" cy="525.4" r="0.40" fill="#c47050" fill-opacity="0.55"/><circle cx="177.2" cy="514.2" r="1.01" fill="#c47050" fill-opacity="0.55"/><circle cx="196.9" cy="507.2" r="0.78" fill="#c47050" fill-opacity="0.55"/><circle cx="159.0" cy="489.3" r="0.93" fill="#c47050" fill-opacity="0.55"/><circle cx="206.0" cy="522.7" r="0.82" fill="#c47050" fill-opacity="0.55"/><circle cx="153.6" cy="513.8" r="0.88" fill="#c47050" fill-opacity="0.55"/><circle cx="172.5" cy="507.3" r="0.56" fill="#c47050" fill-opacity="0.55"/><circle cx="176.3" cy="495.6" r="0.41" fill="#c47050" fill-opacity="0.55"/><circle cx="156.7" cy="491.4" r="1.14" fill="#c47050" fill-opacity="0.55"/><circle cx="169.9" cy="493.7" r="0.49" fill="#c47050" fill-opacity="0.55"/><circle cx="147.2" cy="492.7" r="0.44" fill="#c47050" fill-opacity="0.55"/><circle cx="126.3" cy="519.2" r="0.63" fill="#c47050" fill-opacity="0.55"/><circle cx="166.6" cy="503.9" r="0.52" fill="#c47050" fill-opacity="0.55"/><circle cx="141.2" cy="478.4" r="0.52" fill="#c47050" fill-opacity="0.55"/><circle cx="154.0" cy="511.9" r="0.71" fill="#c47050" fill-opacity="0.55"/><circle cx="211.9" cy="492.3" r="1.06" fill="#c47050" fill-opacity="0.55"/><circle cx="179.3" cy="479.1" r="0.46" fill="#c47050" fill-opacity="0.55"/><circle cx="179.1" cy="525.2" r="0.56" fill="#c47050" fill-opacity="0.55"/><circle cx="196.9" cy="496.8" r="1.01" fill="#c47050" fill-opacity="0.55"/><circle cx="131.8" cy="499.6" r="1.04" fill="#c47050" fill-opacity="0.55"/><circle cx="151.0" cy="488.1" r="0.40" fill="#c47050" fill-opacity="0.55"/><circle cx="140.8" cy="488.6" r="0.84" fill="#c47050" fill-opacity="0.55"/><circle cx="145.7" cy="495.3" r="0.47" fill="#c47050" fill-opacity="0.55"/><circle cx="181.1" cy="518.9" r="0.79" fill="#c47050" fill-opacity="0.55"/><circle cx="143.7" cy="512.3" r="1.11" fill="#c47050" fill-opacity="0.55"/><circle cx="181.0" cy="479.0" r="0.95" fill="#c47050" fill-opacity="0.55"/><circle cx="206.2" cy="492.3" r="0.44" fill="#c47050" fill-opacity="0.55"/><circle cx="142.9" cy="502.3" r="1.01" fill="#c47050" fill-opacity="0.55"/><circle cx="184.5" cy="521.9" r="0.47" fill="#c47050" fill-opacity="0.55"/><circle cx="155.7" cy="513.1" r="0.79" fill="#c47050" fill-opacity="0.55"/><circle cx="162.9" cy="509.5" r="0.55" fill="#c47050" fill-opacity="0.55"/><circle cx="130.9" cy="496.0" r="0.41" fill="#c47050" fill-opacity="0.55"/><circle cx="183.3" cy="492.0" r="0.66" fill="#c47050" fill-opacity="0.55"/><circle cx="180.7" cy="488.1" r="0.64" fill="#c47050" fill-opacity="0.55"/><circle cx="126.9" cy="522.0" r="0.72" fill="#c47050" fill-opacity="0.55"/><circle cx="216.6" cy="477.8" r="0.76" fill="#c47050" fill-opacity="0.55"/><circle cx="192.3" cy="491.7" r="0.42" fill="#c47050" fill-opacity="0.55"/><circle cx="140.0" cy="482.2" r="0.90" fill="#c47050" fill-opacity="0.55"/><circle cx="133.9" cy="516.4" r="0.61" fill="#c47050" fill-opacity="0.55"/><circle cx="175.2" cy="504.9" r="0.71" fill="#c47050" fill-opacity="0.55"/><circle cx="186.1" cy="505.6" r="0.54" fill="#c47050" fill-opacity="0.55"/><circle cx="193.9" cy="488.1" r="0.85" fill="#c47050" fill-opacity="0.55"/><circle cx="195.9" cy="514.4" r="0.53" fill="#c47050" fill-opacity="0.55"/><circle cx="196.8" cy="524.7" r="0.63" fill="#c47050" fill-opacity="0.55"/><circle cx="151.2" cy="501.6" r="1.08" fill="#c47050" fill-opacity="0.55"/><circle cx="137.7" cy="475.5" r="0.65" fill="#c47050" fill-opacity="0.55"/><circle cx="186.0" cy="514.3" r="0.56" fill="#c47050" fill-opacity="0.55"/><circle cx="216.7" cy="486.6" r="0.89" fill="#c47050" fill-opacity="0.55"/><circle cx="133.9" cy="476.4" r="0.44" fill="#c47050" fill-opacity="0.55"/><circle cx="131.1" cy="500.5" r="0.71" fill="#c47050" fill-opacity="0.55"/><circle cx="142.3" cy="522.7" r="0.57" fill="#c47050" fill-opacity="0.55"/><circle cx="139.4" cy="484.0" r="0.88" fill="#c47050" fill-opacity="0.55"/><circle cx="210.5" cy="483.2" r="0.40" fill="#c47050" fill-opacity="0.55"/><circle cx="197.3" cy="487.3" r="1.13" fill="#c47050" fill-opacity="0.55"/><circle cx="171.6" cy="507.3" r="0.55" fill="#c47050" fill-opacity="0.55"/><circle cx="199.3" cy="498.4" r="0.54" fill="#c47050" fill-opacity="0.55"/><circle cx="208.8" cy="480.5" r="0.87" fill="#c47050" fill-opacity="0.55"/><circle cx="131.6" cy="507.8" r="0.59" fill="#c47050" fill-opacity="0.55"/><circle cx="205.2" cy="478.0" r="0.72" fill="#c47050" fill-opacity="0.55"/><circle cx="163.4" cy="521.7" r="1.09" fill="#c47050" fill-opacity="0.55"/><circle cx="183.4" cy="486.4" r="0.49" fill="#c47050" fill-opacity="0.55"/><circle cx="149.8" cy="497.0" r="0.48" fill="#c47050" fill-opacity="0.55"/><circle cx="144.3" cy="513.6" r="0.79" fill="#c47050" fill-opacity="0.55"/><circle cx="153.1" cy="525.5" r="0.48" fill="#c47050" fill-opacity="0.55"/><circle cx="178.1" cy="483.0" r="1.00" fill="#c47050" fill-opacity="0.55"/><circle cx="205.7" cy="488.6" r="0.89" fill="#c47050" fill-opacity="0.55"/><circle cx="201.4" cy="489.4" r="0.54" fill="#c47050" fill-opacity="0.55"/><circle cx="170.3" cy="520.3" r="0.45" fill="#c47050" fill-opacity="0.55"/><circle cx="188.5" cy="505.4" r="0.63" fill="#c47050" fill-opacity="0.55"/><circle cx="178.9" cy="519.8" r="0.47" fill="#c47050" fill-opacity="0.55"/><circle cx="207.0" cy="493.3" r="0.92" fill="#c47050" fill-opacity="0.55"/><circle cx="205.1" cy="484.3" r="1.00" fill="#c47050" fill-opacity="0.55"/><circle cx="217.2" cy="490.1" r="0.40" fill="#c47050" fill-opacity="0.55"/><circle cx="135.9" cy="524.5" r="0.40" fill="#c47050" fill-opacity="0.55"/><circle cx="209.6" cy="482.7" r="0.87" fill="#c47050" fill-opacity="0.55"/><circle cx="134.6" cy="483.6" r="0.82" fill="#c47050" fill-opacity="0.55"/><circle cx="133.9" cy="492.2" r="1.06" fill="#c47050" fill-opacity="0.55"/><circle cx="191.6" cy="519.8" r="1.13" fill="#c47050" fill-opacity="0.55"/><circle cx="128.6" cy="486.9" r="0.93" fill="#c47050" fill-opacity="0.55"/><circle cx="189.1" cy="476.9" r="0.67" fill="#c47050" fill-opacity="0.55"/><circle cx="146.9" cy="496.9" r="0.43" fill="#c47050" fill-opacity="0.55"/><circle cx="127.4" cy="525.3" r="0.53" fill="#c47050" fill-opacity="0.55"/><circle cx="206.5" cy="481.1" r="0.66" fill="#c47050" fill-opacity="0.55"/><circle cx="138.1" cy="496.8" r="0.46" fill="#c47050" fill-opacity="0.55"/><circle cx="188.7" cy="482.5" r="0.88" fill="#c47050" fill-opacity="0.55"/><circle cx="171.7" cy="480.7" r="0.56" fill="#c47050" fill-opacity="0.55"/><circle cx="171.3" cy="521.7" r="0.55" fill="#c47050" fill-opacity="0.55"/><circle cx="145.4" cy="524.1" r="1.02" fill="#c47050" fill-opacity="0.55"/><circle cx="193.0" cy="488.9" r="0.46" fill="#c47050" fill-opacity="0.55"/><circle cx="150.0" cy="478.5" r="0.41" fill="#c47050" fill-opacity="0.55"/><circle cx="172.5" cy="495.7" r="0.71" fill="#c47050" fill-opacity="0.55"/><circle cx="159.0" cy="475.5" r="0.83" fill="#c47050" fill-opacity="0.55"/><circle cx="185.8" cy="502.6" r="0.70" fill="#c47050" fill-opacity="0.55"/><circle cx="189.2" cy="524.9" r="1.01" fill="#c47050" fill-opacity="0.55"/><circle cx="191.7" cy="495.3" r="0.53" fill="#c47050" fill-opacity="0.55"/><circle cx="164.2" cy="524.4" r="0.58" fill="#c47050" fill-opacity="0.55"/><circle cx="161.1" cy="495.8" r="0.44" fill="#c47050" fill-opacity="0.55"/><circle cx="217.5" cy="475.3" r="0.76" fill="#c47050" fill-opacity="0.55"/><circle cx="210.9" cy="487.9" r="0.76" fill="#c47050" fill-opacity="0.55"/><circle cx="160.3" cy="487.2" r="0.47" fill="#c47050" fill-opacity="0.55"/><circle cx="136.3" cy="517.8" r="0.92" fill="#c47050" fill-opacity="0.55"/><circle cx="209.3" cy="477.5" r="0.83" fill="#c47050" fill-opacity="0.55"/><circle cx="155.5" cy="507.8" r="0.71" fill="#c47050" fill-opacity="0.55"/><circle cx="154.7" cy="524.4" r="0.40" fill="#c47050" fill-opacity="0.55"/><circle cx="194.3" cy="518.4" r="0.67" fill="#c47050" fill-opacity="0.55"/><circle cx="180.2" cy="525.5" r="0.49" fill="#c47050" fill-opacity="0.55"/><circle cx="183.6" cy="512.8" r="0.57" fill="#c47050" fill-opacity="0.55"/><circle cx="191.2" cy="495.0" r="0.69" fill="#c47050" fill-opacity="0.55"/><circle cx="182.0" cy="509.4" r="0.54" fill="#c47050" fill-opacity="0.55"/><circle cx="183.5" cy="502.6" r="0.48" fill="#c47050" fill-opacity="0.55"/><circle cx="182.0" cy="488.5" r="1.05" fill="#c47050" fill-opacity="0.55"/><circle cx="169.2" cy="511.7" r="0.68" fill="#c47050" fill-opacity="0.55"/><circle cx="169.5" cy="486.2" r="0.44" fill="#c47050" fill-opacity="0.55"/><circle cx="211.0" cy="501.9" r="0.68" fill="#c47050" fill-opacity="0.55"/><circle cx="174.2" cy="516.3" r="0.49" fill="#c47050" fill-opacity="0.55"/><circle cx="141.5" cy="516.8" r="0.63" fill="#c47050" fill-opacity="0.55"/><circle cx="184.6" cy="517.0" r="1.03" fill="#c47050" fill-opacity="0.55"/><circle cx="205.5" cy="477.2" r="0.58" fill="#c47050" fill-opacity="0.55"/><circle cx="202.2" cy="516.5" r="0.43" fill="#c47050" fill-opacity="0.55"/><circle cx="139.8" cy="487.8" r="0.42" fill="#c47050" fill-opacity="0.55"/><circle cx="158.4" cy="515.8" r="0.68" fill="#c47050" fill-opacity="0.55"/><circle cx="167.3" cy="479.5" r="0.59" fill="#c47050" fill-opacity="0.55"/><circle cx="217.4" cy="510.3" r="0.63" fill="#c47050" fill-opacity="0.55"/><circle cx="169.7" cy="515.6" r="0.90" fill="#c47050" fill-opacity="0.55"/><circle cx="139.4" cy="509.6" r="0.57" fill="#c47050" fill-opacity="0.55"/><circle cx="173.6" cy="487.1" r="0.57" fill="#c47050" fill-opacity="0.55"/><circle cx="156.9" cy="494.4" r="0.40" fill="#c47050" fill-opacity="0.55"/><circle cx="144.1" cy="504.0" r="0.41" fill="#c47050" fill-opacity="0.55"/><circle cx="142.0" cy="511.5" r="0.51" fill="#c47050" fill-opacity="0.55"/><circle cx="155.4" cy="487.3" r="0.97" fill="#c47050" fill-opacity="0.55"/><circle cx="134.0" cy="507.3" r="1.00" fill="#c47050" fill-opacity="0.55"/><circle cx="144.2" cy="496.5" r="0.93" fill="#c47050" fill-opacity="0.55"/><circle cx="182.5" cy="493.9" r="0.41" fill="#c47050" fill-opacity="0.55"/><circle cx="166.4" cy="493.7" r="0.85" fill="#c47050" fill-opacity="0.55"/><circle cx="152.8" cy="495.7" r="0.79" fill="#c47050" fill-opacity="0.55"/><circle cx="200.3" cy="492.9" r="0.58" fill="#c47050" fill-opacity="0.55"/><circle cx="178.9" cy="522.0" r="0.46" fill="#c47050" fill-opacity="0.55"/><circle cx="215.1" cy="511.2" r="0.57" fill="#c47050" fill-opacity="0.55"/><circle cx="186.9" cy="491.7" r="0.41" fill="#c47050" fill-opacity="0.55"/><circle cx="195.2" cy="494.3" r="0.69" fill="#c47050" fill-opacity="0.55"/><circle cx="171.3" cy="520.8" r="0.89" fill="#c47050" fill-opacity="0.55"/><circle cx="128.0" cy="505.1" r="0.64" fill="#c47050" fill-opacity="0.55"/><circle cx="168.2" cy="517.7" r="0.60" fill="#c47050" fill-opacity="0.55"/><circle cx="169.2" cy="520.2" r="0.62" fill="#c47050" fill-opacity="0.55"/><circle cx="170.8" cy="501.0" r="0.96" fill="#c47050" fill-opacity="0.55"/><circle cx="187.3" cy="512.6" r="0.59" fill="#c47050" fill-opacity="0.55"/><circle cx="129.3" cy="509.5" r="0.71" fill="#c47050" fill-opacity="0.55"/><circle cx="196.4" cy="514.1" r="0.43" fill="#c47050" fill-opacity="0.55"/><circle cx="145.9" cy="478.9" r="0.95" fill="#c47050" fill-opacity="0.55"/><circle cx="135.0" cy="479.5" r="0.82" fill="#a44824" fill-opacity="0.75"/><circle cx="177.6" cy="477.8" r="0.77" fill="#a44824" fill-opacity="0.75"/><circle cx="191.1" cy="499.5" r="0.41" fill="#a44824" fill-opacity="0.75"/><circle cx="189.2" cy="496.2" r="0.69" fill="#a44824" fill-opacity="0.75"/><circle cx="217.5" cy="516.5" r="0.93" fill="#a44824" fill-opacity="0.75"/><circle cx="139.0" cy="492.0" r="0.64" fill="#a44824" fill-opacity="0.75"/><circle cx="126.2" cy="525.2" r="0.49" fill="#a44824" fill-opacity="0.75"/><circle cx="149.8" cy="490.9" r="0.48" fill="#a44824" fill-opacity="0.75"/><circle cx="204.7" cy="503.2" r="0.64" fill="#a44824" fill-opacity="0.75"/><circle cx="164.3" cy="477.6" r="0.51" fill="#a44824" fill-opacity="0.75"/><circle cx="205.4" cy="515.7" r="0.92" fill="#a44824" fill-opacity="0.75"/><circle cx="149.3" cy="485.3" r="0.41" fill="#a44824" fill-opacity="0.75"/><circle cx="175.0" cy="494.0" r="0.61" fill="#a44824" fill-opacity="0.75"/><circle cx="170.6" cy="504.7" r="0.54" fill="#a44824" fill-opacity="0.75"/><circle cx="199.4" cy="485.2" r="0.97" fill="#a44824" fill-opacity="0.75"/><circle cx="176.8" cy="477.6" r="0.51" fill="#a44824" fill-opacity="0.75"/><circle cx="174.7" cy="495.8" r="0.68" fill="#a44824" fill-opacity="0.75"/><circle cx="155.4" cy="488.9" r="0.86" fill="#a44824" fill-opacity="0.75"/><circle cx="152.5" cy="511.1" r="0.87" fill="#a44824" fill-opacity="0.75"/><circle cx="180.1" cy="498.1" r="0.99" fill="#a44824" fill-opacity="0.75"/><circle cx="166.6" cy="519.6" r="0.41" fill="#a44824" fill-opacity="0.75"/><circle cx="165.5" cy="507.5" r="0.41" fill="#a44824" fill-opacity="0.75"/><circle cx="205.0" cy="478.7" r="0.70" fill="#a44824" fill-opacity="0.75"/><circle cx="142.2" cy="521.9" r="0.67" fill="#a44824" fill-opacity="0.75"/><circle cx="199.3" cy="500.3" r="0.76" fill="#a44824" fill-opacity="0.75"/><circle cx="187.8" cy="490.0" r="0.46" fill="#a44824" fill-opacity="0.75"/><circle cx="202.8" cy="482.4" r="0.97" fill="#a44824" fill-opacity="0.75"/><circle cx="144.7" cy="480.1" r="0.42" fill="#a44824" fill-opacity="0.75"/><circle cx="197.8" cy="523.3" r="0.57" fill="#a44824" fill-opacity="0.75"/><circle cx="186.3" cy="488.1" r="0.96" fill="#a44824" fill-opacity="0.75"/><circle cx="188.8" cy="482.9" r="0.41" fill="#a44824" fill-opacity="0.75"/><circle cx="189.7" cy="477.1" r="0.90" fill="#a44824" fill-opacity="0.75"/><circle cx="152.6" cy="486.8" r="0.69" fill="#a44824" fill-opacity="0.75"/><circle cx="155.0" cy="503.5" r="0.44" fill="#a44824" fill-opacity="0.75"/><circle cx="209.6" cy="491.5" r="0.90" fill="#a44824" fill-opacity="0.75"/><circle cx="139.6" cy="515.6" r="1.03" fill="#a44824" fill-opacity="0.75"/><circle cx="161.7" cy="476.7" r="0.55" fill="#a44824" fill-opacity="0.75"/><circle cx="184.6" cy="486.3" r="0.66" fill="#a44824" fill-opacity="0.75"/><circle cx="134.2" cy="498.6" r="0.80" fill="#a44824" fill-opacity="0.75"/><circle cx="165.2" cy="509.5" r="0.43" fill="#a44824" fill-opacity="0.75"/><circle cx="201.9" cy="481.2" r="0.98" fill="#a44824" fill-opacity="0.75"/><circle cx="217.3" cy="522.7" r="0.65" fill="#a44824" fill-opacity="0.75"/><circle cx="152.4" cy="492.7" r="0.82" fill="#a44824" fill-opacity="0.75"/><circle cx="171.3" cy="522.2" r="0.42" fill="#a44824" fill-opacity="0.75"/><circle cx="170.2" cy="518.9" r="0.70" fill="#a44824" fill-opacity="0.75"/><circle cx="175.4" cy="479.5" r="0.43" fill="#a44824" fill-opacity="0.75"/><circle cx="150.6" cy="520.4" r="0.91" fill="#a44824" fill-opacity="0.75"/><circle cx="146.5" cy="522.0" r="0.40" fill="#a44824" fill-opacity="0.75"/><circle cx="180.7" cy="524.1" r="0.53" fill="#a44824" fill-opacity="0.75"/><circle cx="212.6" cy="508.4" r="0.41" fill="#a44824" fill-opacity="0.75"/><circle cx="156.3" cy="497.8" r="0.48" fill="#a44824" fill-opacity="0.75"/><circle cx="194.0" cy="484.1" r="0.85" fill="#a44824" fill-opacity="0.75"/><circle cx="153.1" cy="478.5" r="0.67" fill="#a44824" fill-opacity="0.75"/><circle cx="134.4" cy="503.0" r="0.85" fill="#a44824" fill-opacity="0.75"/><circle cx="180.5" cy="498.4" r="0.40" fill="#a44824" fill-opacity="0.75"/><circle cx="172.9" cy="479.9" r="0.74" fill="#a44824" fill-opacity="0.75"/><circle cx="137.8" cy="504.4" r="0.54" fill="#a44824" fill-opacity="0.75"/><circle cx="160.1" cy="508.7" r="0.44" fill="#a44824" fill-opacity="0.75"/><circle cx="141.2" cy="522.8" r="0.52" fill="#a44824" fill-opacity="0.75"/><circle cx="203.2" cy="519.4" r="0.62" fill="#a44824" fill-opacity="0.75"/><circle cx="139.3" cy="479.8" r="0.94" fill="#a44824" fill-opacity="0.75"/><circle cx="136.4" cy="500.2" r="0.66" fill="#a44824" fill-opacity="0.75"/><circle cx="136.4" cy="498.8" r="0.44" fill="#a44824" fill-opacity="0.75"/><circle cx="174.9" cy="500.7" r="0.54" fill="#a44824" fill-opacity="0.75"/><circle cx="143.8" cy="495.5" r="0.46" fill="#a44824" fill-opacity="0.75"/><circle cx="137.3" cy="487.2" r="0.93" fill="#a44824" fill-opacity="0.75"/><circle cx="171.8" cy="520.2" r="0.40" fill="#a44824" fill-opacity="0.75"/><circle cx="212.5" cy="499.8" r="0.86" fill="#a44824" fill-opacity="0.75"/><circle cx="178.1" cy="510.0" r="0.47" fill="#a44824" fill-opacity="0.75"/><circle cx="194.7" cy="482.8" r="0.49" fill="#a44824" fill-opacity="0.75"/><circle cx="128.4" cy="495.0" r="0.64" fill="#a44824" fill-opacity="0.75"/><circle cx="152.5" cy="520.2" r="0.42" fill="#a44824" fill-opacity="0.75"/><circle cx="178.9" cy="486.9" r="0.70" fill="#a44824" fill-opacity="0.75"/><circle cx="197.8" cy="511.1" r="0.41" fill="#a44824" fill-opacity="0.75"/><circle cx="148.2" cy="505.4" r="1.03" fill="#a44824" fill-opacity="0.75"/><circle cx="129.4" cy="506.4" r="0.77" fill="#a44824" fill-opacity="0.75"/><circle cx="200.6" cy="492.4" r="0.87" fill="#a44824" fill-opacity="0.75"/><circle cx="168.1" cy="521.8" r="0.40" fill="#a44824" fill-opacity="0.75"/><circle cx="212.2" cy="495.9" r="0.57" fill="#a44824" fill-opacity="0.75"/><circle cx="133.7" cy="487.4" r="0.81" fill="#a44824" fill-opacity="0.75"/><circle cx="188.1" cy="482.7" r="0.53" fill="#a44824" fill-opacity="0.75"/><circle cx="138.5" cy="485.1" r="0.47" fill="#a44824" fill-opacity="0.75"/><circle cx="156.1" cy="524.6" r="1.05" fill="#a44824" fill-opacity="0.75"/><circle cx="198.5" cy="499.4" r="0.63" fill="#a44824" fill-opacity="0.75"/><circle cx="197.4" cy="521.1" r="0.82" fill="#a44824" fill-opacity="0.75"/><circle cx="184.2" cy="485.1" r="0.72" fill="#a44824" fill-opacity="0.75"/><circle cx="203.5" cy="515.0" r="0.42" fill="#a44824" fill-opacity="0.75"/><circle cx="191.7" cy="492.7" r="0.44" fill="#a44824" fill-opacity="0.75"/><circle cx="214.5" cy="509.2" r="0.82" fill="#a44824" fill-opacity="0.75"/><circle cx="138.0" cy="517.1" r="0.99" fill="#a44824" fill-opacity="0.75"/><circle cx="208.9" cy="512.8" r="0.89" fill="#a44824" fill-opacity="0.75"/><circle cx="199.5" cy="505.0" r="0.59" fill="#a44824" fill-opacity="0.75"/><circle cx="201.6" cy="514.8" r="0.93" fill="#a44824" fill-opacity="0.75"/><circle cx="153.1" cy="523.8" r="0.65" fill="#a44824" fill-opacity="0.75"/><circle cx="212.7" cy="480.9" r="1.02" fill="#a44824" fill-opacity="0.75"/><circle cx="198.1" cy="487.8" r="0.90" fill="#a44824" fill-opacity="0.75"/><circle cx="147.0" cy="485.1" r="0.60" fill="#a44824" fill-opacity="0.75"/><circle cx="147.4" cy="500.0" r="0.96" fill="#a44824" fill-opacity="0.75"/><circle cx="188.7" cy="511.1" r="0.56" fill="#a44824" fill-opacity="0.75"/><circle cx="197.8" cy="515.3" r="0.77" fill="#a44824" fill-opacity="0.75"/><circle cx="212.3" cy="516.9" r="0.57" fill="#a44824" fill-opacity="0.75"/><circle cx="133.6" cy="508.1" r="0.90" fill="#a44824" fill-opacity="0.75"/><circle cx="156.9" cy="505.2" r="0.90" fill="#a44824" fill-opacity="0.75"/><circle cx="198.6" cy="475.2" r="0.62" fill="#a44824" fill-opacity="0.75"/><circle cx="127.1" cy="480.6" r="0.88" fill="#a44824" fill-opacity="0.75"/><circle cx="164.2" cy="505.7" r="0.60" fill="#a44824" fill-opacity="0.75"/><circle cx="156.5" cy="485.9" r="0.54" fill="#a44824" fill-opacity="0.75"/><circle cx="203.4" cy="506.5" r="0.50" fill="#a44824" fill-opacity="0.75"/><circle cx="133.7" cy="488.8" r="0.78" fill="#a44824" fill-opacity="0.75"/><circle cx="166.3" cy="508.6" r="0.87" fill="#a44824" fill-opacity="0.75"/><circle cx="136.7" cy="509.7" r="0.41" fill="#a44824" fill-opacity="0.75"/><circle cx="201.4" cy="484.4" r="0.49" fill="#a44824" fill-opacity="0.75"/><circle cx="213.8" cy="493.4" r="0.47" fill="#a44824" fill-opacity="0.75"/><circle cx="207.6" cy="506.0" r="0.95" fill="#a44824" fill-opacity="0.75"/><circle cx="161.9" cy="500.4" r="1.01" fill="#a44824" fill-opacity="0.75"/><circle cx="172.3" cy="525.2" r="0.45" fill="#a44824" fill-opacity="0.75"/><circle cx="202.1" cy="483.2" r="0.65" fill="#a44824" fill-opacity="0.75"/><circle cx="125.6" cy="483.9" r="1.00" fill="#a44824" fill-opacity="0.75"/><circle cx="167.5" cy="516.1" r="0.48" fill="#a44824" fill-opacity="0.75"/><circle cx="158.0" cy="480.1" r="0.67" fill="#a44824" fill-opacity="0.75"/><circle cx="205.0" cy="501.1" r="0.55" fill="#a44824" fill-opacity="0.75"/><circle cx="211.1" cy="520.4" r="0.75" fill="#a44824" fill-opacity="0.75"/><circle cx="132.6" cy="506.7" r="0.59" fill="#a44824" fill-opacity="0.75"/><circle cx="213.8" cy="493.4" r="0.75" fill="#a44824" fill-opacity="0.75"/><circle cx="183.8" cy="494.1" r="0.65" fill="#a44824" fill-opacity="0.75"/><circle cx="187.9" cy="521.1" r="0.63" fill="#a44824" fill-opacity="0.75"/><circle cx="159.1" cy="524.6" r="0.41" fill="#a44824" fill-opacity="0.75"/><circle cx="202.5" cy="509.7" r="0.67" fill="#a44824" fill-opacity="0.75"/><circle cx="166.8" cy="513.2" r="0.95" fill="#a44824" fill-opacity="0.75"/><circle cx="192.7" cy="513.1" r="0.40" fill="#a44824" fill-opacity="0.75"/><circle cx="155.6" cy="482.0" r="1.00" fill="#a44824" fill-opacity="0.75"/><circle cx="207.7" cy="482.3" r="0.69" fill="#a44824" fill-opacity="0.75"/><circle cx="178.7" cy="477.4" r="0.56" fill="#a44824" fill-opacity="0.75"/><circle cx="194.4" cy="507.6" r="0.50" fill="#a44824" fill-opacity="0.75"/><circle cx="195.8" cy="489.8" r="0.66" fill="#a44824" fill-opacity="0.75"/><circle cx="164.3" cy="524.7" r="0.74" fill="#a44824" fill-opacity="0.75"/><circle cx="199.7" cy="509.4" r="0.55" fill="#a44824" fill-opacity="0.75"/><circle cx="214.3" cy="511.1" r="0.77" fill="#a44824" fill-opacity="0.75"/><circle cx="151.2" cy="483.2" r="0.68" fill="#a44824" fill-opacity="0.75"/><circle cx="201.7" cy="515.3" r="0.53" fill="#a44824" fill-opacity="0.75"/><circle cx="138.5" cy="501.2" r="0.93" fill="#a44824" fill-opacity="0.75"/><circle cx="140.5" cy="512.5" r="0.45" fill="#a44824" fill-opacity="0.75"/><circle cx="154.3" cy="477.7" r="0.51" fill="#a44824" fill-opacity="0.75"/><circle cx="160.9" cy="524.1" r="1.01" fill="#a44824" fill-opacity="0.75"/><circle cx="142.8" cy="490.7" r="1.00" fill="#a44824" fill-opacity="0.75"/><circle cx="143.8" cy="491.3" r="0.59" fill="#a44824" fill-opacity="0.75"/><circle cx="135.6" cy="488.2" r="0.56" fill="#a44824" fill-opacity="0.75"/><circle cx="161.1" cy="524.0" r="0.49" fill="#a44824" fill-opacity="0.75"/><circle cx="144.4" cy="521.2" r="0.60" fill="#a44824" fill-opacity="0.75"/><circle cx="202.7" cy="507.4" r="0.85" fill="#a44824" fill-opacity="0.75"/><circle cx="154.6" cy="482.7" r="0.83" fill="#a44824" fill-opacity="0.75"/><circle cx="168.9" cy="503.4" r="0.76" fill="#a44824" fill-opacity="0.75"/><circle cx="194.9" cy="489.0" r="0.54" fill="#a44824" fill-opacity="0.75"/><circle cx="210.1" cy="501.9" r="0.50" fill="#a44824" fill-opacity="0.75"/><circle cx="183.6" cy="488.2" r="0.84" fill="#a44824" fill-opacity="0.75"/><circle cx="129.4" cy="517.0" r="0.68" fill="#a44824" fill-opacity="0.75"/><circle cx="158.2" cy="522.7" r="0.49" fill="#a44824" fill-opacity="0.75"/><circle cx="148.0" cy="478.5" r="0.66" fill="#a44824" fill-opacity="0.75"/><circle cx="195.0" cy="509.4" r="0.57" fill="#a44824" fill-opacity="0.75"/><circle cx="200.0" cy="480.7" r="0.51" fill="#a44824" fill-opacity="0.75"/><circle cx="185.0" cy="524.1" r="0.73" fill="#a44824" fill-opacity="0.75"/><circle cx="189.3" cy="514.4" r="0.56" fill="#a44824" fill-opacity="0.75"/><circle cx="212.2" cy="512.7" r="0.53" fill="#a44824" fill-opacity="0.75"/><circle cx="161.8" cy="515.9" r="0.53" fill="#a44824" fill-opacity="0.75"/><circle cx="142.7" cy="519.3" r="0.65" fill="#a44824" fill-opacity="0.75"/><circle cx="173.6" cy="509.0" r="0.96" fill="#a44824" fill-opacity="0.75"/><circle cx="137.9" cy="492.2" r="0.41" fill="#a44824" fill-opacity="0.75"/><circle cx="163.7" cy="500.5" r="0.91" fill="#a44824" fill-opacity="0.75"/><circle cx="187.1" cy="504.4" r="0.57" fill="#a44824" fill-opacity="0.75"/><circle cx="178.4" cy="488.9" r="0.90" fill="#a44824" fill-opacity="0.75"/></g></g>
<rect x="225.9" y="357.1" width="91.7" height="50.6" fill="#cdcee1"/>
<rect x="225.9" y="357.1" width="91.7" height="50.6" fill="#000" filter="url(#f_rux_0)"/>
<rect x="225.9" y="357.1" width="91.7" height="50.6" fill="#000" filter="url(#f_rux_1)"/>
<rect x="225.9" y="357.1" width="91.7" height="50.6" fill="#000" filter="url(#f_rux_2)"/>
<clipPath id="c_rux"><rect x="225.9" y="357.1" width="91.7" height="50.6"/></clipPath>
<g clip-path="url(#c_rux)"><g filter="url(#bb)"><circle cx="298.2" cy="399.5" r="0.44" fill="#b08c80" fill-opacity="0.45"/><circle cx="287.5" cy="395.3" r="0.61" fill="#b08c80" fill-opacity="0.45"/><circle cx="308.3" cy="402.6" r="0.78" fill="#b08c80" fill-opacity="0.45"/><circle cx="301.2" cy="389.9" r="0.89" fill="#b08c80" fill-opacity="0.45"/><circle cx="237.9" cy="392.7" r="0.75" fill="#b08c80" fill-opacity="0.45"/><circle cx="282.1" cy="371.0" r="0.41" fill="#b08c80" fill-opacity="0.45"/><circle cx="281.2" cy="398.8" r="0.49" fill="#b08c80" fill-opacity="0.45"/><circle cx="245.4" cy="368.4" r="0.42" fill="#b08c80" fill-opacity="0.45"/><circle cx="287.9" cy="406.4" r="0.83" fill="#b08c80" fill-opacity="0.45"/><circle cx="258.9" cy="392.5" r="0.41" fill="#b08c80" fill-opacity="0.45"/><circle cx="302.8" cy="373.6" r="0.40" fill="#b08c80" fill-opacity="0.45"/><circle cx="283.6" cy="364.1" r="0.49" fill="#b08c80" fill-opacity="0.45"/><circle cx="231.3" cy="379.7" r="0.65" fill="#b08c80" fill-opacity="0.45"/><circle cx="299.9" cy="359.1" r="0.85" fill="#b08c80" fill-opacity="0.45"/><circle cx="236.0" cy="368.5" r="0.70" fill="#b08c80" fill-opacity="0.45"/><circle cx="257.1" cy="373.9" r="0.66" fill="#b08c80" fill-opacity="0.45"/><circle cx="245.9" cy="397.2" r="0.46" fill="#b08c80" fill-opacity="0.45"/><circle cx="302.9" cy="398.0" r="0.64" fill="#b08c80" fill-opacity="0.45"/><circle cx="228.7" cy="396.5" r="0.40" fill="#b08c80" fill-opacity="0.45"/><circle cx="272.2" cy="378.5" r="0.41" fill="#b08c80" fill-opacity="0.45"/><circle cx="283.7" cy="393.8" r="0.67" fill="#b08c80" fill-opacity="0.45"/><circle cx="262.6" cy="383.0" r="0.67" fill="#b08c80" fill-opacity="0.45"/><circle cx="246.6" cy="401.0" r="1.00" fill="#b08c80" fill-opacity="0.45"/><circle cx="299.6" cy="405.7" r="0.51" fill="#b08c80" fill-opacity="0.45"/><circle cx="316.3" cy="360.7" r="0.60" fill="#b08c80" fill-opacity="0.45"/><circle cx="238.2" cy="380.1" r="0.74" fill="#b08c80" fill-opacity="0.45"/><circle cx="290.9" cy="380.1" r="0.52" fill="#b08c80" fill-opacity="0.45"/><circle cx="243.3" cy="377.5" r="0.49" fill="#b08c80" fill-opacity="0.45"/><circle cx="243.7" cy="394.3" r="0.62" fill="#b08c80" fill-opacity="0.45"/><circle cx="266.1" cy="367.1" r="0.75" fill="#b08c80" fill-opacity="0.45"/><circle cx="243.9" cy="370.5" r="0.65" fill="#b08c80" fill-opacity="0.45"/><circle cx="290.2" cy="406.3" r="0.79" fill="#b08c80" fill-opacity="0.45"/><circle cx="312.9" cy="403.6" r="0.77" fill="#b08c80" fill-opacity="0.45"/><circle cx="291.9" cy="360.3" r="0.46" fill="#b08c80" fill-opacity="0.45"/><circle cx="227.1" cy="400.8" r="0.77" fill="#b08c80" fill-opacity="0.45"/><circle cx="283.7" cy="370.4" r="0.53" fill="#b08c80" fill-opacity="0.45"/><circle cx="240.9" cy="389.1" r="0.99" fill="#b08c80" fill-opacity="0.45"/><circle cx="253.9" cy="359.3" r="0.44" fill="#b08c80" fill-opacity="0.45"/><circle cx="258.5" cy="402.6" r="0.83" fill="#b08c80" fill-opacity="0.45"/><circle cx="267.6" cy="362.3" r="0.42" fill="#b08c80" fill-opacity="0.45"/><circle cx="240.0" cy="396.4" r="0.59" fill="#b08c80" fill-opacity="0.45"/><circle cx="316.7" cy="403.2" r="0.83" fill="#b08c80" fill-opacity="0.45"/><circle cx="269.6" cy="398.7" r="0.43" fill="#b08c80" fill-opacity="0.45"/><circle cx="235.9" cy="385.6" r="0.62" fill="#b08c80" fill-opacity="0.45"/><circle cx="245.1" cy="369.8" r="0.40" fill="#b08c80" fill-opacity="0.45"/><circle cx="309.2" cy="393.0" r="0.95" fill="#b08c80" fill-opacity="0.45"/><circle cx="315.8" cy="379.2" r="0.78" fill="#b08c80" fill-opacity="0.45"/><circle cx="261.1" cy="398.2" r="0.86" fill="#b08c80" fill-opacity="0.45"/><circle cx="238.2" cy="357.8" r="0.46" fill="#b08c80" fill-opacity="0.45"/><circle cx="279.6" cy="376.3" r="0.40" fill="#b08c80" fill-opacity="0.45"/><circle cx="302.0" cy="396.9" r="0.59" fill="#b08c80" fill-opacity="0.45"/><circle cx="229.9" cy="402.1" r="0.63" fill="#b08c80" fill-opacity="0.45"/><circle cx="232.4" cy="373.5" r="0.70" fill="#b08c80" fill-opacity="0.45"/><circle cx="307.1" cy="381.6" r="0.71" fill="#b08c80" fill-opacity="0.45"/><circle cx="244.8" cy="369.4" r="0.92" fill="#b08c80" fill-opacity="0.45"/><circle cx="261.0" cy="362.4" r="0.67" fill="#b08c80" fill-opacity="0.45"/><circle cx="237.5" cy="367.2" r="0.59" fill="#b08c80" fill-opacity="0.45"/><circle cx="279.6" cy="389.3" r="0.76" fill="#b08c80" fill-opacity="0.45"/><circle cx="266.2" cy="360.5" r="0.77" fill="#b08c80" fill-opacity="0.45"/><circle cx="230.8" cy="380.9" r="0.55" fill="#b08c80" fill-opacity="0.45"/><circle cx="287.6" cy="393.2" r="0.47" fill="#b08c80" fill-opacity="0.45"/><circle cx="285.5" cy="392.1" r="0.59" fill="#b08c80" fill-opacity="0.45"/><circle cx="238.9" cy="403.1" r="0.68" fill="#b08c80" fill-opacity="0.45"/><circle cx="231.7" cy="369.2" r="0.99" fill="#b08c80" fill-opacity="0.45"/><circle cx="246.9" cy="377.0" r="0.82" fill="#b08c80" fill-opacity="0.45"/><circle cx="301.4" cy="389.2" r="0.78" fill="#b08c80" fill-opacity="0.45"/><circle cx="229.4" cy="361.8" r="0.98" fill="#b08c80" fill-opacity="0.45"/><circle cx="299.5" cy="359.0" r="0.41" fill="#b08c80" fill-opacity="0.45"/><circle cx="247.9" cy="404.2" r="0.46" fill="#b08c80" fill-opacity="0.45"/><circle cx="287.5" cy="404.2" r="0.71" fill="#b08c80" fill-opacity="0.45"/><circle cx="310.2" cy="370.4" r="0.44" fill="#b08c80" fill-opacity="0.45"/><circle cx="227.6" cy="395.4" r="0.42" fill="#b08c80" fill-opacity="0.45"/><circle cx="315.1" cy="393.0" r="0.45" fill="#b08c80" fill-opacity="0.45"/><circle cx="299.9" cy="365.3" r="0.62" fill="#b08c80" fill-opacity="0.45"/><circle cx="235.6" cy="396.9" r="0.90" fill="#b08c80" fill-opacity="0.45"/><circle cx="309.9" cy="357.2" r="0.87" fill="#b08c80" fill-opacity="0.45"/><circle cx="276.9" cy="398.7" r="0.61" fill="#b08c80" fill-opacity="0.45"/><circle cx="282.7" cy="387.2" r="0.83" fill="#b08c80" fill-opacity="0.45"/><circle cx="233.0" cy="359.8" r="0.64" fill="#b08c80" fill-opacity="0.45"/><circle cx="252.6" cy="377.2" r="0.40" fill="#b08c80" fill-opacity="0.45"/><circle cx="294.2" cy="358.3" r="0.85" fill="#b08c80" fill-opacity="0.45"/><circle cx="300.3" cy="380.3" r="0.43" fill="#b08c80" fill-opacity="0.45"/><circle cx="285.5" cy="367.6" r="0.57" fill="#b08c80" fill-opacity="0.45"/><circle cx="236.0" cy="406.5" r="0.64" fill="#b08c80" fill-opacity="0.45"/><circle cx="258.2" cy="361.9" r="0.77" fill="#b08c80" fill-opacity="0.45"/><circle cx="303.8" cy="400.0" r="0.42" fill="#b08c80" fill-opacity="0.45"/><circle cx="259.6" cy="372.4" r="0.80" fill="#b08c80" fill-opacity="0.45"/><circle cx="239.5" cy="387.8" r="0.98" fill="#b08c80" fill-opacity="0.45"/><circle cx="296.4" cy="357.5" r="0.41" fill="#b08c80" fill-opacity="0.45"/><circle cx="236.3" cy="392.1" r="0.68" fill="#b08c80" fill-opacity="0.45"/><circle cx="273.6" cy="380.2" r="0.56" fill="#b08c80" fill-opacity="0.45"/><circle cx="281.9" cy="389.9" r="0.93" fill="#b08c80" fill-opacity="0.45"/><circle cx="293.1" cy="397.4" r="0.92" fill="#b08c80" fill-opacity="0.45"/><circle cx="302.7" cy="393.4" r="0.40" fill="#b08c80" fill-opacity="0.45"/><circle cx="288.3" cy="400.1" r="0.57" fill="#b08c80" fill-opacity="0.45"/><circle cx="306.4" cy="366.2" r="0.95" fill="#b08c80" fill-opacity="0.45"/><circle cx="266.4" cy="392.8" r="0.48" fill="#b08c80" fill-opacity="0.45"/><circle cx="253.5" cy="374.7" r="0.51" fill="#b08c80" fill-opacity="0.45"/><circle cx="234.6" cy="379.5" r="0.98" fill="#b08c80" fill-opacity="0.45"/><circle cx="285.9" cy="404.3" r="0.80" fill="#b08c80" fill-opacity="0.45"/><circle cx="302.6" cy="407.4" r="0.79" fill="#b08c80" fill-opacity="0.45"/><circle cx="251.0" cy="369.7" r="0.56" fill="#b08c80" fill-opacity="0.45"/><circle cx="227.8" cy="368.8" r="0.90" fill="#b08c80" fill-opacity="0.45"/><circle cx="310.3" cy="373.7" r="0.81" fill="#b08c80" fill-opacity="0.45"/><circle cx="297.0" cy="402.1" r="0.82" fill="#b08c80" fill-opacity="0.45"/><circle cx="274.7" cy="362.4" r="0.85" fill="#b08c80" fill-opacity="0.45"/><circle cx="254.7" cy="388.8" r="0.53" fill="#b08c80" fill-opacity="0.45"/><circle cx="275.2" cy="406.0" r="0.44" fill="#b08c80" fill-opacity="0.45"/><circle cx="274.6" cy="390.0" r="0.64" fill="#b08c80" fill-opacity="0.45"/><circle cx="311.9" cy="377.7" r="0.92" fill="#b08c80" fill-opacity="0.45"/><circle cx="289.2" cy="406.1" r="0.42" fill="#b08c80" fill-opacity="0.45"/><circle cx="245.4" cy="371.6" r="0.92" fill="#b08c80" fill-opacity="0.45"/><circle cx="227.2" cy="370.3" r="0.76" fill="#b08c80" fill-opacity="0.45"/><circle cx="316.7" cy="366.0" r="0.57" fill="#b08c80" fill-opacity="0.45"/><circle cx="288.9" cy="392.0" r="0.79" fill="#b08c80" fill-opacity="0.45"/><circle cx="295.0" cy="369.7" r="0.48" fill="#b08c80" fill-opacity="0.45"/><circle cx="228.4" cy="392.1" r="0.46" fill="#b08c80" fill-opacity="0.45"/><circle cx="249.7" cy="405.9" r="0.71" fill="#b08c80" fill-opacity="0.45"/><circle cx="280.1" cy="390.3" r="0.68" fill="#b08c80" fill-opacity="0.45"/><circle cx="289.6" cy="372.5" r="0.41" fill="#b08c80" fill-opacity="0.45"/><circle cx="232.0" cy="357.8" r="0.53" fill="#b08c80" fill-opacity="0.45"/><circle cx="238.9" cy="362.8" r="0.61" fill="#b08c80" fill-opacity="0.45"/><circle cx="314.8" cy="391.9" r="0.49" fill="#b08c80" fill-opacity="0.45"/><circle cx="296.5" cy="366.1" r="0.42" fill="#b08c80" fill-opacity="0.45"/><circle cx="253.7" cy="377.8" r="0.74" fill="#b08c80" fill-opacity="0.45"/><circle cx="266.7" cy="394.0" r="0.42" fill="#b08c80" fill-opacity="0.45"/><circle cx="311.4" cy="374.4" r="0.86" fill="#b08c80" fill-opacity="0.45"/><circle cx="228.7" cy="399.0" r="0.46" fill="#b08c80" fill-opacity="0.45"/><circle cx="304.3" cy="397.7" r="0.73" fill="#b08c80" fill-opacity="0.45"/><circle cx="251.4" cy="357.6" r="0.45" fill="#b08c80" fill-opacity="0.45"/><circle cx="308.9" cy="365.1" r="0.72" fill="#b08c80" fill-opacity="0.45"/><circle cx="279.7" cy="390.6" r="0.45" fill="#b08c80" fill-opacity="0.45"/><circle cx="239.1" cy="362.0" r="0.98" fill="#b08c80" fill-opacity="0.45"/><circle cx="261.0" cy="390.1" r="0.66" fill="#b08c80" fill-opacity="0.45"/><circle cx="246.4" cy="360.4" r="0.40" fill="#b08c80" fill-opacity="0.45"/><circle cx="304.1" cy="363.7" r="0.97" fill="#b08c80" fill-opacity="0.45"/><circle cx="259.2" cy="393.7" r="0.43" fill="#b08c80" fill-opacity="0.45"/><circle cx="298.2" cy="369.8" r="0.53" fill="#b08c80" fill-opacity="0.45"/><circle cx="273.9" cy="362.7" r="0.47" fill="#b08c80" fill-opacity="0.45"/><circle cx="298.9" cy="371.5" r="0.54" fill="#b08c80" fill-opacity="0.45"/><circle cx="296.0" cy="368.4" r="0.45" fill="#b08c80" fill-opacity="0.45"/><circle cx="246.0" cy="376.5" r="0.53" fill="#b08c80" fill-opacity="0.45"/><circle cx="284.7" cy="381.0" r="0.89" fill="#b08c80" fill-opacity="0.45"/><circle cx="230.5" cy="390.7" r="0.86" fill="#b08c80" fill-opacity="0.45"/><circle cx="247.4" cy="358.6" r="0.57" fill="#b08c80" fill-opacity="0.45"/><circle cx="236.5" cy="380.4" r="0.76" fill="#b08c80" fill-opacity="0.45"/><circle cx="234.5" cy="363.1" r="0.60" fill="#b08c80" fill-opacity="0.45"/><circle cx="241.8" cy="368.8" r="0.58" fill="#b08c80" fill-opacity="0.45"/><circle cx="236.7" cy="360.5" r="0.53" fill="#b08c80" fill-opacity="0.45"/><circle cx="268.9" cy="404.5" r="0.65" fill="#b08c80" fill-opacity="0.45"/><circle cx="232.5" cy="368.4" r="0.79" fill="#b08c80" fill-opacity="0.45"/><circle cx="277.5" cy="401.1" r="0.97" fill="#b08c80" fill-opacity="0.45"/><circle cx="304.6" cy="362.7" r="0.95" fill="#b08c80" fill-opacity="0.45"/><circle cx="274.0" cy="369.2" r="0.44" fill="#b08c80" fill-opacity="0.45"/><circle cx="305.2" cy="367.8" r="0.41" fill="#b08c80" fill-opacity="0.45"/><circle cx="250.2" cy="403.9" r="0.59" fill="#b08c80" fill-opacity="0.45"/><circle cx="293.0" cy="360.9" r="0.58" fill="#b08c80" fill-opacity="0.45"/><circle cx="255.0" cy="367.5" r="0.72" fill="#b08c80" fill-opacity="0.45"/><circle cx="259.0" cy="363.2" r="0.99" fill="#b08c80" fill-opacity="0.45"/><circle cx="270.1" cy="366.2" r="0.40" fill="#b08c80" fill-opacity="0.45"/><circle cx="285.8" cy="383.1" r="0.40" fill="#b08c80" fill-opacity="0.45"/><circle cx="269.0" cy="394.6" r="0.64" fill="#b08c80" fill-opacity="0.45"/><circle cx="247.4" cy="382.3" r="0.68" fill="#b08c80" fill-opacity="0.45"/><circle cx="285.6" cy="364.4" r="0.83" fill="#b08c80" fill-opacity="0.45"/><circle cx="312.6" cy="394.6" r="0.88" fill="#b08c80" fill-opacity="0.45"/><circle cx="259.6" cy="402.8" r="0.45" fill="#b08c80" fill-opacity="0.45"/><circle cx="246.7" cy="387.4" r="0.91" fill="#b08c80" fill-opacity="0.45"/><circle cx="233.4" cy="368.1" r="0.40" fill="#b08c80" fill-opacity="0.45"/><circle cx="266.2" cy="364.2" r="0.45" fill="#b08c80" fill-opacity="0.45"/><circle cx="294.6" cy="386.6" r="0.95" fill="#b08c80" fill-opacity="0.45"/><circle cx="262.8" cy="391.5" r="0.40" fill="#b08c80" fill-opacity="0.45"/><circle cx="312.9" cy="368.9" r="0.60" fill="#b08c80" fill-opacity="0.45"/><circle cx="272.8" cy="405.1" r="0.61" fill="#b08c80" fill-opacity="0.45"/><circle cx="316.9" cy="388.5" r="0.46" fill="#b08c80" fill-opacity="0.45"/><circle cx="302.4" cy="367.3" r="1.00" fill="#b08c80" fill-opacity="0.45"/><circle cx="267.8" cy="368.5" r="0.97" fill="#b08c80" fill-opacity="0.45"/><circle cx="255.4" cy="377.7" r="0.52" fill="#b08c80" fill-opacity="0.45"/><circle cx="287.2" cy="358.3" r="0.54" fill="#b08c80" fill-opacity="0.45"/><circle cx="240.8" cy="399.0" r="0.40" fill="#b08c80" fill-opacity="0.45"/><circle cx="281.6" cy="370.1" r="0.58" fill="#b08c80" fill-opacity="0.45"/><circle cx="277.4" cy="393.1" r="0.43" fill="#b08c80" fill-opacity="0.45"/><circle cx="247.9" cy="363.2" r="0.96" fill="#b08c80" fill-opacity="0.45"/><circle cx="239.6" cy="364.0" r="0.63" fill="#b08c80" fill-opacity="0.45"/><circle cx="279.2" cy="402.0" r="0.41" fill="#b08c80" fill-opacity="0.45"/><circle cx="247.4" cy="365.6" r="0.67" fill="#b08c80" fill-opacity="0.45"/><circle cx="267.4" cy="377.8" r="0.90" fill="#b08c80" fill-opacity="0.45"/><circle cx="286.6" cy="400.6" r="0.96" fill="#b08c80" fill-opacity="0.45"/><circle cx="250.6" cy="404.8" r="0.56" fill="#b08c80" fill-opacity="0.45"/><circle cx="230.6" cy="403.4" r="0.42" fill="#b08c80" fill-opacity="0.45"/><circle cx="227.5" cy="371.8" r="0.49" fill="#b08c80" fill-opacity="0.45"/><circle cx="314.6" cy="401.1" r="0.56" fill="#b08c80" fill-opacity="0.45"/><circle cx="274.4" cy="400.1" r="0.84" fill="#b08c80" fill-opacity="0.45"/><circle cx="285.8" cy="383.0" r="0.42" fill="#b08c80" fill-opacity="0.45"/><circle cx="248.3" cy="390.4" r="0.67" fill="#b08c80" fill-opacity="0.45"/><circle cx="299.4" cy="402.6" r="0.97" fill="#b08c80" fill-opacity="0.45"/><circle cx="243.6" cy="360.9" r="0.91" fill="#b08c80" fill-opacity="0.45"/><circle cx="278.2" cy="366.3" r="0.75" fill="#b08c80" fill-opacity="0.45"/><circle cx="249.3" cy="369.1" r="0.53" fill="#b08c80" fill-opacity="0.45"/><circle cx="273.9" cy="391.4" r="0.41" fill="#b08c80" fill-opacity="0.45"/><circle cx="293.9" cy="388.7" r="0.59" fill="#b08c80" fill-opacity="0.45"/><circle cx="287.5" cy="397.6" r="0.50" fill="#a2603e" fill-opacity="0.55"/><circle cx="269.5" cy="391.4" r="0.80" fill="#a2603e" fill-opacity="0.55"/><circle cx="285.3" cy="366.2" r="0.97" fill="#a2603e" fill-opacity="0.55"/><circle cx="297.9" cy="368.9" r="0.64" fill="#a2603e" fill-opacity="0.55"/><circle cx="313.7" cy="367.6" r="0.63" fill="#a2603e" fill-opacity="0.55"/><circle cx="314.1" cy="402.6" r="0.56" fill="#a2603e" fill-opacity="0.55"/><circle cx="293.3" cy="375.3" r="0.77" fill="#a2603e" fill-opacity="0.55"/><circle cx="296.2" cy="363.6" r="0.55" fill="#a2603e" fill-opacity="0.55"/><circle cx="245.6" cy="370.6" r="0.50" fill="#a2603e" fill-opacity="0.55"/><circle cx="238.4" cy="377.7" r="0.64" fill="#a2603e" fill-opacity="0.55"/><circle cx="233.0" cy="386.6" r="0.96" fill="#a2603e" fill-opacity="0.55"/><circle cx="278.8" cy="375.1" r="0.80" fill="#a2603e" fill-opacity="0.55"/><circle cx="266.0" cy="366.0" r="0.67" fill="#a2603e" fill-opacity="0.55"/><circle cx="227.5" cy="391.3" r="0.53" fill="#a2603e" fill-opacity="0.55"/><circle cx="259.8" cy="405.8" r="0.84" fill="#a2603e" fill-opacity="0.55"/><circle cx="302.5" cy="389.6" r="0.75" fill="#a2603e" fill-opacity="0.55"/><circle cx="290.5" cy="406.0" r="0.54" fill="#a2603e" fill-opacity="0.55"/><circle cx="296.2" cy="372.3" r="0.56" fill="#a2603e" fill-opacity="0.55"/><circle cx="301.2" cy="387.5" r="0.89" fill="#a2603e" fill-opacity="0.55"/><circle cx="306.1" cy="386.9" r="0.54" fill="#a2603e" fill-opacity="0.55"/><circle cx="227.3" cy="384.2" r="0.81" fill="#a2603e" fill-opacity="0.55"/><circle cx="250.9" cy="360.6" r="0.50" fill="#a2603e" fill-opacity="0.55"/><circle cx="241.8" cy="392.3" r="0.50" fill="#a2603e" fill-opacity="0.55"/><circle cx="247.0" cy="370.5" r="0.80" fill="#a2603e" fill-opacity="0.55"/><circle cx="316.4" cy="358.1" r="0.52" fill="#a2603e" fill-opacity="0.55"/><circle cx="311.6" cy="406.2" r="0.53" fill="#a2603e" fill-opacity="0.55"/><circle cx="256.7" cy="383.5" r="0.59" fill="#a2603e" fill-opacity="0.55"/><circle cx="264.2" cy="381.3" r="0.57" fill="#a2603e" fill-opacity="0.55"/><circle cx="230.9" cy="361.3" r="0.53" fill="#a2603e" fill-opacity="0.55"/><circle cx="234.3" cy="388.7" r="0.79" fill="#a2603e" fill-opacity="0.55"/><circle cx="250.0" cy="397.2" r="0.81" fill="#a2603e" fill-opacity="0.55"/><circle cx="257.2" cy="382.0" r="0.54" fill="#a2603e" fill-opacity="0.55"/><circle cx="311.1" cy="385.5" r="0.51" fill="#a2603e" fill-opacity="0.55"/><circle cx="240.0" cy="392.1" r="0.62" fill="#a2603e" fill-opacity="0.55"/><circle cx="291.6" cy="368.7" r="0.86" fill="#a2603e" fill-opacity="0.55"/><circle cx="299.4" cy="361.9" r="0.72" fill="#a2603e" fill-opacity="0.55"/><circle cx="243.4" cy="392.9" r="0.86" fill="#a2603e" fill-opacity="0.55"/><circle cx="298.5" cy="368.8" r="0.51" fill="#a2603e" fill-opacity="0.55"/><circle cx="286.7" cy="385.7" r="0.53" fill="#a2603e" fill-opacity="0.55"/><circle cx="243.6" cy="386.6" r="0.52" fill="#a2603e" fill-opacity="0.55"/></g></g>
<rect x="225.9" y="416.0" width="91.7" height="51.0" fill="#cdcee1"/>
<rect x="225.9" y="416.0" width="91.7" height="51.0" fill="#000" filter="url(#f_dr_0)"/>
<rect x="225.9" y="416.0" width="91.7" height="51.0" fill="#000" filter="url(#f_dr_1)"/>
<rect x="225.9" y="416.0" width="91.7" height="51.0" fill="#000" filter="url(#f_dr_2)"/>
<clipPath id="c_dr"><rect x="225.9" y="416.0" width="91.7" height="51.0"/></clipPath>
<g clip-path="url(#c_dr)"><g filter="url(#bb)"><circle cx="284.0" cy="428.3" r="0.47" fill="#b08c80" fill-opacity="0.45"/><circle cx="264.7" cy="443.2" r="0.74" fill="#b08c80" fill-opacity="0.45"/><circle cx="228.7" cy="452.9" r="0.46" fill="#b08c80" fill-opacity="0.45"/><circle cx="252.6" cy="448.6" r="0.72" fill="#b08c80" fill-opacity="0.45"/><circle cx="282.3" cy="462.0" r="0.45" fill="#b08c80" fill-opacity="0.45"/><circle cx="254.4" cy="449.8" r="0.47" fill="#b08c80" fill-opacity="0.45"/><circle cx="240.3" cy="427.5" r="0.77" fill="#b08c80" fill-opacity="0.45"/><circle cx="301.7" cy="452.5" r="0.92" fill="#b08c80" fill-opacity="0.45"/><circle cx="298.7" cy="431.8" r="0.50" fill="#b08c80" fill-opacity="0.45"/><circle cx="292.0" cy="418.8" r="0.66" fill="#b08c80" fill-opacity="0.45"/><circle cx="234.1" cy="418.5" r="0.60" fill="#b08c80" fill-opacity="0.45"/><circle cx="239.8" cy="463.5" r="0.85" fill="#b08c80" fill-opacity="0.45"/><circle cx="268.2" cy="426.1" r="0.42" fill="#b08c80" fill-opacity="0.45"/><circle cx="272.4" cy="442.6" r="0.52" fill="#b08c80" fill-opacity="0.45"/><circle cx="291.6" cy="443.0" r="0.78" fill="#b08c80" fill-opacity="0.45"/><circle cx="235.6" cy="419.6" r="0.53" fill="#b08c80" fill-opacity="0.45"/><circle cx="270.2" cy="428.9" r="0.70" fill="#b08c80" fill-opacity="0.45"/><circle cx="246.2" cy="432.2" r="0.58" fill="#b08c80" fill-opacity="0.45"/><circle cx="291.2" cy="455.3" r="0.52" fill="#b08c80" fill-opacity="0.45"/><circle cx="266.9" cy="463.3" r="0.90" fill="#b08c80" fill-opacity="0.45"/><circle cx="282.6" cy="421.4" r="0.57" fill="#b08c80" fill-opacity="0.45"/><circle cx="284.3" cy="430.2" r="0.40" fill="#b08c80" fill-opacity="0.45"/><circle cx="315.9" cy="462.4" r="0.43" fill="#b08c80" fill-opacity="0.45"/><circle cx="268.6" cy="447.6" r="0.49" fill="#b08c80" fill-opacity="0.45"/><circle cx="232.2" cy="454.3" r="0.77" fill="#b08c80" fill-opacity="0.45"/><circle cx="266.0" cy="420.4" r="0.54" fill="#b08c80" fill-opacity="0.45"/><circle cx="234.5" cy="465.1" r="0.41" fill="#b08c80" fill-opacity="0.45"/><circle cx="252.3" cy="455.2" r="0.43" fill="#b08c80" fill-opacity="0.45"/><circle cx="235.7" cy="419.6" r="0.44" fill="#b08c80" fill-opacity="0.45"/><circle cx="274.7" cy="458.5" r="0.44" fill="#b08c80" fill-opacity="0.45"/><circle cx="241.8" cy="455.0" r="0.55" fill="#b08c80" fill-opacity="0.45"/><circle cx="256.9" cy="422.3" r="0.47" fill="#b08c80" fill-opacity="0.45"/><circle cx="315.0" cy="422.0" r="0.47" fill="#b08c80" fill-opacity="0.45"/><circle cx="293.8" cy="461.5" r="0.87" fill="#b08c80" fill-opacity="0.45"/><circle cx="269.3" cy="464.8" r="0.66" fill="#b08c80" fill-opacity="0.45"/><circle cx="252.4" cy="439.7" r="0.73" fill="#b08c80" fill-opacity="0.45"/><circle cx="293.2" cy="422.6" r="0.45" fill="#b08c80" fill-opacity="0.45"/><circle cx="313.8" cy="421.5" r="0.80" fill="#b08c80" fill-opacity="0.45"/><circle cx="257.0" cy="428.6" r="0.47" fill="#b08c80" fill-opacity="0.45"/><circle cx="268.9" cy="466.5" r="0.43" fill="#b08c80" fill-opacity="0.45"/><circle cx="304.3" cy="432.4" r="0.44" fill="#b08c80" fill-opacity="0.45"/><circle cx="294.2" cy="433.4" r="0.44" fill="#b08c80" fill-opacity="0.45"/><circle cx="264.3" cy="457.9" r="0.84" fill="#b08c80" fill-opacity="0.45"/><circle cx="278.6" cy="416.5" r="0.77" fill="#b08c80" fill-opacity="0.45"/><circle cx="281.5" cy="461.9" r="0.91" fill="#b08c80" fill-opacity="0.45"/><circle cx="255.9" cy="459.3" r="0.81" fill="#b08c80" fill-opacity="0.45"/><circle cx="250.3" cy="434.7" r="0.53" fill="#b08c80" fill-opacity="0.45"/><circle cx="258.3" cy="435.3" r="0.42" fill="#b08c80" fill-opacity="0.45"/><circle cx="246.7" cy="462.4" r="0.54" fill="#b08c80" fill-opacity="0.45"/><circle cx="284.2" cy="461.3" r="0.76" fill="#b08c80" fill-opacity="0.45"/><circle cx="248.3" cy="462.9" r="0.80" fill="#b08c80" fill-opacity="0.45"/><circle cx="316.7" cy="453.1" r="0.76" fill="#b08c80" fill-opacity="0.45"/><circle cx="300.5" cy="428.9" r="0.69" fill="#b08c80" fill-opacity="0.45"/><circle cx="260.8" cy="458.8" r="0.43" fill="#b08c80" fill-opacity="0.45"/><circle cx="275.3" cy="433.2" r="0.81" fill="#b08c80" fill-opacity="0.45"/><circle cx="257.6" cy="459.0" r="0.83" fill="#b08c80" fill-opacity="0.45"/><circle cx="306.5" cy="423.1" r="0.90" fill="#b08c80" fill-opacity="0.45"/><circle cx="294.1" cy="450.5" r="0.69" fill="#b08c80" fill-opacity="0.45"/><circle cx="230.3" cy="460.4" r="0.62" fill="#b08c80" fill-opacity="0.45"/><circle cx="267.7" cy="433.3" r="0.78" fill="#b08c80" fill-opacity="0.45"/><circle cx="297.6" cy="460.4" r="0.45" fill="#b08c80" fill-opacity="0.45"/><circle cx="257.1" cy="428.7" r="0.42" fill="#b08c80" fill-opacity="0.45"/><circle cx="255.9" cy="417.3" r="0.79" fill="#b08c80" fill-opacity="0.45"/><circle cx="246.7" cy="419.6" r="0.41" fill="#b08c80" fill-opacity="0.45"/><circle cx="293.9" cy="426.1" r="0.57" fill="#b08c80" fill-opacity="0.45"/><circle cx="262.7" cy="456.9" r="0.91" fill="#b08c80" fill-opacity="0.45"/><circle cx="254.3" cy="448.2" r="0.87" fill="#b08c80" fill-opacity="0.45"/><circle cx="269.0" cy="461.9" r="0.75" fill="#b08c80" fill-opacity="0.45"/><circle cx="254.5" cy="460.6" r="0.64" fill="#b08c80" fill-opacity="0.45"/><circle cx="235.6" cy="446.0" r="0.82" fill="#b08c80" fill-opacity="0.45"/><circle cx="273.4" cy="440.7" r="0.55" fill="#b08c80" fill-opacity="0.45"/><circle cx="306.6" cy="449.9" r="0.45" fill="#b08c80" fill-opacity="0.45"/><circle cx="259.1" cy="434.5" r="0.92" fill="#b08c80" fill-opacity="0.45"/><circle cx="289.7" cy="422.4" r="0.88" fill="#b08c80" fill-opacity="0.45"/><circle cx="229.1" cy="446.1" r="0.56" fill="#b08c80" fill-opacity="0.45"/><circle cx="291.7" cy="437.9" r="0.42" fill="#b08c80" fill-opacity="0.45"/><circle cx="273.9" cy="457.8" r="0.79" fill="#b08c80" fill-opacity="0.45"/><circle cx="258.6" cy="427.3" r="0.75" fill="#b08c80" fill-opacity="0.45"/><circle cx="299.4" cy="427.2" r="0.86" fill="#b08c80" fill-opacity="0.45"/><circle cx="316.9" cy="438.1" r="0.53" fill="#b08c80" fill-opacity="0.45"/><circle cx="291.0" cy="463.4" r="0.45" fill="#b08c80" fill-opacity="0.45"/><circle cx="253.6" cy="432.8" r="0.74" fill="#b08c80" fill-opacity="0.45"/><circle cx="243.0" cy="443.9" r="0.59" fill="#b08c80" fill-opacity="0.45"/><circle cx="287.2" cy="423.3" r="0.91" fill="#b08c80" fill-opacity="0.45"/><circle cx="317.6" cy="444.6" r="0.79" fill="#b08c80" fill-opacity="0.45"/><circle cx="242.7" cy="462.4" r="0.63" fill="#b08c80" fill-opacity="0.45"/><circle cx="295.5" cy="460.3" r="0.52" fill="#b08c80" fill-opacity="0.45"/><circle cx="310.6" cy="426.6" r="0.40" fill="#b08c80" fill-opacity="0.45"/><circle cx="272.0" cy="461.8" r="0.87" fill="#b08c80" fill-opacity="0.45"/><circle cx="313.5" cy="442.1" r="0.90" fill="#b08c80" fill-opacity="0.45"/><circle cx="277.2" cy="423.3" r="0.68" fill="#b08c80" fill-opacity="0.45"/><circle cx="299.6" cy="437.6" r="0.66" fill="#b08c80" fill-opacity="0.45"/><circle cx="249.7" cy="430.1" r="0.55" fill="#b08c80" fill-opacity="0.45"/><circle cx="273.0" cy="439.9" r="0.42" fill="#b08c80" fill-opacity="0.45"/><circle cx="226.4" cy="433.4" r="0.73" fill="#b08c80" fill-opacity="0.45"/><circle cx="294.5" cy="428.1" r="0.47" fill="#b08c80" fill-opacity="0.45"/><circle cx="273.3" cy="424.9" r="0.66" fill="#b08c80" fill-opacity="0.45"/><circle cx="308.8" cy="426.3" r="0.65" fill="#b08c80" fill-opacity="0.45"/><circle cx="292.0" cy="454.2" r="0.73" fill="#b08c80" fill-opacity="0.45"/><circle cx="291.1" cy="429.9" r="0.82" fill="#b08c80" fill-opacity="0.45"/><circle cx="310.7" cy="418.7" r="0.90" fill="#b08c80" fill-opacity="0.45"/><circle cx="266.5" cy="420.4" r="0.41" fill="#b08c80" fill-opacity="0.45"/><circle cx="299.0" cy="450.6" r="0.43" fill="#b08c80" fill-opacity="0.45"/><circle cx="268.1" cy="448.6" r="0.95" fill="#b08c80" fill-opacity="0.45"/><circle cx="256.7" cy="455.1" r="0.47" fill="#b08c80" fill-opacity="0.45"/><circle cx="244.1" cy="424.2" r="0.54" fill="#b08c80" fill-opacity="0.45"/><circle cx="282.6" cy="431.5" r="0.44" fill="#b08c80" fill-opacity="0.45"/><circle cx="245.9" cy="420.3" r="0.45" fill="#b08c80" fill-opacity="0.45"/><circle cx="254.9" cy="441.7" r="0.44" fill="#b08c80" fill-opacity="0.45"/><circle cx="269.9" cy="438.4" r="0.93" fill="#b08c80" fill-opacity="0.45"/><circle cx="270.5" cy="464.2" r="0.58" fill="#b08c80" fill-opacity="0.45"/><circle cx="244.1" cy="446.2" r="0.43" fill="#b08c80" fill-opacity="0.45"/><circle cx="241.4" cy="419.7" r="0.72" fill="#b08c80" fill-opacity="0.45"/><circle cx="314.6" cy="436.6" r="0.52" fill="#b08c80" fill-opacity="0.45"/><circle cx="264.9" cy="434.0" r="0.72" fill="#b08c80" fill-opacity="0.45"/><circle cx="261.8" cy="423.8" r="0.84" fill="#b08c80" fill-opacity="0.45"/><circle cx="278.4" cy="416.3" r="0.83" fill="#b08c80" fill-opacity="0.45"/><circle cx="292.7" cy="434.1" r="0.67" fill="#b08c80" fill-opacity="0.45"/><circle cx="310.3" cy="436.5" r="0.56" fill="#b08c80" fill-opacity="0.45"/><circle cx="253.2" cy="444.3" r="0.70" fill="#b08c80" fill-opacity="0.45"/><circle cx="293.3" cy="464.4" r="0.43" fill="#b08c80" fill-opacity="0.45"/><circle cx="259.4" cy="459.4" r="0.79" fill="#b08c80" fill-opacity="0.45"/><circle cx="280.0" cy="450.5" r="0.51" fill="#b08c80" fill-opacity="0.45"/><circle cx="312.5" cy="444.0" r="0.54" fill="#b08c80" fill-opacity="0.45"/><circle cx="242.6" cy="421.9" r="0.87" fill="#b08c80" fill-opacity="0.45"/><circle cx="299.3" cy="417.4" r="0.50" fill="#b08c80" fill-opacity="0.45"/><circle cx="269.9" cy="441.3" r="0.52" fill="#b08c80" fill-opacity="0.45"/><circle cx="308.0" cy="433.8" r="0.61" fill="#b08c80" fill-opacity="0.45"/><circle cx="311.1" cy="448.6" r="0.58" fill="#b08c80" fill-opacity="0.45"/><circle cx="256.4" cy="435.7" r="0.66" fill="#b08c80" fill-opacity="0.45"/><circle cx="298.0" cy="429.3" r="0.52" fill="#b08c80" fill-opacity="0.45"/><circle cx="261.5" cy="434.5" r="0.88" fill="#b08c80" fill-opacity="0.45"/><circle cx="275.3" cy="430.1" r="0.51" fill="#b08c80" fill-opacity="0.45"/><circle cx="301.2" cy="424.2" r="0.72" fill="#b08c80" fill-opacity="0.45"/><circle cx="227.9" cy="425.9" r="0.41" fill="#b08c80" fill-opacity="0.45"/><circle cx="299.8" cy="423.5" r="0.46" fill="#b08c80" fill-opacity="0.45"/><circle cx="231.2" cy="429.5" r="0.75" fill="#b08c80" fill-opacity="0.45"/><circle cx="291.9" cy="462.4" r="0.91" fill="#b08c80" fill-opacity="0.45"/><circle cx="276.4" cy="463.0" r="0.41" fill="#b08c80" fill-opacity="0.45"/><circle cx="310.7" cy="438.1" r="0.45" fill="#b08c80" fill-opacity="0.45"/><circle cx="294.5" cy="459.8" r="0.53" fill="#b08c80" fill-opacity="0.45"/><circle cx="234.4" cy="460.5" r="0.76" fill="#b08c80" fill-opacity="0.45"/><circle cx="280.6" cy="465.8" r="0.40" fill="#b08c80" fill-opacity="0.45"/><circle cx="231.0" cy="422.3" r="0.40" fill="#b08c80" fill-opacity="0.45"/><circle cx="290.8" cy="448.1" r="0.42" fill="#b08c80" fill-opacity="0.45"/><circle cx="240.8" cy="425.2" r="0.66" fill="#b08c80" fill-opacity="0.45"/><circle cx="287.6" cy="465.4" r="0.52" fill="#b08c80" fill-opacity="0.45"/><circle cx="315.7" cy="438.2" r="0.53" fill="#b08c80" fill-opacity="0.45"/><circle cx="249.1" cy="427.9" r="0.93" fill="#b08c80" fill-opacity="0.45"/><circle cx="317.1" cy="452.0" r="0.44" fill="#b08c80" fill-opacity="0.45"/><circle cx="242.4" cy="423.8" r="0.51" fill="#b08c80" fill-opacity="0.45"/><circle cx="293.5" cy="419.0" r="0.61" fill="#b08c80" fill-opacity="0.45"/><circle cx="288.3" cy="417.7" r="0.56" fill="#b08c80" fill-opacity="0.45"/><circle cx="298.4" cy="445.4" r="0.57" fill="#b08c80" fill-opacity="0.45"/><circle cx="306.7" cy="446.7" r="0.51" fill="#b08c80" fill-opacity="0.45"/><circle cx="262.2" cy="464.1" r="0.84" fill="#b08c80" fill-opacity="0.45"/><circle cx="309.8" cy="444.6" r="0.43" fill="#b08c80" fill-opacity="0.45"/><circle cx="242.0" cy="435.5" r="0.72" fill="#b08c80" fill-opacity="0.45"/><circle cx="226.3" cy="456.9" r="0.78" fill="#b08c80" fill-opacity="0.45"/><circle cx="273.1" cy="416.3" r="0.79" fill="#b08c80" fill-opacity="0.45"/><circle cx="263.9" cy="450.1" r="0.64" fill="#b08c80" fill-opacity="0.45"/><circle cx="292.7" cy="436.8" r="0.92" fill="#b08c80" fill-opacity="0.45"/><circle cx="313.5" cy="463.4" r="0.67" fill="#b08c80" fill-opacity="0.45"/><circle cx="254.9" cy="435.2" r="0.48" fill="#b08c80" fill-opacity="0.45"/><circle cx="308.8" cy="456.4" r="0.78" fill="#b08c80" fill-opacity="0.45"/><circle cx="301.2" cy="466.5" r="0.71" fill="#b08c80" fill-opacity="0.45"/><circle cx="255.1" cy="454.6" r="0.47" fill="#b08c80" fill-opacity="0.45"/><circle cx="281.9" cy="424.1" r="0.84" fill="#b08c80" fill-opacity="0.45"/><circle cx="270.7" cy="430.0" r="0.89" fill="#b08c80" fill-opacity="0.45"/><circle cx="233.5" cy="463.4" r="0.76" fill="#b08c80" fill-opacity="0.45"/><circle cx="239.6" cy="454.8" r="0.64" fill="#b08c80" fill-opacity="0.45"/><circle cx="309.1" cy="445.9" r="0.55" fill="#b08c80" fill-opacity="0.45"/><circle cx="311.5" cy="420.5" r="0.78" fill="#b08c80" fill-opacity="0.45"/><circle cx="235.3" cy="430.1" r="0.42" fill="#b08c80" fill-opacity="0.45"/><circle cx="305.8" cy="438.5" r="0.74" fill="#b08c80" fill-opacity="0.45"/><circle cx="249.4" cy="453.2" r="0.69" fill="#b08c80" fill-opacity="0.45"/><circle cx="234.8" cy="441.2" r="0.74" fill="#b08c80" fill-opacity="0.45"/><circle cx="245.6" cy="449.4" r="0.48" fill="#b08c80" fill-opacity="0.45"/><circle cx="259.9" cy="462.9" r="0.90" fill="#b08c80" fill-opacity="0.45"/><circle cx="317.4" cy="437.8" r="0.64" fill="#b08c80" fill-opacity="0.45"/><circle cx="300.0" cy="454.7" r="0.57" fill="#b08c80" fill-opacity="0.45"/><circle cx="305.1" cy="436.5" r="0.91" fill="#b08c80" fill-opacity="0.45"/><circle cx="269.3" cy="422.0" r="0.76" fill="#b08c80" fill-opacity="0.45"/><circle cx="239.2" cy="450.7" r="0.41" fill="#b08c80" fill-opacity="0.45"/><circle cx="316.5" cy="443.6" r="0.75" fill="#b08c80" fill-opacity="0.45"/><circle cx="237.9" cy="448.5" r="0.53" fill="#b08c80" fill-opacity="0.45"/><circle cx="248.7" cy="457.6" r="0.40" fill="#b08c80" fill-opacity="0.45"/><circle cx="269.7" cy="420.4" r="0.83" fill="#b08c80" fill-opacity="0.45"/><circle cx="307.8" cy="417.8" r="0.57" fill="#b08c80" fill-opacity="0.45"/><circle cx="268.9" cy="452.7" r="0.74" fill="#b08c80" fill-opacity="0.45"/><circle cx="257.4" cy="463.6" r="0.53" fill="#a2603e" fill-opacity="0.55"/><circle cx="238.4" cy="457.5" r="0.52" fill="#a2603e" fill-opacity="0.55"/><circle cx="243.0" cy="441.5" r="0.58" fill="#a2603e" fill-opacity="0.55"/><circle cx="240.9" cy="463.4" r="0.63" fill="#a2603e" fill-opacity="0.55"/><circle cx="298.0" cy="428.8" r="0.85" fill="#a2603e" fill-opacity="0.55"/><circle cx="246.2" cy="462.2" r="0.69" fill="#a2603e" fill-opacity="0.55"/><circle cx="314.9" cy="455.3" r="0.70" fill="#a2603e" fill-opacity="0.55"/><circle cx="274.8" cy="459.6" r="0.62" fill="#a2603e" fill-opacity="0.55"/><circle cx="234.9" cy="462.6" r="0.79" fill="#a2603e" fill-opacity="0.55"/><circle cx="288.4" cy="454.0" r="0.54" fill="#a2603e" fill-opacity="0.55"/><circle cx="268.4" cy="458.0" r="0.88" fill="#a2603e" fill-opacity="0.55"/><circle cx="310.6" cy="424.2" r="0.73" fill="#a2603e" fill-opacity="0.55"/><circle cx="276.7" cy="436.7" r="0.53" fill="#a2603e" fill-opacity="0.55"/><circle cx="238.5" cy="440.0" r="0.64" fill="#a2603e" fill-opacity="0.55"/><circle cx="250.5" cy="434.8" r="0.66" fill="#a2603e" fill-opacity="0.55"/><circle cx="295.8" cy="446.1" r="0.53" fill="#a2603e" fill-opacity="0.55"/><circle cx="307.2" cy="434.8" r="0.88" fill="#a2603e" fill-opacity="0.55"/><circle cx="315.9" cy="423.2" r="0.68" fill="#a2603e" fill-opacity="0.55"/><circle cx="314.6" cy="435.6" r="0.66" fill="#a2603e" fill-opacity="0.55"/><circle cx="254.7" cy="417.5" r="0.54" fill="#a2603e" fill-opacity="0.55"/><circle cx="237.3" cy="430.5" r="0.70" fill="#a2603e" fill-opacity="0.55"/><circle cx="277.5" cy="464.4" r="0.73" fill="#a2603e" fill-opacity="0.55"/><circle cx="259.1" cy="464.4" r="0.70" fill="#a2603e" fill-opacity="0.55"/><circle cx="275.7" cy="460.0" r="0.72" fill="#a2603e" fill-opacity="0.55"/><circle cx="258.9" cy="446.8" r="0.57" fill="#a2603e" fill-opacity="0.55"/><circle cx="314.8" cy="428.5" r="0.88" fill="#a2603e" fill-opacity="0.55"/><circle cx="231.8" cy="416.5" r="0.66" fill="#a2603e" fill-opacity="0.55"/><circle cx="244.8" cy="441.9" r="0.52" fill="#a2603e" fill-opacity="0.55"/><circle cx="302.6" cy="450.1" r="0.73" fill="#a2603e" fill-opacity="0.55"/><circle cx="310.9" cy="466.6" r="0.72" fill="#a2603e" fill-opacity="0.55"/><circle cx="291.3" cy="416.1" r="0.50" fill="#a2603e" fill-opacity="0.55"/><circle cx="265.0" cy="465.4" r="0.57" fill="#a2603e" fill-opacity="0.55"/><circle cx="278.0" cy="416.5" r="0.61" fill="#a2603e" fill-opacity="0.55"/><circle cx="308.7" cy="446.1" r="0.80" fill="#a2603e" fill-opacity="0.55"/><circle cx="227.1" cy="426.3" r="0.53" fill="#a2603e" fill-opacity="0.55"/></g></g>
<path d="M153.2,372.3 C158,374.5 165,378 170,380.6 C175,383 179,384 184,384 C190,383.6 196,381.6 202,379.8 C207,378.2 212,376.6 217.7,376 L217.7,382 C212,382.2 207,382.2 202,383.2 C196,384.4 190,386.2 184,386.8 C178.5,387 174,385.4 169,382.8 C163,379.8 158,376.6 152.6,374.2 Z" fill="#f4f2f4" opacity="0.92"/>
<path d="M172,385.6 C177,388 183,389 190,388.4" fill="none" stroke="#8a86c0" stroke-width="1.4" opacity="0.45"/>
<path d="M132.5,358 C137,361 142,364 146.5,368.5 L145.5,369.5 C141,366 136,362.5 131.5,359.5 Z" fill="#f4f2f4" opacity="0.9"/>
<path d="M168.5,357.6 L171,357.6 L175.5,363.6 L174.4,364.2 Z" fill="#f4f2f4" opacity="0.9"/>
<ellipse cx="159.2" cy="393.8" rx="0.9" ry="2.2" fill="#f4f2f4"/>
<ellipse cx="175.6" cy="404.5" rx="1.1" ry="2.4" fill="#f4f2f4"/>
<ellipse cx="185" cy="394" rx="0.8" ry="1.4" fill="#f4f2f4"/>
<ellipse cx="151.8" cy="432.5" rx="2.4" ry="1.9" fill="#f4f2f4"/>
<ellipse cx="172.5" cy="442.8" rx="2.6" ry="1.8" fill="#f4f2f4"/>
<ellipse cx="183.5" cy="431" rx="0.7" ry="2.2" fill="#f4f2f4" transform="rotate(25 183.5 431)"/>
<ellipse cx="170.5" cy="466" rx="1.5" ry="1.2" fill="#f4f2f4"/>
<ellipse cx="134.3" cy="481.3" rx="6.0" ry="3.6" fill="#f4f2f4" stroke="#a8481e" stroke-width="1.3" stroke-opacity="0.6" transform="rotate(-8 134.3 481.3)"/>
<ellipse cx="207.2" cy="490.2" rx="3.9" ry="3.3" fill="#f4f2f4" stroke="#a8481e" stroke-width="1.3" stroke-opacity="0.6"/>
<ellipse cx="190.8" cy="505.4" rx="5.0" ry="3.4" fill="#f4f2f4" stroke="#a8481e" stroke-width="1.3" stroke-opacity="0.6"/>
<ellipse cx="165.6" cy="494.8" rx="1.6" ry="1.5" fill="#f4f2f4" stroke="#a8481e" stroke-width="1.3" stroke-opacity="0.6"/>
<ellipse cx="141.2" cy="514.2" rx="1.3" ry="4.6" fill="#f4f2f4" stroke="#a8481e" stroke-width="1.3" stroke-opacity="0.6" transform="rotate(-35 141.2 514.2)"/>
<path d="M257,375.5 C259,374.2 262,375.6 265.3,376.8 C267.8,375.3 270,373.4 272.6,372.5 C273.9,373.1 273.2,375 271.6,377 C269.6,379.5 267,380.9 264.4,380.9 C261,380.7 257.4,378.5 257,375.5 Z" fill="#f4f2f4" stroke="#a85a44" stroke-width="0.9" stroke-opacity="0.55"/>
<ellipse cx="232.3" cy="398.2" rx="2.4" ry="1.3" fill="#f4f2f4" stroke="#a85a44" stroke-width="0.8" stroke-opacity="0.7"/>
<ellipse cx="308.6" cy="390.2" rx="1.8" ry="1.4" fill="#f4f2f4" stroke="#a85a44" stroke-width="0.8" stroke-opacity="0.7"/>
<path d="M226.5,358 C229,359.5 232,362 234.5,365" fill="none" stroke="#a85a44" stroke-width="1.0" stroke-opacity="0.6"/>
<ellipse cx="268.6" cy="387.6" rx="0.8" ry="1.3" fill="#f4f2f4"/>
<ellipse cx="279.6" cy="367.6" rx="0.7" ry="2.0" fill="#f4f2f4" transform="rotate(35 279.6 367.6)"/>
<ellipse cx="304.5" cy="359.6" rx="0.8" ry="2.0" fill="#f4f2f4" transform="rotate(20 304.5 359.6)"/>
<path d="M228,416 L238.5,416 C239.5,419 238.5,422.5 235.5,424 C232,425.2 229,423 228,419.5 Z" fill="#f4f2f4"/>
<ellipse cx="280.0" cy="436.2" rx="2.3" ry="3.8" fill="#f4f2f4" transform="rotate(-38 280.0 436.2)"/>
<circle cx="282.6" cy="439.6" r="1.3" fill="#9a4a34" opacity="0.8"/>
<circle cx="307.2" cy="434.4" r="1.0" fill="#9a4a34" opacity="0.7"/>
<ellipse cx="305.5" cy="436.6" rx="1.8" ry="1.7" fill="#f4f2f4"/>
<ellipse cx="255.0" cy="447.6" rx="1.7" ry="1.3" fill="#f4f2f4"/>
<path d="M300,467 C300.5,463 303,460.5 305,461 C307,461.7 307.3,464.5 306.8,467 Z" fill="#f4f2f4"/>
<defs><filter id="bb" x="-5%" y="-5%" width="110%" height="110%"><feGaussianBlur stdDeviation="0.45"/></filter><filter id="f_naive_0" x="0" y="0" width="1" height="1" color-interpolation-filters="sRGB"><feTurbulence type="fractalNoise" baseFrequency="0.8" numOctaves="1" seed="11" result="n"/><feColorMatrix type="matrix" values="0 0 0 0 0.698 0 0 0 0 0.706 0 0 0 0 0.839 3 0 0 0 -1.6"/><feGaussianBlur stdDeviation="0.45"/></filter><filter id="f_naive_1" x="0" y="0" width="1" height="1" color-interpolation-filters="sRGB"><feTurbulence type="fractalNoise" baseFrequency="0.8" numOctaves="1" seed="12" result="n"/><feColorMatrix type="matrix" values="0 0 0 0 0.902 0 0 0 0 0.910 0 0 0 0 0.949 3 0 0 0 -1.5"/><feGaussianBlur stdDeviation="0.45"/></filter><filter id="f_veh_0" x="0" y="0" width="1" height="1" color-interpolation-filters="sRGB"><feTurbulence type="fractalNoise" baseFrequency="0.7" numOctaves="1" seed="21" result="n"/><feColorMatrix type="matrix" values="0 0 0 0 0.769 0 0 0 0 0.690 0 0 0 0 0.722 4 0 0 0 -2.0"/><feGaussianBlur stdDeviation="0.4"/></filter><filter id="f_veh_1" x="0" y="0" width="1" height="1" color-interpolation-filters="sRGB"><feTurbulence type="fractalNoise" baseFrequency="0.6" numOctaves="1" seed="24" result="n"/><feColorMatrix type="matrix" values="0 0 0 0 0.784 0 0 0 0 0.604 0 0 0 0 0.533 6 0 0 0 -3.4"/><feGaussianBlur stdDeviation="0.4"/></filter><filter id="f_dex_0" x="0" y="0" width="1" height="1" color-interpolation-filters="sRGB"><feTurbulence type="fractalNoise" baseFrequency="0.7" numOctaves="1" seed="31" result="n"/><feColorMatrix type="matrix" values="0 0 0 0 0.804 0 0 0 0 0.737 0 0 0 0 0.753 4 0 0 0 -2.0"/><feGaussianBlur stdDeviation="0.4"/></filter><filter id="f_dex_1" x="0" y="0" width="1" height="1" color-interpolation-filters="sRGB"><feTurbulence type="fractalNoise" baseFrequency="0.6" numOctaves="1" seed="33" result="n"/><feColorMatrix type="matrix" values="0 0 0 0 0.800 0 0 0 0 0.604 0 0 0 0 0.518 6 0 0 0 -3.6"/><feGaussianBlur stdDeviation="0.4"/></filter><filter id="f_dex_2" x="0" y="0" width="1" height="1" color-interpolation-filters="sRGB"><feTurbulence type="fractalNoise" baseFrequency="0.3" numOctaves="2" seed="34" result="n"/><feColorMatrix type="matrix" values="0 0 0 0 0.761 0 0 0 0 0.478 0 0 0 0 0.353 5 0 0 0 -2.75"/><feGaussianBlur stdDeviation="0.45"/></filter><filter id="f_rux_0" x="0" y="0" width="1" height="1" color-interpolation-filters="sRGB"><feTurbulence type="fractalNoise" baseFrequency="0.8" numOctaves="1" seed="41" result="n"/><feColorMatrix type="matrix" values="0 0 0 0 0.706 0 0 0 0 0.706 0 0 0 0 0.824 3 0 0 0 -1.65"/><feGaussianBlur stdDeviation="0.45"/></filter><filter id="f_rux_1" x="0" y="0" width="1" height="1" color-interpolation-filters="sRGB"><feTurbulence type="fractalNoise" baseFrequency="0.8" numOctaves="1" seed="43" result="n"/><feColorMatrix type="matrix" values="0 0 0 0 0.878 0 0 0 0 0.878 0 0 0 0 0.925 3 0 0 0 -1.7"/><feGaussianBlur stdDeviation="0.45"/></filter><filter id="f_rux_2" x="0" y="0" width="1" height="1" color-interpolation-filters="sRGB"><feTurbulence type="fractalNoise" baseFrequency="0.5" numOctaves="1" seed="44" result="n"/><feColorMatrix type="matrix" values="0 0 0 0 0.769 0 0 0 0 0.643 0 0 0 0 0.659 6 0 0 0 -3.7"/><feGaussianBlur stdDeviation="0.5"/></filter><filter id="f_dr_0" x="0" y="0" width="1" height="1" color-interpolation-filters="sRGB"><feTurbulence type="fractalNoise" baseFrequency="0.8" numOctaves="1" seed="51" result="n"/><feColorMatrix type="matrix" values="0 0 0 0 0.698 0 0 0 0 0.706 0 0 0 0 0.824 3 0 0 0 -1.65"/><feGaussianBlur stdDeviation="0.45"/></filter><filter id="f_dr_1" x="0" y="0" width="1" height="1" color-interpolation-filters="sRGB"><feTurbulence type="fractalNoise" baseFrequency="0.8" numOctaves="1" seed="53" result="n"/><feColorMatrix type="matrix" values="0 0 0 0 0.878 0 0 0 0 0.878 0 0 0 0 0.925 3 0 0 0 -1.7"/><feGaussianBlur stdDeviation="0.45"/></filter><filter id="f_dr_2" x="0" y="0" width="1" height="1" color-interpolation-filters="sRGB"><feTurbulence type="fractalNoise" baseFrequency="0.5" numOctaves="1" seed="54" result="n"/><feColorMatrix type="matrix" values="0 0 0 0 0.769 0 0 0 0 0.643 0 0 0 0 0.659 6 0 0 0 -3.8"/><feGaussianBlur stdDeviation="0.5"/></filter></defs>
<defs><linearGradient id="pbg" x1="0" y1="0" x2="0" y2="1"><stop offset="0" stop-color="#e2e1dc"/><stop offset="1" stop-color="#d6d5ce"/></linearGradient><radialGradient id="spg" cx="0.4" cy="0.4" r="0.7"><stop offset="0" stop-color="#761422"/><stop offset="0.6" stop-color="#620e1a"/><stop offset="1" stop-color="#460a12"/></radialGradient></defs>
<rect x="359.1" y="183.8" width="39" height="87.2" fill="url(#pbg)"/>
<path d="M364.3,194 C364.2,191.4 366,190.6 369,190.7 L379.5,190.2 C382.8,189.4 385.1,189.9 385.1,192.4 C385.1,194.8 383,196.2 379,197.2 L369,198.7 C365.6,198.9 364.4,197 364.3,194 Z" fill="url(#spg)"/>
<path d="M363.6,211.5 C363.4,206.6 366.5,205 371.5,205.4 C377.5,206.2 383,206.2 388.5,204.8 C393.5,203.4 397.4,203.6 397.4,206.6 C397.4,211.2 392,216 384.5,218.4 C377.5,220 369,219.9 365.6,217.4 C364,216 363.6,213.5 363.6,211.5 Z" fill="url(#spg)"/>
<path d="M364,231.2 C364,227.2 366.2,225.4 370,225.4 L386,225.8 C391,226.2 394,228.6 394,231 C394,233.6 390,235.6 384,236.6 L370,237.1 C366,237.2 364,235.2 364,231.2 Z" fill="url(#spg)"/>
<path d="M362.3,246.7 C362.3,243.6 364.5,242.3 368,242.3 L384,242.8 C387.5,243 389.6,244.5 389.6,246.4 C389.6,248.6 386,250.1 381,250.6 L368,251.2 C364.5,251.3 362.3,249.6 362.3,246.7 Z" fill="url(#spg)"/>
<path d="M362,259.5 C362,256.9 364,255.6 367,255.6 L380,256 C383,256.2 384.6,257.5 384.6,259.3 C384.6,261.5 382,262.8 378,263.1 L367,263.4 C364,263.5 362,262.1 362,259.5 Z" fill="url(#spg)"/>
<linearGradient id="dke" x1="0" y1="0" x2="1" y2="0"><stop offset="0" stop-color="#300810" stop-opacity="0"/><stop offset="0.35" stop-color="#300810" stop-opacity="0.9"/><stop offset="1" stop-color="#2a0810"/></linearGradient>
<path d="M375,190.3 L379.5,190.2 C382.8,189.4 385.1,189.9 385.1,192.4 C385.1,194.8 383,196.2 379,197.2 L375,197.8 Z" fill="url(#dke)"/>
<ellipse cx="367.5" cy="191.8" rx="1.6" ry="0.6" fill="#e8b8bc" opacity="0.75"/>
<ellipse cx="372" cy="192.2" rx="1.2" ry="0.5" fill="#e8b8bc" opacity="0.75"/>
<ellipse cx="369" cy="195.8" rx="1.0" ry="0.5" fill="#e8b8bc" opacity="0.75"/>
<ellipse cx="380" cy="212" rx="1.2" ry="0.5" fill="#e8b8bc" opacity="0.75"/>
<ellipse cx="369" cy="210" rx="0.8" ry="0.4" fill="#e8b8bc" opacity="0.75"/>
<ellipse cx="383.5" cy="228.5" rx="1.2" ry="0.5" fill="#e8b8bc" opacity="0.75"/>
<ellipse cx="380" cy="231.5" rx="1.0" ry="0.5" fill="#e8b8bc" opacity="0.75"/>
<ellipse cx="368" cy="228.5" rx="0.7" ry="0.4" fill="#e8b8bc" opacity="0.75"/>
<ellipse cx="376" cy="246" rx="1.0" ry="0.4" fill="#e8b8bc" opacity="0.75"/>
<ellipse cx="381" cy="245.5" rx="0.8" ry="0.4" fill="#e8b8bc" opacity="0.75"/>
<ellipse cx="368" cy="259" rx="1.2" ry="0.5" fill="#e8b8bc" opacity="0.75"/>
<ellipse cx="381" cy="258.5" rx="0.6" ry="0.4" fill="#e8b8bc" opacity="0.75"/></svg>
<div class="frame"></div>
</body></html>
